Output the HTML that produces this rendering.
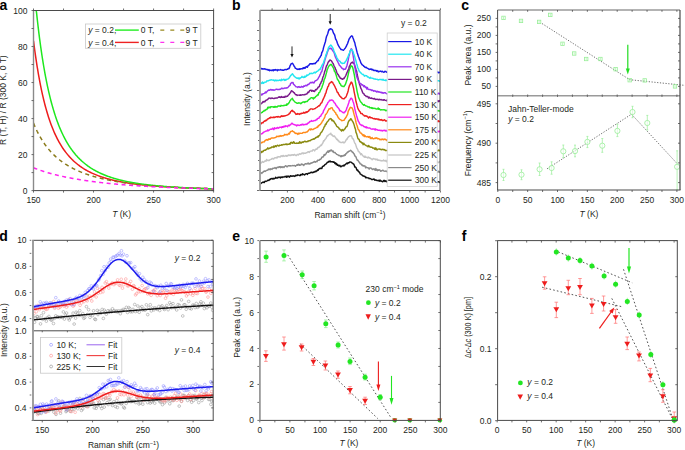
<!DOCTYPE html>
<html><head><meta charset="utf-8"><style>
html,body{margin:0;padding:0;background:#fff;width:685px;height:450px;overflow:hidden}
svg{display:block;font-family:"Liberation Sans",sans-serif}
</style></head><body>
<svg width="685" height="450" viewBox="0 0 685 450">
<rect width="685" height="450" fill="#fff"/>
<text x="-0.6" y="9.7" font-size="14" font-weight="bold" fill="#000">a</text>
<defs><clipPath id="ca"><rect x="33.5" y="10.5" width="180.1" height="180.1"/></clipPath></defs>
<g clip-path="url(#ca)">
<path d="M33.50,40.74 L34.10,45.45 L34.70,49.98 L35.31,54.31 L35.91,58.47 L36.51,62.47 L37.11,66.30 L37.72,69.99 L38.32,73.53 L38.92,76.93 L39.52,80.21 L40.13,83.36 L40.73,86.39 L41.33,89.31 L41.93,92.12 L42.54,94.83 L43.14,97.44 L43.74,99.96 L44.34,102.38 L44.94,104.72 L45.55,106.98 L46.15,109.16 L46.75,111.27 L47.35,113.30 L47.96,115.27 L48.56,117.17 L49.16,119.01 L49.76,120.78 L50.37,122.50 L50.97,124.16 L51.57,125.77 L52.17,127.32 L52.77,128.83 L53.38,130.29 L53.98,131.70 L54.58,133.08 L55.18,134.40 L55.79,135.69 L56.39,136.94 L56.99,138.15 L57.59,139.33 L58.20,140.47 L58.80,141.57 L59.40,142.65 L60.00,143.69 L60.61,144.70 L61.21,145.69 L61.81,146.65 L62.41,147.58 L63.01,148.48 L63.62,149.36 L64.22,150.21 L64.82,151.04 L65.42,151.85 L66.03,152.64 L66.63,153.40 L67.23,154.15 L67.83,154.87 L68.44,155.58 L69.04,156.27 L69.64,156.94 L70.24,157.59 L70.85,158.23 L71.45,158.85 L72.05,159.45 L72.65,160.04 L73.25,160.62 L73.86,161.18 L74.46,161.73 L75.06,162.26 L75.66,162.78 L76.27,163.29 L76.87,163.78 L77.47,164.27 L78.07,164.74 L78.68,165.20 L79.28,165.65 L79.88,166.09 L80.48,166.52 L81.08,166.94 L81.69,167.35 L82.29,167.75 L82.89,168.14 L83.49,168.53 L84.10,168.90 L84.70,169.27 L85.30,169.63 L85.90,169.98 L86.51,170.32 L87.11,170.66 L87.71,170.98 L88.31,171.30 L88.92,171.62 L89.52,171.93 L90.12,172.23 L90.72,172.52 L91.32,172.81 L91.93,173.09 L92.53,173.37 L93.13,173.64 L93.73,173.91 L94.34,174.17 L94.94,174.42 L95.54,174.67 L96.14,174.91 L96.75,175.15 L97.35,175.39 L97.95,175.62 L98.55,175.84 L99.16,176.07 L99.76,176.28 L100.36,176.50 L100.96,176.70 L101.56,176.91 L102.17,177.11 L102.77,177.31 L103.37,177.50 L103.97,177.69 L104.58,177.88 L105.18,178.06 L105.78,178.24 L106.38,178.41 L106.99,178.59 L107.59,178.75 L108.19,178.92 L108.79,179.08 L109.39,179.24 L110.00,179.40 L110.60,179.56 L111.20,179.71 L111.80,179.86 L112.41,180.00 L113.01,180.15 L113.61,180.29 L114.21,180.43 L114.82,180.57 L115.42,180.70 L116.02,180.83 L116.62,180.96 L117.23,181.09 L117.83,181.21 L118.43,181.34 L119.03,181.46 L119.63,181.58 L120.24,181.69 L120.84,181.81 L121.44,181.92 L122.04,182.03 L122.65,182.14 L123.25,182.25 L123.85,182.36 L124.45,182.46 L125.06,182.56 L125.66,182.66 L126.26,182.76 L126.86,182.86 L127.47,182.96 L128.07,183.05 L128.67,183.15 L129.27,183.24 L129.87,183.33 L130.48,183.42 L131.08,183.50 L131.68,183.59 L132.28,183.67 L132.89,183.76 L133.49,183.84 L134.09,183.92 L134.69,184.00 L135.30,184.08 L135.90,184.15 L136.50,184.23 L137.10,184.31 L137.71,184.38 L138.31,184.45 L138.91,184.52 L139.51,184.59 L140.11,184.66 L140.72,184.73 L141.32,184.80 L141.92,184.86 L142.52,184.93 L143.13,184.99 L143.73,185.06 L144.33,185.12 L144.93,185.18 L145.54,185.24 L146.14,185.30 L146.74,185.36 L147.34,185.42 L147.94,185.48 L148.55,185.53 L149.15,185.59 L149.75,185.65 L150.35,185.70 L150.96,185.75 L151.56,185.81 L152.16,185.86 L152.76,185.91 L153.37,185.96 L153.97,186.01 L154.57,186.06 L155.17,186.11 L155.78,186.16 L156.38,186.20 L156.98,186.25 L157.58,186.30 L158.18,186.34 L158.79,186.39 L159.39,186.43 L159.99,186.47 L160.59,186.52 L161.20,186.56 L161.80,186.60 L162.40,186.64 L163.00,186.68 L163.61,186.72 L164.21,186.76 L164.81,186.80 L165.41,186.84 L166.02,186.88 L166.62,186.92 L167.22,186.95 L167.82,186.99 L168.42,187.03 L169.03,187.06 L169.63,187.10 L170.23,187.13 L170.83,187.17 L171.44,187.20 L172.04,187.23 L172.64,187.27 L173.24,187.30 L173.85,187.33 L174.45,187.36 L175.05,187.39 L175.65,187.43 L176.25,187.46 L176.86,187.49 L177.46,187.52 L178.06,187.55 L178.66,187.58 L179.27,187.60 L179.87,187.63 L180.47,187.66 L181.07,187.69 L181.68,187.72 L182.28,187.74 L182.88,187.77 L183.48,187.80 L184.09,187.82 L184.69,187.85 L185.29,187.88 L185.89,187.90 L186.49,187.93 L187.10,187.95 L187.70,187.97 L188.30,188.00 L188.90,188.02 L189.51,188.05 L190.11,188.07 L190.71,188.09 L191.31,188.12 L191.92,188.14 L192.52,188.16 L193.12,188.18 L193.72,188.20 L194.33,188.23 L194.93,188.25 L195.53,188.27 L196.13,188.29 L196.73,188.31 L197.34,188.33 L197.94,188.35 L198.54,188.37 L199.14,188.39 L199.75,188.41 L200.35,188.43 L200.95,188.45 L201.55,188.46 L202.16,188.48 L202.76,188.50 L203.36,188.52 L203.96,188.54 L204.56,188.56 L205.17,188.57 L205.77,188.59 L206.37,188.61 L206.97,188.62 L207.58,188.64 L208.18,188.66 L208.78,188.67 L209.38,188.69 L209.99,188.71 L210.59,188.72 L211.19,188.74 L211.79,188.75 L212.40,188.77 L213.00,188.78 L213.60,188.80" fill="none" stroke="#ee1c1c" stroke-width="1.5" stroke-linejoin="round" />
<path d="M33.50,8.70 L34.10,8.70 L34.70,8.70 L35.31,8.70 L35.91,8.70 L36.51,12.34 L37.11,17.92 L37.72,23.27 L38.32,28.41 L38.92,33.34 L39.52,38.07 L40.13,42.62 L40.73,47.00 L41.33,51.20 L41.93,55.25 L42.54,59.14 L43.14,62.89 L43.74,66.50 L44.34,69.97 L44.94,73.32 L45.55,76.55 L46.15,79.66 L46.75,82.66 L47.35,85.56 L47.96,88.35 L48.56,91.05 L49.16,93.66 L49.76,96.17 L50.37,98.60 L50.97,100.95 L51.57,103.23 L52.17,105.42 L52.77,107.55 L53.38,109.60 L53.98,111.59 L54.58,113.52 L55.18,115.39 L55.79,117.19 L56.39,118.95 L56.99,120.64 L57.59,122.29 L58.20,123.88 L58.80,125.43 L59.40,126.93 L60.00,128.38 L60.61,129.79 L61.21,131.16 L61.81,132.49 L62.41,133.78 L63.01,135.04 L63.62,136.26 L64.22,137.44 L64.82,138.59 L65.42,139.71 L66.03,140.80 L66.63,141.86 L67.23,142.89 L67.83,143.89 L68.44,144.86 L69.04,145.81 L69.64,146.73 L70.24,147.63 L70.85,148.50 L71.45,149.35 L72.05,150.18 L72.65,150.99 L73.25,151.78 L73.86,152.54 L74.46,153.29 L75.06,154.02 L75.66,154.73 L76.27,155.42 L76.87,156.10 L77.47,156.76 L78.07,157.40 L78.68,158.03 L79.28,158.64 L79.88,159.24 L80.48,159.82 L81.08,160.39 L81.69,160.95 L82.29,161.49 L82.89,162.02 L83.49,162.54 L84.10,163.04 L84.70,163.54 L85.30,164.02 L85.90,164.49 L86.51,164.95 L87.11,165.41 L87.71,165.85 L88.31,166.28 L88.92,166.70 L89.52,167.11 L90.12,167.51 L90.72,167.91 L91.32,168.30 L91.93,168.67 L92.53,169.04 L93.13,169.41 L93.73,169.76 L94.34,170.11 L94.94,170.45 L95.54,170.78 L96.14,171.10 L96.75,171.42 L97.35,171.73 L97.95,172.04 L98.55,172.34 L99.16,172.63 L99.76,172.92 L100.36,173.20 L100.96,173.48 L101.56,173.75 L102.17,174.01 L102.77,174.27 L103.37,174.53 L103.97,174.78 L104.58,175.02 L105.18,175.26 L105.78,175.50 L106.38,175.73 L106.99,175.96 L107.59,176.18 L108.19,176.40 L108.79,176.61 L109.39,176.82 L110.00,177.03 L110.60,177.23 L111.20,177.43 L111.80,177.62 L112.41,177.82 L113.01,178.00 L113.61,178.19 L114.21,178.37 L114.82,178.55 L115.42,178.72 L116.02,178.89 L116.62,179.06 L117.23,179.22 L117.83,179.39 L118.43,179.55 L119.03,179.70 L119.63,179.86 L120.24,180.01 L120.84,180.16 L121.44,180.30 L122.04,180.45 L122.65,180.59 L123.25,180.73 L123.85,180.86 L124.45,181.00 L125.06,181.13 L125.66,181.26 L126.26,181.38 L126.86,181.51 L127.47,181.63 L128.07,181.75 L128.67,181.87 L129.27,181.99 L129.87,182.10 L130.48,182.22 L131.08,182.33 L131.68,182.44 L132.28,182.54 L132.89,182.65 L133.49,182.75 L134.09,182.86 L134.69,182.96 L135.30,183.06 L135.90,183.15 L136.50,183.25 L137.10,183.34 L137.71,183.44 L138.31,183.53 L138.91,183.62 L139.51,183.71 L140.11,183.80 L140.72,183.88 L141.32,183.97 L141.92,184.05 L142.52,184.13 L143.13,184.21 L143.73,184.29 L144.33,184.37 L144.93,184.45 L145.54,184.52 L146.14,184.60 L146.74,184.67 L147.34,184.74 L147.94,184.82 L148.55,184.89 L149.15,184.95 L149.75,185.02 L150.35,185.09 L150.96,185.16 L151.56,185.22 L152.16,185.29 L152.76,185.35 L153.37,185.41 L153.97,185.47 L154.57,185.53 L155.17,185.59 L155.78,185.65 L156.38,185.71 L156.98,185.77 L157.58,185.83 L158.18,185.88 L158.79,185.94 L159.39,185.99 L159.99,186.04 L160.59,186.10 L161.20,186.15 L161.80,186.20 L162.40,186.25 L163.00,186.30 L163.61,186.35 L164.21,186.40 L164.81,186.44 L165.41,186.49 L166.02,186.54 L166.62,186.58 L167.22,186.63 L167.82,186.67 L168.42,186.72 L169.03,186.76 L169.63,186.80 L170.23,186.84 L170.83,186.88 L171.44,186.93 L172.04,186.97 L172.64,187.01 L173.24,187.04 L173.85,187.08 L174.45,187.12 L175.05,187.16 L175.65,187.20 L176.25,187.23 L176.86,187.27 L177.46,187.31 L178.06,187.34 L178.66,187.38 L179.27,187.41 L179.87,187.44 L180.47,187.48 L181.07,187.51 L181.68,187.54 L182.28,187.58 L182.88,187.61 L183.48,187.64 L184.09,187.67 L184.69,187.70 L185.29,187.73 L185.89,187.76 L186.49,187.79 L187.10,187.82 L187.70,187.85 L188.30,187.88 L188.90,187.90 L189.51,187.93 L190.11,187.96 L190.71,187.99 L191.31,188.01 L191.92,188.04 L192.52,188.06 L193.12,188.09 L193.72,188.12 L194.33,188.14 L194.93,188.16 L195.53,188.19 L196.13,188.21 L196.73,188.24 L197.34,188.26 L197.94,188.28 L198.54,188.31 L199.14,188.33 L199.75,188.35 L200.35,188.37 L200.95,188.40 L201.55,188.42 L202.16,188.44 L202.76,188.46 L203.36,188.48 L203.96,188.50 L204.56,188.52 L205.17,188.54 L205.77,188.56 L206.37,188.58 L206.97,188.60 L207.58,188.62 L208.18,188.64 L208.78,188.66 L209.38,188.68 L209.99,188.69 L210.59,188.71 L211.19,188.73 L211.79,188.75 L212.40,188.76 L213.00,188.78 L213.60,188.80" fill="none" stroke="#1ee81e" stroke-width="1.5" stroke-linejoin="round" />
<path d="M33.50,123.16 L34.10,124.62 L34.70,126.03 L35.31,127.39 L35.91,128.71 L36.51,129.99 L37.11,131.24 L37.72,132.44 L38.32,133.61 L38.92,134.75 L39.52,135.85 L40.13,136.92 L40.73,137.96 L41.33,138.97 L41.93,139.95 L42.54,140.91 L43.14,141.84 L43.74,142.74 L44.34,143.62 L44.94,144.48 L45.55,145.31 L46.15,146.12 L46.75,146.92 L47.35,147.69 L47.96,148.44 L48.56,149.17 L49.16,149.89 L49.76,150.59 L50.37,151.27 L50.97,151.93 L51.57,152.58 L52.17,153.21 L52.77,153.83 L53.38,154.43 L53.98,155.02 L54.58,155.60 L55.18,156.16 L55.79,156.72 L56.39,157.26 L56.99,157.78 L57.59,158.30 L58.20,158.80 L58.80,159.30 L59.40,159.78 L60.00,160.25 L60.61,160.72 L61.21,161.17 L61.81,161.61 L62.41,162.05 L63.01,162.47 L63.62,162.89 L64.22,163.30 L64.82,163.70 L65.42,164.10 L66.03,164.48 L66.63,164.86 L67.23,165.23 L67.83,165.59 L68.44,165.95 L69.04,166.30 L69.64,166.65 L70.24,166.98 L70.85,167.31 L71.45,167.64 L72.05,167.96 L72.65,168.27 L73.25,168.58 L73.86,168.88 L74.46,169.18 L75.06,169.47 L75.66,169.76 L76.27,170.04 L76.87,170.32 L77.47,170.59 L78.07,170.85 L78.68,171.12 L79.28,171.38 L79.88,171.63 L80.48,171.88 L81.08,172.13 L81.69,172.37 L82.29,172.60 L82.89,172.84 L83.49,173.07 L84.10,173.29 L84.70,173.52 L85.30,173.74 L85.90,173.95 L86.51,174.16 L87.11,174.37 L87.71,174.58 L88.31,174.78 L88.92,174.98 L89.52,175.17 L90.12,175.37 L90.72,175.56 L91.32,175.75 L91.93,175.93 L92.53,176.11 L93.13,176.29 L93.73,176.47 L94.34,176.64 L94.94,176.81 L95.54,176.98 L96.14,177.14 L96.75,177.31 L97.35,177.47 L97.95,177.63 L98.55,177.78 L99.16,177.94 L99.76,178.09 L100.36,178.24 L100.96,178.39 L101.56,178.53 L102.17,178.68 L102.77,178.82 L103.37,178.96 L103.97,179.09 L104.58,179.23 L105.18,179.36 L105.78,179.49 L106.38,179.62 L106.99,179.75 L107.59,179.88 L108.19,180.00 L108.79,180.13 L109.39,180.25 L110.00,180.37 L110.60,180.49 L111.20,180.60 L111.80,180.72 L112.41,180.83 L113.01,180.94 L113.61,181.05 L114.21,181.16 L114.82,181.27 L115.42,181.37 L116.02,181.48 L116.62,181.58 L117.23,181.68 L117.83,181.78 L118.43,181.88 L119.03,181.98 L119.63,182.08 L120.24,182.17 L120.84,182.27 L121.44,182.36 L122.04,182.45 L122.65,182.54 L123.25,182.63 L123.85,182.72 L124.45,182.80 L125.06,182.89 L125.66,182.97 L126.26,183.06 L126.86,183.14 L127.47,183.22 L128.07,183.30 L128.67,183.38 L129.27,183.46 L129.87,183.54 L130.48,183.62 L131.08,183.69 L131.68,183.77 L132.28,183.84 L132.89,183.91 L133.49,183.98 L134.09,184.05 L134.69,184.12 L135.30,184.19 L135.90,184.26 L136.50,184.33 L137.10,184.40 L137.71,184.46 L138.31,184.53 L138.91,184.59 L139.51,184.66 L140.11,184.72 L140.72,184.78 L141.32,184.84 L141.92,184.90 L142.52,184.96 L143.13,185.02 L143.73,185.08 L144.33,185.14 L144.93,185.19 L145.54,185.25 L146.14,185.31 L146.74,185.36 L147.34,185.42 L147.94,185.47 L148.55,185.52 L149.15,185.57 L149.75,185.63 L150.35,185.68 L150.96,185.73 L151.56,185.78 L152.16,185.83 L152.76,185.88 L153.37,185.92 L153.97,185.97 L154.57,186.02 L155.17,186.07 L155.78,186.11 L156.38,186.16 L156.98,186.20 L157.58,186.25 L158.18,186.29 L158.79,186.33 L159.39,186.38 L159.99,186.42 L160.59,186.46 L161.20,186.50 L161.80,186.54 L162.40,186.58 L163.00,186.62 L163.61,186.66 L164.21,186.70 L164.81,186.74 L165.41,186.78 L166.02,186.82 L166.62,186.86 L167.22,186.89 L167.82,186.93 L168.42,186.96 L169.03,187.00 L169.63,187.04 L170.23,187.07 L170.83,187.11 L171.44,187.14 L172.04,187.17 L172.64,187.21 L173.24,187.24 L173.85,187.27 L174.45,187.30 L175.05,187.34 L175.65,187.37 L176.25,187.40 L176.86,187.43 L177.46,187.46 L178.06,187.49 L178.66,187.52 L179.27,187.55 L179.87,187.58 L180.47,187.61 L181.07,187.64 L181.68,187.67 L182.28,187.69 L182.88,187.72 L183.48,187.75 L184.09,187.77 L184.69,187.80 L185.29,187.83 L185.89,187.85 L186.49,187.88 L187.10,187.91 L187.70,187.93 L188.30,187.96 L188.90,187.98 L189.51,188.01 L190.11,188.03 L190.71,188.05 L191.31,188.08 L191.92,188.10 L192.52,188.12 L193.12,188.15 L193.72,188.17 L194.33,188.19 L194.93,188.21 L195.53,188.24 L196.13,188.26 L196.73,188.28 L197.34,188.30 L197.94,188.32 L198.54,188.34 L199.14,188.36 L199.75,188.38 L200.35,188.40 L200.95,188.42 L201.55,188.44 L202.16,188.46 L202.76,188.48 L203.36,188.50 L203.96,188.52 L204.56,188.54 L205.17,188.56 L205.77,188.58 L206.37,188.59 L206.97,188.61 L207.58,188.63 L208.18,188.65 L208.78,188.67 L209.38,188.68 L209.99,188.70 L210.59,188.72 L211.19,188.73 L211.79,188.75 L212.40,188.77 L213.00,188.78 L213.60,188.80" fill="none" stroke="#8a7a1a" stroke-width="1.5" stroke-linejoin="round" stroke-dasharray="4,3.5"/>
<path d="M33.50,167.71 L34.10,167.96 L34.70,168.21 L35.31,168.45 L35.91,168.69 L36.51,168.92 L37.11,169.15 L37.72,169.38 L38.32,169.60 L38.92,169.82 L39.52,170.04 L40.13,170.25 L40.73,170.46 L41.33,170.66 L41.93,170.87 L42.54,171.07 L43.14,171.26 L43.74,171.46 L44.34,171.65 L44.94,171.84 L45.55,172.02 L46.15,172.21 L46.75,172.39 L47.35,172.57 L47.96,172.74 L48.56,172.92 L49.16,173.09 L49.76,173.26 L50.37,173.43 L50.97,173.59 L51.57,173.76 L52.17,173.92 L52.77,174.08 L53.38,174.23 L53.98,174.39 L54.58,174.54 L55.18,174.69 L55.79,174.84 L56.39,174.99 L56.99,175.14 L57.59,175.28 L58.20,175.42 L58.80,175.56 L59.40,175.70 L60.00,175.84 L60.61,175.98 L61.21,176.11 L61.81,176.25 L62.41,176.38 L63.01,176.51 L63.62,176.64 L64.22,176.77 L64.82,176.89 L65.42,177.02 L66.03,177.14 L66.63,177.26 L67.23,177.39 L67.83,177.50 L68.44,177.62 L69.04,177.74 L69.64,177.86 L70.24,177.97 L70.85,178.09 L71.45,178.20 L72.05,178.31 L72.65,178.42 L73.25,178.53 L73.86,178.64 L74.46,178.74 L75.06,178.85 L75.66,178.95 L76.27,179.06 L76.87,179.16 L77.47,179.26 L78.07,179.36 L78.68,179.46 L79.28,179.56 L79.88,179.66 L80.48,179.76 L81.08,179.85 L81.69,179.95 L82.29,180.04 L82.89,180.13 L83.49,180.23 L84.10,180.32 L84.70,180.41 L85.30,180.50 L85.90,180.59 L86.51,180.67 L87.11,180.76 L87.71,180.85 L88.31,180.93 L88.92,181.02 L89.52,181.10 L90.12,181.19 L90.72,181.27 L91.32,181.35 L91.93,181.43 L92.53,181.51 L93.13,181.59 L93.73,181.67 L94.34,181.74 L94.94,181.82 L95.54,181.90 L96.14,181.97 L96.75,182.05 L97.35,182.12 L97.95,182.20 L98.55,182.27 L99.16,182.34 L99.76,182.41 L100.36,182.48 L100.96,182.55 L101.56,182.62 L102.17,182.69 L102.77,182.76 L103.37,182.83 L103.97,182.89 L104.58,182.96 L105.18,183.03 L105.78,183.09 L106.38,183.15 L106.99,183.22 L107.59,183.28 L108.19,183.34 L108.79,183.41 L109.39,183.47 L110.00,183.53 L110.60,183.59 L111.20,183.65 L111.80,183.71 L112.41,183.77 L113.01,183.83 L113.61,183.88 L114.21,183.94 L114.82,184.00 L115.42,184.05 L116.02,184.11 L116.62,184.16 L117.23,184.22 L117.83,184.27 L118.43,184.33 L119.03,184.38 L119.63,184.43 L120.24,184.48 L120.84,184.53 L121.44,184.59 L122.04,184.64 L122.65,184.69 L123.25,184.74 L123.85,184.79 L124.45,184.83 L125.06,184.88 L125.66,184.93 L126.26,184.98 L126.86,185.03 L127.47,185.07 L128.07,185.12 L128.67,185.16 L129.27,185.21 L129.87,185.25 L130.48,185.30 L131.08,185.34 L131.68,185.39 L132.28,185.43 L132.89,185.47 L133.49,185.52 L134.09,185.56 L134.69,185.60 L135.30,185.64 L135.90,185.68 L136.50,185.72 L137.10,185.76 L137.71,185.80 L138.31,185.84 L138.91,185.88 L139.51,185.92 L140.11,185.96 L140.72,186.00 L141.32,186.04 L141.92,186.07 L142.52,186.11 L143.13,186.15 L143.73,186.18 L144.33,186.22 L144.93,186.26 L145.54,186.29 L146.14,186.33 L146.74,186.36 L147.34,186.40 L147.94,186.43 L148.55,186.46 L149.15,186.50 L149.75,186.53 L150.35,186.56 L150.96,186.60 L151.56,186.63 L152.16,186.66 L152.76,186.69 L153.37,186.72 L153.97,186.75 L154.57,186.79 L155.17,186.82 L155.78,186.85 L156.38,186.88 L156.98,186.91 L157.58,186.94 L158.18,186.97 L158.79,186.99 L159.39,187.02 L159.99,187.05 L160.59,187.08 L161.20,187.11 L161.80,187.14 L162.40,187.16 L163.00,187.19 L163.61,187.22 L164.21,187.24 L164.81,187.27 L165.41,187.30 L166.02,187.32 L166.62,187.35 L167.22,187.38 L167.82,187.40 L168.42,187.43 L169.03,187.45 L169.63,187.48 L170.23,187.50 L170.83,187.52 L171.44,187.55 L172.04,187.57 L172.64,187.60 L173.24,187.62 L173.85,187.64 L174.45,187.67 L175.05,187.69 L175.65,187.71 L176.25,187.73 L176.86,187.76 L177.46,187.78 L178.06,187.80 L178.66,187.82 L179.27,187.84 L179.87,187.86 L180.47,187.88 L181.07,187.91 L181.68,187.93 L182.28,187.95 L182.88,187.97 L183.48,187.99 L184.09,188.01 L184.69,188.03 L185.29,188.05 L185.89,188.07 L186.49,188.08 L187.10,188.10 L187.70,188.12 L188.30,188.14 L188.90,188.16 L189.51,188.18 L190.11,188.20 L190.71,188.22 L191.31,188.23 L191.92,188.25 L192.52,188.27 L193.12,188.29 L193.72,188.30 L194.33,188.32 L194.93,188.34 L195.53,188.35 L196.13,188.37 L196.73,188.39 L197.34,188.40 L197.94,188.42 L198.54,188.44 L199.14,188.45 L199.75,188.47 L200.35,188.48 L200.95,188.50 L201.55,188.52 L202.16,188.53 L202.76,188.55 L203.36,188.56 L203.96,188.58 L204.56,188.59 L205.17,188.61 L205.77,188.62 L206.37,188.63 L206.97,188.65 L207.58,188.66 L208.18,188.68 L208.78,188.69 L209.38,188.71 L209.99,188.72 L210.59,188.73 L211.19,188.75 L211.79,188.76 L212.40,188.77 L213.00,188.79 L213.60,188.80" fill="none" stroke="#ff22ee" stroke-width="1.5" stroke-linejoin="round" stroke-dasharray="4,3.5"/>
</g>
<rect x="33.50" y="10.50" width="180.10" height="180.10" fill="none" stroke="#4a4a4a" stroke-width="1.0"/>
<line x1="33.50" y1="10.50" x2="33.50" y2="190.60" stroke="#8a8a8a" stroke-width="1.4" />
<line x1="33.50" y1="190.60" x2="33.50" y2="192.60" stroke="#4a4a4a" stroke-width="0.8" />
<line x1="63.52" y1="190.60" x2="63.52" y2="192.60" stroke="#4a4a4a" stroke-width="0.8" />
<line x1="93.53" y1="190.60" x2="93.53" y2="192.60" stroke="#4a4a4a" stroke-width="0.8" />
<line x1="123.55" y1="190.60" x2="123.55" y2="192.60" stroke="#4a4a4a" stroke-width="0.8" />
<line x1="153.57" y1="190.60" x2="153.57" y2="192.60" stroke="#4a4a4a" stroke-width="0.8" />
<line x1="183.58" y1="190.60" x2="183.58" y2="192.60" stroke="#4a4a4a" stroke-width="0.8" />
<line x1="213.60" y1="190.60" x2="213.60" y2="192.60" stroke="#4a4a4a" stroke-width="0.8" />
<line x1="33.50" y1="10.50" x2="33.50" y2="8.50" stroke="#4a4a4a" stroke-width="0.8" />
<line x1="63.52" y1="10.50" x2="63.52" y2="8.50" stroke="#4a4a4a" stroke-width="0.8" />
<line x1="93.53" y1="10.50" x2="93.53" y2="8.50" stroke="#4a4a4a" stroke-width="0.8" />
<line x1="123.55" y1="10.50" x2="123.55" y2="8.50" stroke="#4a4a4a" stroke-width="0.8" />
<line x1="153.57" y1="10.50" x2="153.57" y2="8.50" stroke="#4a4a4a" stroke-width="0.8" />
<line x1="183.58" y1="10.50" x2="183.58" y2="8.50" stroke="#4a4a4a" stroke-width="0.8" />
<line x1="213.60" y1="10.50" x2="213.60" y2="8.50" stroke="#4a4a4a" stroke-width="0.8" />
<line x1="33.50" y1="190.60" x2="31.50" y2="190.60" stroke="#4a4a4a" stroke-width="0.8" />
<line x1="33.50" y1="172.59" x2="31.50" y2="172.59" stroke="#4a4a4a" stroke-width="0.8" />
<line x1="33.50" y1="154.58" x2="31.50" y2="154.58" stroke="#4a4a4a" stroke-width="0.8" />
<line x1="33.50" y1="136.57" x2="31.50" y2="136.57" stroke="#4a4a4a" stroke-width="0.8" />
<line x1="33.50" y1="118.56" x2="31.50" y2="118.56" stroke="#4a4a4a" stroke-width="0.8" />
<line x1="33.50" y1="100.55" x2="31.50" y2="100.55" stroke="#4a4a4a" stroke-width="0.8" />
<line x1="33.50" y1="82.54" x2="31.50" y2="82.54" stroke="#4a4a4a" stroke-width="0.8" />
<line x1="33.50" y1="64.53" x2="31.50" y2="64.53" stroke="#4a4a4a" stroke-width="0.8" />
<line x1="33.50" y1="46.52" x2="31.50" y2="46.52" stroke="#4a4a4a" stroke-width="0.8" />
<line x1="33.50" y1="28.51" x2="31.50" y2="28.51" stroke="#4a4a4a" stroke-width="0.8" />
<line x1="33.50" y1="10.50" x2="31.50" y2="10.50" stroke="#4a4a4a" stroke-width="0.8" />
<line x1="213.60" y1="190.60" x2="211.60" y2="190.60" stroke="#4a4a4a" stroke-width="0.8" />
<line x1="213.60" y1="172.59" x2="211.60" y2="172.59" stroke="#4a4a4a" stroke-width="0.8" />
<line x1="213.60" y1="154.58" x2="211.60" y2="154.58" stroke="#4a4a4a" stroke-width="0.8" />
<line x1="213.60" y1="136.57" x2="211.60" y2="136.57" stroke="#4a4a4a" stroke-width="0.8" />
<line x1="213.60" y1="118.56" x2="211.60" y2="118.56" stroke="#4a4a4a" stroke-width="0.8" />
<line x1="213.60" y1="100.55" x2="211.60" y2="100.55" stroke="#4a4a4a" stroke-width="0.8" />
<line x1="213.60" y1="82.54" x2="211.60" y2="82.54" stroke="#4a4a4a" stroke-width="0.8" />
<line x1="213.60" y1="64.53" x2="211.60" y2="64.53" stroke="#4a4a4a" stroke-width="0.8" />
<line x1="213.60" y1="46.52" x2="211.60" y2="46.52" stroke="#4a4a4a" stroke-width="0.8" />
<line x1="213.60" y1="28.51" x2="211.60" y2="28.51" stroke="#4a4a4a" stroke-width="0.8" />
<line x1="213.60" y1="10.50" x2="211.60" y2="10.50" stroke="#4a4a4a" stroke-width="0.8" />
<text x="33.50" y="203.00" font-size="8.5" text-anchor="middle" fill="#231f20" >150</text>
<text x="93.53" y="203.00" font-size="8.5" text-anchor="middle" fill="#231f20" >200</text>
<text x="153.57" y="203.00" font-size="8.5" text-anchor="middle" fill="#231f20" >250</text>
<text x="213.60" y="203.00" font-size="8.5" text-anchor="middle" fill="#231f20" >300</text>
<text x="27.40" y="193.62" font-size="8.5" text-anchor="end" fill="#231f20" >0</text>
<text x="27.40" y="157.60" font-size="8.5" text-anchor="end" fill="#231f20" >20</text>
<text x="27.40" y="121.58" font-size="8.5" text-anchor="end" fill="#231f20" >40</text>
<text x="27.40" y="85.56" font-size="8.5" text-anchor="end" fill="#231f20" >60</text>
<text x="27.40" y="49.54" font-size="8.5" text-anchor="end" fill="#231f20" >80</text>
<text x="27.40" y="13.52" font-size="8.5" text-anchor="end" fill="#231f20" >100</text>
<text x="121.6" y="217.1" font-size="8.5" text-anchor="middle" fill="#231f20"><tspan font-style="italic">T</tspan> (K)</text>
<text x="0" y="0" font-size="8.5" text-anchor="middle" fill="#231f20" transform="translate(6.00,100.10) rotate(-90)">R (T, H) / R (300 K, 0 T)</text>
<rect x="85.5" y="24" width="115.3" height="24.3" fill="#fff" stroke="#c8c8c8" stroke-width="0.8"/>
<text x="88.2" y="33.3" font-size="8.5" fill="#231f20"><tspan font-style="italic">y</tspan> = 0.2,</text>
<text x="88.2" y="45.6" font-size="8.5" fill="#231f20"><tspan font-style="italic">y</tspan> = 0.4,</text>
<line x1="115.00" y1="30.10" x2="138.80" y2="30.10" stroke="#22ee22" stroke-width="1.4" />
<line x1="115.00" y1="42.40" x2="138.80" y2="42.40" stroke="#ee2222" stroke-width="1.4" />
<text x="140.80" y="33.30" font-size="8.5" text-anchor="start" fill="#231f20" >0 T,</text>
<text x="140.80" y="45.60" font-size="8.5" text-anchor="start" fill="#231f20" >0 T,</text>
<line x1="160.30" y1="30.10" x2="184.50" y2="30.10" stroke="#9a8a20" stroke-width="1.4" stroke-dasharray="4,6"/>
<line x1="160.30" y1="42.40" x2="184.50" y2="42.40" stroke="#ff33ee" stroke-width="1.4" stroke-dasharray="4,6"/>
<text x="185.50" y="33.30" font-size="8.5" text-anchor="start" fill="#231f20" >9 T</text>
<text x="185.50" y="45.60" font-size="8.5" text-anchor="start" fill="#231f20" >9 T</text>
<text x="231.9" y="9.8" font-size="14" font-weight="bold" fill="#000">b</text>
<defs><clipPath id="cb"><rect x="260.5" y="10.3" width="179.5" height="180.2"/></clipPath></defs>
<g clip-path="url(#cb)">
<path d="M260.00,184.02 L260.60,183.83 L261.20,183.26 L261.80,182.67 L262.40,182.57 L263.00,182.05 L263.60,182.25 L264.20,182.56 L264.80,181.48 L265.40,181.17 L266.00,181.43 L266.60,181.14 L267.20,180.81 L267.80,180.13 L268.40,180.32 L269.00,180.45 L269.60,179.34 L270.20,179.55 L270.80,178.72 L271.40,178.83 L272.00,178.41 L272.60,178.98 L273.20,178.36 L273.80,178.90 L274.40,178.71 L275.00,178.41 L275.60,177.23 L276.20,178.00 L276.80,178.09 L277.40,178.05 L278.00,177.19 L278.60,177.56 L279.20,177.23 L279.80,177.20 L280.40,177.94 L281.00,177.01 L281.60,177.27 L282.20,177.59 L282.80,176.84 L283.40,176.97 L284.00,176.99 L284.60,176.89 L285.20,176.24 L285.80,176.75 L286.40,177.26 L287.00,175.88 L287.60,176.89 L288.20,176.49 L288.80,176.09 L289.40,177.21 L290.00,176.59 L290.60,175.64 L291.20,176.15 L291.80,176.31 L292.40,175.90 L293.00,176.23 L293.60,175.83 L294.20,176.09 L294.80,176.38 L295.40,175.36 L296.00,175.68 L296.60,175.31 L297.20,175.50 L297.80,174.84 L298.40,175.03 L299.00,175.12 L299.60,175.53 L300.20,175.56 L300.80,174.36 L301.40,174.51 L302.00,175.06 L302.60,173.77 L303.20,174.36 L303.80,174.41 L304.40,174.91 L305.00,174.54 L305.60,173.96 L306.20,173.81 L306.80,173.73 L307.40,174.38 L308.00,173.35 L308.60,173.25 L309.20,173.37 L309.80,172.99 L310.40,172.79 L311.00,172.22 L311.60,172.56 L312.20,172.20 L312.80,172.76 L313.40,172.35 L314.00,171.85 L314.60,171.96 L315.20,171.28 L315.80,171.67 L316.40,170.94 L317.00,170.93 L317.60,169.79 L318.20,170.21 L318.80,168.95 L319.40,168.42 L320.00,168.80 L320.60,168.10 L321.20,168.12 L321.80,168.57 L322.40,166.68 L323.00,166.24 L323.60,166.06 L324.20,165.62 L324.80,164.76 L325.40,164.19 L326.00,164.06 L326.60,163.46 L327.20,162.30 L327.80,162.31 L328.40,162.02 L329.00,161.26 L329.60,161.68 L330.20,161.09 L330.80,161.91 L331.40,161.65 L332.00,161.78 L332.60,161.72 L333.20,162.23 L333.80,161.73 L334.40,162.49 L335.00,163.56 L335.60,162.84 L336.20,164.57 L336.80,163.78 L337.40,165.26 L338.00,164.87 L338.60,165.88 L339.20,165.82 L339.80,165.25 L340.40,166.63 L341.00,166.78 L341.60,166.09 L342.20,165.93 L342.80,165.84 L343.40,165.27 L344.00,165.94 L344.60,164.89 L345.20,164.74 L345.80,164.01 L346.40,163.67 L347.00,162.97 L347.60,163.71 L348.20,162.73 L348.80,162.94 L349.40,162.32 L350.00,161.92 L350.60,162.13 L351.20,162.21 L351.80,162.81 L352.40,163.11 L353.00,163.75 L353.60,163.98 L354.20,165.04 L354.80,167.00 L355.40,166.86 L356.00,167.60 L356.60,169.13 L357.20,170.50 L357.80,170.06 L358.40,171.43 L359.00,171.99 L359.60,172.18 L360.20,173.95 L360.80,174.19 L361.40,174.75 L362.00,174.86 L362.60,175.82 L363.20,175.76 L363.80,176.28 L364.40,176.16 L365.00,176.39 L365.60,177.80 L366.20,177.20 L366.80,177.78 L367.40,177.84 L368.00,177.85 L368.60,178.00 L369.20,178.69 L369.80,178.44 L370.40,178.66 L371.00,178.89 L371.60,179.55 L372.20,179.47 L372.80,179.47 L373.40,179.17 L374.00,178.93 L374.60,180.10 L375.20,180.22 L375.80,179.83 L376.40,180.24 L377.00,180.45 L377.60,180.58 L378.20,180.71 L378.80,180.19 L379.40,181.16 L380.00,180.01 L380.60,181.04 L381.20,180.96 L381.80,181.21 L382.40,181.74 L383.00,181.63 L383.60,180.52 L384.20,180.35 L384.80,181.55 L385.40,180.79 L386.00,181.31 L386.60,181.75 L387.20,180.68 L387.80,180.48 L388.40,181.55 L389.00,181.46 L389.60,181.33 L390.20,181.47 L390.80,181.07 L391.40,180.78 L392.00,181.39 L392.60,181.04 L393.20,180.74 L393.80,181.71 L394.40,181.47 L395.00,181.68 L395.60,181.06 L396.20,181.22 L396.80,181.07 L397.40,181.12 L398.00,181.62 L398.60,181.18 L399.20,181.70 L399.80,181.70 L400.40,182.46 L401.00,180.93 L401.60,181.96 L402.20,181.53 L402.80,181.57 L403.40,180.93 L404.00,181.38 L404.60,181.93 L405.20,181.56 L405.80,181.64 L406.40,181.48 L407.00,182.14 L407.60,181.62 L408.20,180.64 L408.80,181.33 L409.40,180.76 L410.00,180.19 L410.60,181.42 L411.20,182.26 L411.80,181.69 L412.40,181.15 L413.00,181.26 L413.60,182.19 L414.20,181.76 L414.80,181.72 L415.40,181.68 L416.00,181.73 L416.60,182.08 L417.20,181.97 L417.80,181.82 L418.40,181.26 L419.00,181.97 L419.60,181.44 L420.20,182.24 L420.80,181.19 L421.40,181.70 L422.00,181.77 L422.60,181.18 L423.20,182.56 L423.80,182.44 L424.40,181.58 L425.00,182.15 L425.60,181.98 L426.20,180.64 L426.80,181.93 L427.40,181.80 L428.00,181.87 L428.60,181.35 L429.20,181.72 L429.80,181.77 L430.40,182.39 L431.00,182.01 L431.60,181.86 L432.20,182.56 L432.80,181.63 L433.40,181.71 L434.00,181.07 L434.60,182.60 L435.20,182.34 L435.80,182.32 L436.40,182.21 L437.00,181.97 L437.60,182.02 L438.20,181.82 L438.80,181.85 L439.40,181.97 L440.00,182.63 L440.60,182.21" fill="none" stroke="#101010" stroke-width="1.45" stroke-linejoin="round" />
<path d="M260.00,173.60 L260.60,173.03 L261.20,172.69 L261.80,173.39 L262.40,172.61 L263.00,172.12 L263.60,171.66 L264.20,171.04 L264.80,171.25 L265.40,171.41 L266.00,170.59 L266.60,170.43 L267.20,170.19 L267.80,170.11 L268.40,169.13 L269.00,169.53 L269.60,169.05 L270.20,169.64 L270.80,168.72 L271.40,169.16 L272.00,169.43 L272.60,168.46 L273.20,168.19 L273.80,168.40 L274.40,168.18 L275.00,167.61 L275.60,168.14 L276.20,168.71 L276.80,167.57 L277.40,167.48 L278.00,166.99 L278.60,167.49 L279.20,166.68 L279.80,166.65 L280.40,167.62 L281.00,166.55 L281.60,167.35 L282.20,167.46 L282.80,166.81 L283.40,166.86 L284.00,167.42 L284.60,166.37 L285.20,166.12 L285.80,165.71 L286.40,166.27 L287.00,166.86 L287.60,166.56 L288.20,165.64 L288.80,165.62 L289.40,165.72 L290.00,166.02 L290.60,165.74 L291.20,165.88 L291.80,165.86 L292.40,165.54 L293.00,165.60 L293.60,165.66 L294.20,165.48 L294.80,165.69 L295.40,166.25 L296.00,165.62 L296.60,165.32 L297.20,164.48 L297.80,165.36 L298.40,164.25 L299.00,164.43 L299.60,165.39 L300.20,165.25 L300.80,164.80 L301.40,164.03 L302.00,164.56 L302.60,164.34 L303.20,164.85 L303.80,165.50 L304.40,164.50 L305.00,163.96 L305.60,163.68 L306.20,164.08 L306.80,163.92 L307.40,163.36 L308.00,163.80 L308.60,163.10 L309.20,163.97 L309.80,163.80 L310.40,163.67 L311.00,162.84 L311.60,163.15 L312.20,162.73 L312.80,162.47 L313.40,162.34 L314.00,161.74 L314.60,161.49 L315.20,162.30 L315.80,161.63 L316.40,161.57 L317.00,161.66 L317.60,160.14 L318.20,160.24 L318.80,160.32 L319.40,160.03 L320.00,159.26 L320.60,159.42 L321.20,158.55 L321.80,157.36 L322.40,156.90 L323.00,157.05 L323.60,156.25 L324.20,154.52 L324.80,155.30 L325.40,154.28 L326.00,153.96 L326.60,152.55 L327.20,152.02 L327.80,151.13 L328.40,152.35 L329.00,150.80 L329.60,151.38 L330.20,150.27 L330.80,150.65 L331.40,149.95 L332.00,150.76 L332.60,151.68 L333.20,151.05 L333.80,152.53 L334.40,152.66 L335.00,152.52 L335.60,153.25 L336.20,153.75 L336.80,154.39 L337.40,154.59 L338.00,154.85 L338.60,155.43 L339.20,155.39 L339.80,155.49 L340.40,156.21 L341.00,156.71 L341.60,155.64 L342.20,156.25 L342.80,155.80 L343.40,155.40 L344.00,155.90 L344.60,154.87 L345.20,155.29 L345.80,153.72 L346.40,153.67 L347.00,152.79 L347.60,151.97 L348.20,152.03 L348.80,151.24 L349.40,151.23 L350.00,150.75 L350.60,150.28 L351.20,150.91 L351.80,151.38 L352.40,152.38 L353.00,152.30 L353.60,153.59 L354.20,153.82 L354.80,155.94 L355.40,156.24 L356.00,156.98 L356.60,158.81 L357.20,160.33 L357.80,160.08 L358.40,161.13 L359.00,162.06 L359.60,162.58 L360.20,163.88 L360.80,163.90 L361.40,164.43 L362.00,165.45 L362.60,165.23 L363.20,166.11 L363.80,165.79 L364.40,165.96 L365.00,165.94 L365.60,167.85 L366.20,167.09 L366.80,167.56 L367.40,167.64 L368.00,167.92 L368.60,168.06 L369.20,169.08 L369.80,167.93 L370.40,167.86 L371.00,168.27 L371.60,168.27 L372.20,169.36 L372.80,169.54 L373.40,168.88 L374.00,168.82 L374.60,169.41 L375.20,170.32 L375.80,168.55 L376.40,170.17 L377.00,169.56 L377.60,170.62 L378.20,169.78 L378.80,170.24 L379.40,169.78 L380.00,170.12 L380.60,171.27 L381.20,171.11 L381.80,170.65 L382.40,170.52 L383.00,170.14 L383.60,170.90 L384.20,171.14 L384.80,171.19 L385.40,171.26 L386.00,170.87 L386.60,171.42 L387.20,171.48 L387.80,172.08 L388.40,172.35 L389.00,171.45 L389.60,171.18 L390.20,171.50 L390.80,171.26 L391.40,171.20 L392.00,171.52 L392.60,171.08 L393.20,171.83 L393.80,171.52 L394.40,171.68 L395.00,171.49 L395.60,171.25 L396.20,171.16 L396.80,171.49 L397.40,171.35 L398.00,171.71 L398.60,171.61 L399.20,171.00 L399.80,171.65 L400.40,171.02 L401.00,171.36 L401.60,171.51 L402.20,170.71 L402.80,171.69 L403.40,171.73 L404.00,171.59 L404.60,171.48 L405.20,171.51 L405.80,171.24 L406.40,171.57 L407.00,171.45 L407.60,171.74 L408.20,171.16 L408.80,171.82 L409.40,171.78 L410.00,171.66 L410.60,171.53 L411.20,171.99 L411.80,170.99 L412.40,171.96 L413.00,171.86 L413.60,171.89 L414.20,171.94 L414.80,171.48 L415.40,171.66 L416.00,172.07 L416.60,171.98 L417.20,171.89 L417.80,171.12 L418.40,172.05 L419.00,172.34 L419.60,172.28 L420.20,171.93 L420.80,171.13 L421.40,172.26 L422.00,171.78 L422.60,170.71 L423.20,172.03 L423.80,171.19 L424.40,171.29 L425.00,171.59 L425.60,172.45 L426.20,171.72 L426.80,172.01 L427.40,172.69 L428.00,172.62 L428.60,171.86 L429.20,171.81 L429.80,171.36 L430.40,171.62 L431.00,172.13 L431.60,172.12 L432.20,172.00 L432.80,172.40 L433.40,171.61 L434.00,171.94 L434.60,172.30 L435.20,172.24 L435.80,172.46 L436.40,172.17 L437.00,171.86 L437.60,172.16 L438.20,171.56 L438.80,171.28 L439.40,172.28 L440.00,172.00 L440.60,172.17" fill="none" stroke="#8a8a8a" stroke-width="1.45" stroke-linejoin="round" />
<path d="M260.00,163.08 L260.60,163.32 L261.20,162.86 L261.80,162.41 L262.40,161.46 L263.00,162.02 L263.60,162.28 L264.20,161.76 L264.80,161.05 L265.40,161.07 L266.00,161.18 L266.60,159.38 L267.20,160.35 L267.80,160.45 L268.40,160.32 L269.00,160.59 L269.60,160.14 L270.20,159.56 L270.80,159.35 L271.40,159.35 L272.00,158.53 L272.60,158.54 L273.20,158.75 L273.80,159.03 L274.40,157.88 L275.00,157.75 L275.60,157.70 L276.20,158.05 L276.80,157.29 L277.40,157.82 L278.00,156.59 L278.60,156.82 L279.20,156.70 L279.80,157.03 L280.40,157.03 L281.00,155.78 L281.60,155.95 L282.20,156.42 L282.80,155.88 L283.40,155.40 L284.00,156.47 L284.60,156.14 L285.20,156.06 L285.80,155.55 L286.40,156.15 L287.00,155.51 L287.60,156.04 L288.20,155.07 L288.80,155.02 L289.40,155.44 L290.00,154.96 L290.60,155.52 L291.20,155.27 L291.80,154.67 L292.40,155.06 L293.00,154.80 L293.60,155.31 L294.20,154.55 L294.80,154.57 L295.40,155.24 L296.00,155.63 L296.60,155.45 L297.20,154.51 L297.80,154.50 L298.40,155.01 L299.00,154.18 L299.60,153.71 L300.20,154.11 L300.80,154.16 L301.40,153.48 L302.00,153.00 L302.60,152.98 L303.20,153.81 L303.80,153.04 L304.40,153.19 L305.00,153.21 L305.60,153.24 L306.20,152.66 L306.80,152.87 L307.40,152.08 L308.00,152.14 L308.60,151.65 L309.20,152.42 L309.80,151.70 L310.40,151.16 L311.00,151.12 L311.60,150.95 L312.20,151.13 L312.80,149.85 L313.40,149.84 L314.00,149.86 L314.60,150.88 L315.20,149.87 L315.80,149.06 L316.40,149.08 L317.00,149.31 L317.60,147.88 L318.20,147.38 L318.80,147.61 L319.40,146.77 L320.00,146.29 L320.60,145.14 L321.20,145.57 L321.80,144.76 L322.40,143.48 L323.00,142.73 L323.60,140.66 L324.20,140.98 L324.80,139.72 L325.40,139.11 L326.00,138.35 L326.60,137.05 L327.20,135.67 L327.80,135.90 L328.40,134.81 L329.00,134.54 L329.60,134.10 L330.20,134.06 L330.80,133.17 L331.40,134.90 L332.00,134.75 L332.60,135.54 L333.20,136.44 L333.80,136.14 L334.40,135.96 L335.00,137.04 L335.60,137.59 L336.20,138.59 L336.80,139.51 L337.40,139.21 L338.00,140.85 L338.60,140.55 L339.20,141.83 L339.80,142.05 L340.40,142.27 L341.00,142.60 L341.60,142.51 L342.20,142.49 L342.80,141.90 L343.40,142.42 L344.00,142.92 L344.60,142.51 L345.20,141.64 L345.80,140.69 L346.40,139.32 L347.00,139.49 L347.60,138.03 L348.20,137.30 L348.80,136.57 L349.40,136.26 L350.00,135.76 L350.60,135.91 L351.20,135.74 L351.80,136.62 L352.40,138.65 L353.00,138.66 L353.60,139.84 L354.20,141.58 L354.80,143.12 L355.40,143.78 L356.00,145.65 L356.60,147.57 L357.20,148.60 L357.80,149.74 L358.40,151.49 L359.00,151.46 L359.60,152.67 L360.20,153.15 L360.80,154.71 L361.40,153.72 L362.00,154.79 L362.60,155.28 L363.20,156.19 L363.80,156.49 L364.40,157.14 L365.00,156.08 L365.60,157.37 L366.20,157.13 L366.80,157.17 L367.40,157.91 L368.00,157.45 L368.60,157.10 L369.20,158.04 L369.80,157.69 L370.40,158.23 L371.00,158.84 L371.60,158.95 L372.20,159.66 L372.80,158.98 L373.40,158.50 L374.00,158.97 L374.60,159.01 L375.20,158.98 L375.80,159.83 L376.40,159.44 L377.00,158.94 L377.60,160.24 L378.20,159.96 L378.80,160.26 L379.40,160.23 L380.00,160.55 L380.60,160.36 L381.20,160.97 L381.80,160.68 L382.40,160.74 L383.00,160.82 L383.60,160.05 L384.20,160.70 L384.80,160.72 L385.40,161.00 L386.00,160.36 L386.60,161.77 L387.20,161.12 L387.80,160.54 L388.40,160.32 L389.00,160.97 L389.60,161.06 L390.20,160.78 L390.80,161.15 L391.40,160.83 L392.00,161.37 L392.60,160.80 L393.20,161.12 L393.80,161.58 L394.40,162.30 L395.00,160.70 L395.60,160.95 L396.20,160.79 L396.80,161.52 L397.40,160.66 L398.00,160.97 L398.60,161.18 L399.20,160.76 L399.80,160.77 L400.40,160.99 L401.00,160.27 L401.60,160.57 L402.20,161.04 L402.80,161.30 L403.40,161.15 L404.00,160.45 L404.60,161.04 L405.20,161.61 L405.80,161.51 L406.40,161.23 L407.00,160.87 L407.60,161.56 L408.20,161.02 L408.80,160.77 L409.40,160.94 L410.00,161.96 L410.60,161.41 L411.20,161.84 L411.80,161.11 L412.40,161.75 L413.00,161.06 L413.60,161.27 L414.20,162.46 L414.80,161.70 L415.40,161.13 L416.00,161.33 L416.60,161.52 L417.20,161.92 L417.80,161.16 L418.40,160.60 L419.00,161.27 L419.60,161.41 L420.20,161.45 L420.80,162.00 L421.40,161.56 L422.00,161.79 L422.60,160.93 L423.20,161.83 L423.80,162.38 L424.40,161.80 L425.00,161.57 L425.60,161.53 L426.20,162.27 L426.80,161.05 L427.40,161.43 L428.00,161.69 L428.60,161.82 L429.20,161.30 L429.80,161.64 L430.40,161.38 L431.00,161.57 L431.60,161.46 L432.20,161.01 L432.80,161.52 L433.40,161.93 L434.00,161.11 L434.60,161.44 L435.20,161.85 L435.80,161.08 L436.40,161.65 L437.00,161.10 L437.60,162.09 L438.20,162.63 L438.80,162.50 L439.40,161.50 L440.00,161.94 L440.60,161.66" fill="none" stroke="#c4c4c4" stroke-width="1.45" stroke-linejoin="round" />
<path d="M260.00,152.90 L260.60,153.16 L261.20,151.50 L261.80,152.21 L262.40,151.37 L263.00,151.69 L263.60,150.81 L264.20,150.11 L264.80,150.24 L265.40,150.16 L266.00,149.56 L266.60,149.49 L267.20,148.78 L267.80,147.80 L268.40,148.92 L269.00,148.60 L269.60,148.13 L270.20,147.87 L270.80,148.10 L271.40,147.22 L272.00,146.92 L272.60,146.96 L273.20,147.40 L273.80,146.07 L274.40,147.07 L275.00,146.08 L275.60,145.72 L276.20,146.64 L276.80,145.88 L277.40,145.20 L278.00,145.50 L278.60,145.95 L279.20,145.95 L279.80,145.10 L280.40,145.37 L281.00,145.40 L281.60,144.68 L282.20,145.03 L282.80,144.76 L283.40,144.44 L284.00,144.37 L284.60,144.53 L285.20,144.42 L285.80,144.07 L286.40,144.04 L287.00,144.63 L287.60,144.11 L288.20,144.26 L288.80,144.22 L289.40,143.71 L290.00,144.18 L290.60,142.49 L291.20,142.94 L291.80,142.25 L292.40,143.19 L293.00,143.23 L293.60,141.75 L294.20,142.37 L294.80,143.24 L295.40,143.39 L296.00,143.40 L296.60,143.04 L297.20,143.25 L297.80,143.29 L298.40,142.90 L299.00,143.33 L299.60,141.77 L300.20,142.99 L300.80,142.16 L301.40,142.96 L302.00,142.33 L302.60,141.93 L303.20,142.39 L303.80,141.69 L304.40,141.57 L305.00,141.14 L305.60,141.70 L306.20,141.78 L306.80,141.86 L307.40,141.17 L308.00,141.52 L308.60,140.86 L309.20,140.60 L309.80,140.68 L310.40,140.69 L311.00,139.85 L311.60,139.68 L312.20,139.51 L312.80,139.39 L313.40,138.70 L314.00,139.29 L314.60,138.36 L315.20,138.42 L315.80,137.49 L316.40,137.63 L317.00,137.22 L317.60,136.39 L318.20,136.97 L318.80,135.65 L319.40,135.66 L320.00,134.60 L320.60,133.11 L321.20,132.40 L321.80,131.88 L322.40,130.75 L323.00,129.73 L323.60,128.51 L324.20,126.73 L324.80,126.33 L325.40,124.32 L326.00,124.40 L326.60,122.87 L327.20,121.92 L327.80,121.29 L328.40,120.79 L329.00,119.46 L329.60,118.92 L330.20,119.02 L330.80,118.56 L331.40,119.20 L332.00,120.67 L332.60,119.95 L333.20,121.31 L333.80,121.08 L334.40,122.60 L335.00,123.12 L335.60,124.07 L336.20,125.19 L336.80,126.54 L337.40,126.62 L338.00,127.33 L338.60,127.52 L339.20,128.85 L339.80,129.03 L340.40,129.98 L341.00,129.96 L341.60,131.04 L342.20,129.51 L342.80,130.28 L343.40,130.66 L344.00,129.78 L344.60,129.06 L345.20,128.58 L345.80,127.15 L346.40,126.73 L347.00,126.53 L347.60,124.62 L348.20,122.26 L348.80,121.10 L349.40,120.23 L350.00,120.06 L350.60,118.82 L351.20,118.92 L351.80,120.15 L352.40,121.13 L353.00,121.99 L353.60,123.38 L354.20,125.14 L354.80,127.59 L355.40,128.99 L356.00,132.35 L356.60,133.62 L357.20,135.85 L357.80,138.01 L358.40,139.03 L359.00,139.13 L359.60,141.00 L360.20,141.95 L360.80,141.77 L361.40,142.26 L362.00,143.14 L362.60,142.90 L363.20,144.67 L363.80,143.28 L364.40,144.18 L365.00,144.86 L365.60,145.16 L366.20,145.61 L366.80,145.91 L367.40,145.93 L368.00,146.77 L368.60,145.52 L369.20,146.70 L369.80,146.58 L370.40,147.16 L371.00,147.39 L371.60,147.06 L372.20,147.35 L372.80,148.16 L373.40,148.12 L374.00,147.81 L374.60,149.18 L375.20,149.44 L375.80,147.87 L376.40,148.80 L377.00,149.91 L377.60,149.26 L378.20,149.12 L378.80,149.03 L379.40,148.99 L380.00,149.24 L380.60,149.19 L381.20,149.86 L381.80,149.44 L382.40,149.51 L383.00,149.26 L383.60,149.86 L384.20,149.56 L384.80,149.96 L385.40,150.59 L386.00,150.37 L386.60,150.50 L387.20,150.49 L387.80,150.36 L388.40,150.28 L389.00,150.21 L389.60,150.69 L390.20,149.87 L390.80,150.97 L391.40,150.38 L392.00,150.04 L392.60,150.16 L393.20,150.08 L393.80,150.47 L394.40,150.08 L395.00,150.92 L395.60,150.06 L396.20,149.39 L396.80,150.09 L397.40,149.53 L398.00,150.42 L398.60,150.92 L399.20,150.74 L399.80,149.85 L400.40,150.12 L401.00,151.27 L401.60,150.61 L402.20,150.48 L402.80,150.96 L403.40,151.59 L404.00,151.08 L404.60,150.56 L405.20,150.67 L405.80,150.79 L406.40,150.24 L407.00,150.05 L407.60,150.55 L408.20,150.11 L408.80,150.52 L409.40,150.59 L410.00,151.61 L410.60,150.18 L411.20,150.51 L411.80,150.50 L412.40,150.78 L413.00,151.06 L413.60,150.37 L414.20,150.23 L414.80,149.86 L415.40,150.19 L416.00,150.86 L416.60,150.64 L417.20,150.17 L417.80,150.47 L418.40,150.65 L419.00,150.87 L419.60,150.38 L420.20,150.54 L420.80,149.84 L421.40,150.15 L422.00,151.40 L422.60,149.70 L423.20,150.54 L423.80,150.79 L424.40,150.53 L425.00,150.34 L425.60,150.68 L426.20,150.71 L426.80,150.69 L427.40,149.88 L428.00,150.67 L428.60,150.36 L429.20,150.50 L429.80,150.86 L430.40,151.05 L431.00,151.17 L431.60,150.55 L432.20,151.19 L432.80,151.31 L433.40,151.30 L434.00,151.42 L434.60,150.74 L435.20,150.73 L435.80,151.18 L436.40,150.20 L437.00,150.92 L437.60,150.59 L438.20,150.67 L438.80,150.06 L439.40,150.45 L440.00,150.85 L440.60,151.26" fill="none" stroke="#8a8a10" stroke-width="1.45" stroke-linejoin="round" />
<path d="M260.00,144.09 L260.60,143.33 L261.20,142.93 L261.80,142.35 L262.40,142.44 L263.00,141.88 L263.60,141.85 L264.20,141.94 L264.80,141.02 L265.40,140.22 L266.00,140.16 L266.60,139.68 L267.20,139.51 L267.80,140.13 L268.40,139.51 L269.00,138.67 L269.60,139.20 L270.20,139.19 L270.80,138.40 L271.40,138.08 L272.00,138.00 L272.60,138.02 L273.20,137.95 L273.80,137.96 L274.40,137.80 L275.00,137.62 L275.60,137.51 L276.20,137.11 L276.80,136.19 L277.40,136.53 L278.00,136.55 L278.60,136.17 L279.20,136.49 L279.80,135.92 L280.40,135.60 L281.00,136.31 L281.60,135.92 L282.20,135.65 L282.80,135.79 L283.40,135.73 L284.00,135.37 L284.60,134.28 L285.20,134.80 L285.80,134.76 L286.40,134.45 L287.00,134.71 L287.60,134.86 L288.20,134.00 L288.80,133.39 L289.40,134.00 L290.00,132.51 L290.60,131.56 L291.20,131.46 L291.80,131.14 L292.40,130.75 L293.00,131.62 L293.60,131.69 L294.20,132.08 L294.80,132.91 L295.40,133.44 L296.00,133.14 L296.60,133.58 L297.20,133.46 L297.80,134.46 L298.40,133.18 L299.00,133.86 L299.60,133.29 L300.20,133.18 L300.80,133.39 L301.40,133.36 L302.00,133.39 L302.60,132.95 L303.20,132.50 L303.80,132.39 L304.40,132.62 L305.00,132.49 L305.60,132.59 L306.20,132.04 L306.80,132.01 L307.40,131.86 L308.00,131.02 L308.60,130.01 L309.20,129.66 L309.80,129.13 L310.40,129.86 L311.00,128.83 L311.60,129.50 L312.20,129.26 L312.80,129.63 L313.40,129.30 L314.00,128.77 L314.60,128.52 L315.20,128.36 L315.80,128.07 L316.40,127.47 L317.00,127.26 L317.60,127.40 L318.20,125.78 L318.80,125.95 L319.40,124.97 L320.00,124.73 L320.60,124.26 L321.20,123.18 L321.80,122.63 L322.40,120.87 L323.00,120.81 L323.60,119.13 L324.20,118.41 L324.80,117.05 L325.40,114.84 L326.00,114.23 L326.60,113.34 L327.20,112.62 L327.80,111.07 L328.40,110.08 L329.00,108.67 L329.60,109.03 L330.20,108.73 L330.80,107.92 L331.40,107.88 L332.00,107.65 L332.60,109.00 L333.20,110.29 L333.80,110.39 L334.40,111.48 L335.00,112.20 L335.60,112.67 L336.20,114.51 L336.80,114.62 L337.40,115.95 L338.00,117.04 L338.60,118.10 L339.20,118.71 L339.80,119.38 L340.40,119.57 L341.00,119.86 L341.60,120.69 L342.20,120.64 L342.80,120.48 L343.40,120.36 L344.00,120.29 L344.60,119.23 L345.20,118.58 L345.80,117.41 L346.40,116.75 L347.00,115.34 L347.60,114.28 L348.20,111.40 L348.80,110.10 L349.40,109.27 L350.00,107.81 L350.60,107.16 L351.20,107.80 L351.80,107.62 L352.40,108.45 L353.00,110.02 L353.60,112.62 L354.20,114.90 L354.80,116.75 L355.40,119.33 L356.00,122.23 L356.60,124.44 L357.20,126.00 L357.80,128.19 L358.40,129.67 L359.00,130.10 L359.60,131.66 L360.20,132.77 L360.80,133.12 L361.40,133.15 L362.00,134.27 L362.60,135.03 L363.20,135.67 L363.80,134.65 L364.40,136.60 L365.00,135.53 L365.60,136.48 L366.20,136.79 L366.80,136.90 L367.40,136.79 L368.00,136.50 L368.60,137.29 L369.20,136.98 L369.80,136.50 L370.40,138.51 L371.00,137.90 L371.60,138.41 L372.20,137.58 L372.80,138.53 L373.40,138.68 L374.00,138.77 L374.60,138.32 L375.20,138.00 L375.80,138.45 L376.40,137.83 L377.00,138.09 L377.60,138.80 L378.20,138.51 L378.80,138.87 L379.40,138.97 L380.00,139.75 L380.60,139.60 L381.20,139.20 L381.80,139.71 L382.40,139.08 L383.00,139.30 L383.60,139.80 L384.20,139.11 L384.80,139.51 L385.40,139.21 L386.00,139.77 L386.60,140.37 L387.20,139.57 L387.80,139.92 L388.40,139.53 L389.00,139.45 L389.60,139.43 L390.20,140.38 L390.80,140.70 L391.40,140.05 L392.00,139.63 L392.60,140.14 L393.20,139.78 L393.80,140.18 L394.40,140.01 L395.00,140.01 L395.60,140.13 L396.20,139.72 L396.80,139.79 L397.40,139.34 L398.00,139.79 L398.60,139.45 L399.20,139.91 L399.80,139.63 L400.40,140.00 L401.00,140.13 L401.60,139.48 L402.20,139.70 L402.80,139.66 L403.40,140.26 L404.00,140.60 L404.60,140.31 L405.20,139.89 L405.80,140.53 L406.40,139.50 L407.00,140.56 L407.60,139.81 L408.20,139.07 L408.80,140.98 L409.40,140.61 L410.00,139.70 L410.60,140.13 L411.20,140.00 L411.80,140.12 L412.40,139.57 L413.00,139.86 L413.60,140.26 L414.20,140.18 L414.80,140.53 L415.40,140.15 L416.00,140.95 L416.60,139.88 L417.20,140.23 L417.80,139.47 L418.40,139.71 L419.00,140.62 L419.60,139.83 L420.20,140.35 L420.80,140.15 L421.40,139.81 L422.00,140.06 L422.60,140.01 L423.20,140.03 L423.80,140.47 L424.40,140.44 L425.00,140.01 L425.60,139.90 L426.20,140.32 L426.80,140.20 L427.40,140.60 L428.00,141.17 L428.60,140.54 L429.20,140.24 L429.80,140.20 L430.40,139.97 L431.00,139.96 L431.60,139.93 L432.20,140.15 L432.80,140.14 L433.40,140.56 L434.00,140.16 L434.60,140.24 L435.20,139.89 L435.80,140.90 L436.40,140.51 L437.00,140.96 L437.60,140.62 L438.20,140.87 L438.80,140.26 L439.40,140.61 L440.00,141.31 L440.60,139.94" fill="none" stroke="#ff8a1a" stroke-width="1.45" stroke-linejoin="round" />
<path d="M260.00,134.81 L260.60,134.65 L261.20,133.86 L261.80,133.65 L262.40,133.51 L263.00,132.51 L263.60,132.58 L264.20,131.82 L264.80,131.58 L265.40,131.30 L266.00,131.16 L266.60,130.96 L267.20,130.77 L267.80,129.81 L268.40,130.75 L269.00,130.19 L269.60,129.80 L270.20,129.20 L270.80,129.13 L271.40,129.21 L272.00,129.03 L272.60,128.17 L273.20,128.93 L273.80,129.61 L274.40,127.79 L275.00,128.70 L275.60,128.36 L276.20,128.08 L276.80,128.49 L277.40,127.46 L278.00,127.83 L278.60,128.18 L279.20,127.47 L279.80,127.29 L280.40,127.37 L281.00,127.07 L281.60,127.68 L282.20,126.70 L282.80,127.25 L283.40,126.39 L284.00,126.99 L284.60,126.62 L285.20,125.64 L285.80,126.47 L286.40,125.98 L287.00,126.09 L287.60,126.64 L288.20,125.48 L288.80,125.21 L289.40,125.73 L290.00,124.78 L290.60,124.79 L291.20,123.88 L291.80,123.16 L292.40,123.45 L293.00,124.17 L293.60,124.45 L294.20,124.51 L294.80,124.85 L295.40,125.03 L296.00,125.00 L296.60,125.98 L297.20,125.30 L297.80,124.88 L298.40,125.08 L299.00,125.46 L299.60,125.37 L300.20,125.03 L300.80,124.77 L301.40,124.94 L302.00,124.24 L302.60,124.28 L303.20,124.94 L303.80,124.37 L304.40,124.56 L305.00,124.72 L305.60,124.36 L306.20,123.95 L306.80,124.47 L307.40,123.66 L308.00,122.95 L308.60,122.94 L309.20,122.39 L309.80,121.53 L310.40,121.55 L311.00,121.29 L311.60,120.59 L312.20,121.22 L312.80,121.15 L313.40,121.01 L314.00,120.43 L314.60,120.67 L315.20,120.51 L315.80,120.23 L316.40,119.42 L317.00,119.64 L317.60,118.53 L318.20,118.39 L318.80,118.39 L319.40,117.08 L320.00,116.48 L320.60,116.33 L321.20,115.01 L321.80,114.17 L322.40,113.41 L323.00,112.69 L323.60,110.44 L324.20,109.79 L324.80,108.54 L325.40,107.29 L326.00,106.14 L326.60,104.94 L327.20,104.19 L327.80,102.68 L328.40,102.07 L329.00,101.35 L329.60,100.30 L330.20,100.17 L330.80,100.49 L331.40,100.02 L332.00,99.89 L332.60,100.50 L333.20,100.76 L333.80,101.89 L334.40,102.90 L335.00,103.16 L335.60,104.29 L336.20,105.68 L336.80,106.01 L337.40,107.15 L338.00,107.56 L338.60,108.43 L339.20,109.28 L339.80,110.90 L340.40,110.60 L341.00,111.09 L341.60,111.52 L342.20,111.99 L342.80,112.50 L343.40,112.40 L344.00,112.94 L344.60,111.96 L345.20,111.82 L345.80,110.57 L346.40,109.57 L347.00,107.47 L347.60,106.33 L348.20,104.60 L348.80,102.74 L349.40,100.39 L350.00,100.02 L350.60,98.60 L351.20,98.20 L351.80,98.58 L352.40,99.63 L353.00,101.53 L353.60,103.11 L354.20,105.70 L354.80,108.74 L355.40,111.30 L356.00,113.59 L356.60,115.79 L357.20,117.70 L357.80,119.70 L358.40,121.57 L359.00,121.98 L359.60,123.84 L360.20,124.39 L360.80,124.57 L361.40,125.52 L362.00,125.16 L362.60,125.44 L363.20,125.92 L363.80,126.51 L364.40,126.80 L365.00,126.97 L365.60,127.41 L366.20,126.83 L366.80,127.94 L367.40,127.46 L368.00,127.89 L368.60,128.14 L369.20,128.03 L369.80,128.09 L370.40,128.36 L371.00,128.83 L371.60,129.16 L372.20,129.27 L372.80,128.83 L373.40,129.00 L374.00,129.05 L374.60,129.62 L375.20,128.84 L375.80,130.07 L376.40,129.55 L377.00,129.52 L377.60,129.99 L378.20,130.31 L378.80,130.13 L379.40,130.45 L380.00,130.20 L380.60,130.64 L381.20,130.71 L381.80,130.30 L382.40,130.90 L383.00,130.51 L383.60,130.54 L384.20,130.25 L384.80,130.52 L385.40,130.95 L386.00,130.27 L386.60,131.01 L387.20,130.95 L387.80,130.93 L388.40,130.06 L389.00,130.81 L389.60,131.08 L390.20,130.59 L390.80,130.89 L391.40,130.03 L392.00,131.11 L392.60,130.65 L393.20,131.19 L393.80,130.25 L394.40,131.14 L395.00,130.82 L395.60,131.19 L396.20,130.59 L396.80,130.70 L397.40,131.71 L398.00,130.64 L398.60,130.69 L399.20,130.85 L399.80,130.59 L400.40,131.37 L401.00,131.57 L401.60,130.72 L402.20,130.37 L402.80,131.39 L403.40,131.38 L404.00,131.28 L404.60,131.40 L405.20,130.70 L405.80,130.95 L406.40,130.53 L407.00,130.53 L407.60,131.37 L408.20,130.80 L408.80,131.84 L409.40,131.07 L410.00,130.83 L410.60,131.34 L411.20,131.70 L411.80,131.24 L412.40,130.65 L413.00,131.21 L413.60,131.57 L414.20,130.92 L414.80,130.83 L415.40,131.46 L416.00,131.16 L416.60,130.73 L417.20,130.99 L417.80,130.87 L418.40,131.24 L419.00,131.18 L419.60,131.55 L420.20,131.40 L420.80,130.61 L421.40,131.31 L422.00,131.49 L422.60,131.34 L423.20,131.55 L423.80,131.00 L424.40,130.86 L425.00,131.53 L425.60,130.84 L426.20,130.46 L426.80,131.58 L427.40,130.97 L428.00,131.13 L428.60,130.75 L429.20,130.78 L429.80,130.85 L430.40,131.13 L431.00,131.39 L431.60,130.46 L432.20,131.54 L432.80,130.87 L433.40,130.91 L434.00,131.53 L434.60,131.27 L435.20,130.77 L435.80,131.96 L436.40,131.02 L437.00,131.41 L437.60,131.40 L438.20,131.83 L438.80,131.18 L439.40,131.70 L440.00,131.09 L440.60,131.75" fill="none" stroke="#f020f0" stroke-width="1.45" stroke-linejoin="round" />
<path d="M260.00,123.61 L260.60,123.39 L261.20,123.83 L261.80,122.93 L262.40,122.51 L263.00,122.91 L263.60,121.91 L264.20,121.14 L264.80,121.32 L265.40,120.28 L266.00,120.70 L266.60,120.33 L267.20,119.31 L267.80,118.90 L268.40,118.80 L269.00,118.40 L269.60,117.76 L270.20,118.08 L270.80,117.01 L271.40,117.47 L272.00,117.42 L272.60,117.43 L273.20,117.60 L273.80,117.03 L274.40,117.62 L275.00,117.29 L275.60,117.05 L276.20,116.71 L276.80,116.67 L277.40,117.11 L278.00,116.53 L278.60,116.77 L279.20,117.00 L279.80,116.88 L280.40,116.94 L281.00,116.18 L281.60,115.79 L282.20,116.42 L282.80,116.06 L283.40,116.23 L284.00,115.73 L284.60,116.04 L285.20,115.80 L285.80,115.64 L286.40,115.42 L287.00,115.21 L287.60,114.91 L288.20,114.57 L288.80,114.36 L289.40,113.19 L290.00,113.17 L290.60,111.65 L291.20,111.23 L291.80,110.37 L292.40,110.34 L293.00,111.62 L293.60,111.52 L294.20,111.91 L294.80,112.72 L295.40,113.31 L296.00,114.46 L296.60,113.93 L297.20,114.25 L297.80,113.58 L298.40,114.02 L299.00,114.08 L299.60,114.41 L300.20,113.46 L300.80,113.83 L301.40,113.64 L302.00,113.07 L302.60,113.31 L303.20,113.10 L303.80,112.25 L304.40,113.12 L305.00,112.94 L305.60,112.40 L306.20,111.84 L306.80,112.53 L307.40,111.73 L308.00,111.52 L308.60,111.11 L309.20,109.85 L309.80,109.77 L310.40,109.00 L311.00,108.89 L311.60,108.90 L312.20,109.01 L312.80,109.47 L313.40,109.11 L314.00,108.92 L314.60,108.68 L315.20,108.63 L315.80,107.87 L316.40,107.63 L317.00,107.36 L317.60,106.72 L318.20,106.37 L318.80,105.64 L319.40,105.93 L320.00,105.00 L320.60,103.92 L321.20,102.88 L321.80,102.69 L322.40,100.96 L323.00,99.61 L323.60,98.43 L324.20,97.00 L324.80,95.86 L325.40,93.74 L326.00,92.81 L326.60,90.07 L327.20,88.94 L327.80,86.74 L328.40,86.25 L329.00,84.20 L329.60,83.24 L330.20,82.82 L330.80,82.50 L331.40,81.58 L332.00,82.08 L332.60,82.26 L333.20,83.60 L333.80,84.52 L334.40,85.59 L335.00,86.72 L335.60,88.12 L336.20,89.29 L336.80,91.00 L337.40,92.55 L338.00,92.47 L338.60,94.15 L339.20,94.98 L339.80,96.13 L340.40,96.37 L341.00,97.29 L341.60,97.51 L342.20,98.55 L342.80,98.64 L343.40,98.70 L344.00,98.85 L344.60,98.37 L345.20,97.37 L345.80,97.26 L346.40,95.94 L347.00,94.22 L347.60,92.74 L348.20,90.71 L348.80,87.69 L349.40,85.67 L350.00,84.67 L350.60,83.36 L351.20,82.12 L351.80,82.39 L352.40,83.93 L353.00,86.13 L353.60,88.49 L354.20,92.12 L354.80,94.84 L355.40,97.95 L356.00,101.55 L356.60,103.53 L357.20,105.93 L357.80,107.99 L358.40,109.54 L359.00,110.33 L359.60,111.43 L360.20,111.90 L360.80,113.44 L361.40,113.60 L362.00,113.46 L362.60,114.26 L363.20,114.89 L363.80,115.16 L364.40,115.96 L365.00,116.10 L365.60,115.73 L366.20,116.16 L366.80,116.00 L367.40,116.78 L368.00,116.98 L368.60,118.09 L369.20,117.39 L369.80,116.82 L370.40,117.50 L371.00,117.96 L371.60,117.65 L372.20,117.94 L372.80,118.27 L373.40,118.66 L374.00,118.62 L374.60,118.50 L375.20,119.21 L375.80,118.87 L376.40,118.99 L377.00,118.80 L377.60,119.11 L378.20,119.71 L378.80,119.01 L379.40,119.65 L380.00,120.01 L380.60,119.72 L381.20,120.02 L381.80,119.63 L382.40,120.56 L383.00,120.56 L383.60,120.33 L384.20,119.71 L384.80,120.03 L385.40,120.81 L386.00,121.14 L386.60,120.71 L387.20,121.10 L387.80,120.45 L388.40,120.60 L389.00,120.68 L389.60,120.83 L390.20,120.15 L390.80,121.02 L391.40,121.16 L392.00,120.30 L392.60,120.24 L393.20,120.84 L393.80,120.50 L394.40,119.90 L395.00,121.02 L395.60,120.80 L396.20,120.58 L396.80,121.49 L397.40,120.81 L398.00,120.50 L398.60,120.81 L399.20,120.41 L399.80,120.52 L400.40,120.93 L401.00,120.60 L401.60,120.64 L402.20,121.39 L402.80,121.12 L403.40,121.10 L404.00,121.01 L404.60,121.00 L405.20,121.35 L405.80,120.84 L406.40,121.50 L407.00,120.52 L407.60,120.77 L408.20,120.39 L408.80,120.75 L409.40,121.06 L410.00,121.39 L410.60,120.66 L411.20,120.90 L411.80,120.78 L412.40,120.65 L413.00,120.50 L413.60,120.94 L414.20,120.32 L414.80,120.97 L415.40,120.95 L416.00,120.72 L416.60,120.60 L417.20,120.47 L417.80,121.62 L418.40,120.50 L419.00,121.52 L419.60,121.19 L420.20,120.86 L420.80,120.59 L421.40,121.37 L422.00,121.61 L422.60,120.69 L423.20,120.91 L423.80,121.39 L424.40,121.15 L425.00,121.74 L425.60,120.84 L426.20,121.24 L426.80,120.62 L427.40,121.79 L428.00,120.81 L428.60,120.30 L429.20,121.03 L429.80,121.04 L430.40,121.76 L431.00,120.98 L431.60,121.10 L432.20,121.32 L432.80,121.67 L433.40,121.10 L434.00,121.49 L434.60,121.31 L435.20,121.03 L435.80,121.17 L436.40,121.16 L437.00,120.84 L437.60,121.59 L438.20,120.68 L438.80,121.58 L439.40,121.51 L440.00,121.15 L440.60,120.92" fill="none" stroke="#ee2020" stroke-width="1.45" stroke-linejoin="round" />
<path d="M260.00,113.30 L260.60,113.19 L261.20,112.93 L261.80,112.43 L262.40,112.33 L263.00,111.44 L263.60,111.36 L264.20,110.35 L264.80,110.78 L265.40,110.16 L266.00,109.53 L266.60,109.63 L267.20,109.01 L267.80,107.33 L268.40,107.89 L269.00,106.98 L269.60,107.54 L270.20,107.81 L270.80,106.62 L271.40,106.77 L272.00,106.66 L272.60,106.89 L273.20,107.02 L273.80,107.27 L274.40,106.47 L275.00,107.35 L275.60,106.43 L276.20,106.79 L276.80,107.01 L277.40,106.76 L278.00,106.07 L278.60,106.04 L279.20,106.01 L279.80,106.03 L280.40,106.34 L281.00,105.36 L281.60,105.86 L282.20,105.80 L282.80,105.66 L283.40,105.51 L284.00,105.77 L284.60,105.29 L285.20,105.29 L285.80,105.05 L286.40,105.33 L287.00,103.83 L287.60,104.66 L288.20,103.71 L288.80,103.12 L289.40,102.08 L290.00,100.77 L290.60,100.21 L291.20,99.11 L291.80,98.93 L292.40,98.28 L293.00,99.92 L293.60,100.42 L294.20,101.17 L294.80,101.80 L295.40,102.35 L296.00,102.60 L296.60,103.01 L297.20,103.30 L297.80,103.25 L298.40,102.80 L299.00,103.15 L299.60,102.87 L300.20,103.16 L300.80,103.67 L301.40,103.14 L302.00,102.71 L302.60,102.13 L303.20,102.08 L303.80,101.84 L304.40,102.53 L305.00,101.84 L305.60,101.92 L306.20,101.44 L306.80,101.39 L307.40,101.48 L308.00,100.29 L308.60,99.89 L309.20,99.16 L309.80,99.21 L310.40,98.14 L311.00,97.89 L311.60,97.74 L312.20,97.74 L312.80,98.37 L313.40,99.01 L314.00,97.57 L314.60,97.96 L315.20,97.34 L315.80,96.42 L316.40,96.19 L317.00,95.62 L317.60,94.79 L318.20,94.96 L318.80,92.78 L319.40,92.63 L320.00,91.54 L320.60,90.02 L321.20,88.93 L321.80,87.70 L322.40,85.82 L323.00,84.16 L323.60,82.37 L324.20,79.44 L324.80,78.63 L325.40,76.84 L326.00,74.34 L326.60,72.39 L327.20,69.70 L327.80,68.51 L328.40,66.86 L329.00,65.83 L329.60,65.60 L330.20,64.56 L330.80,64.74 L331.40,64.41 L332.00,65.66 L332.60,66.66 L333.20,67.55 L333.80,68.90 L334.40,71.30 L335.00,71.79 L335.60,73.46 L336.20,75.14 L336.80,77.39 L337.40,79.18 L338.00,79.94 L338.60,80.85 L339.20,82.10 L339.80,83.64 L340.40,83.85 L341.00,85.44 L341.60,86.04 L342.20,86.03 L342.80,86.50 L343.40,86.58 L344.00,86.64 L344.60,85.20 L345.20,85.10 L345.80,83.29 L346.40,81.50 L347.00,79.78 L347.60,77.34 L348.20,74.55 L348.80,71.78 L349.40,69.59 L350.00,68.37 L350.60,67.07 L351.20,65.87 L351.80,66.19 L352.40,66.66 L353.00,68.73 L353.60,71.51 L354.20,74.22 L354.80,77.77 L355.40,81.78 L356.00,85.20 L356.60,88.29 L357.20,91.81 L357.80,94.22 L358.40,96.91 L359.00,98.40 L359.60,99.80 L360.20,101.15 L360.80,102.01 L361.40,102.61 L362.00,103.33 L362.60,104.26 L363.20,104.67 L363.80,105.28 L364.40,104.58 L365.00,105.35 L365.60,105.63 L366.20,106.10 L366.80,106.14 L367.40,106.36 L368.00,107.03 L368.60,107.04 L369.20,106.77 L369.80,107.83 L370.40,107.89 L371.00,107.51 L371.60,108.17 L372.20,107.77 L372.80,108.57 L373.40,108.24 L374.00,108.16 L374.60,108.44 L375.20,108.42 L375.80,108.87 L376.40,108.98 L377.00,109.04 L377.60,108.93 L378.20,107.94 L378.80,109.35 L379.40,108.75 L380.00,109.58 L380.60,109.98 L381.20,109.77 L381.80,109.62 L382.40,109.77 L383.00,109.87 L383.60,109.80 L384.20,109.86 L384.80,109.82 L385.40,110.63 L386.00,110.29 L386.60,110.70 L387.20,110.33 L387.80,110.45 L388.40,110.37 L389.00,110.60 L389.60,110.73 L390.20,110.53 L390.80,110.22 L391.40,110.18 L392.00,111.04 L392.60,110.37 L393.20,110.37 L393.80,110.99 L394.40,110.87 L395.00,110.68 L395.60,110.36 L396.20,111.33 L396.80,110.65 L397.40,110.71 L398.00,110.46 L398.60,110.03 L399.20,110.07 L399.80,110.68 L400.40,110.68 L401.00,110.47 L401.60,110.15 L402.20,110.06 L402.80,110.46 L403.40,110.07 L404.00,110.90 L404.60,110.99 L405.20,111.59 L405.80,110.91 L406.40,110.40 L407.00,110.31 L407.60,109.41 L408.20,110.42 L408.80,110.57 L409.40,110.98 L410.00,110.86 L410.60,110.85 L411.20,110.73 L411.80,110.89 L412.40,111.17 L413.00,110.30 L413.60,110.52 L414.20,110.20 L414.80,111.26 L415.40,111.15 L416.00,110.97 L416.60,110.29 L417.20,110.78 L417.80,110.64 L418.40,110.76 L419.00,110.67 L419.60,110.92 L420.20,110.61 L420.80,111.05 L421.40,110.84 L422.00,110.66 L422.60,110.73 L423.20,110.62 L423.80,111.07 L424.40,110.69 L425.00,110.90 L425.60,110.66 L426.20,110.29 L426.80,111.13 L427.40,110.45 L428.00,111.06 L428.60,110.98 L429.20,110.26 L429.80,110.51 L430.40,110.67 L431.00,110.57 L431.60,110.45 L432.20,111.12 L432.80,110.79 L433.40,111.01 L434.00,110.73 L434.60,111.00 L435.20,110.63 L435.80,110.89 L436.40,111.11 L437.00,110.93 L437.60,110.76 L438.20,110.54 L438.80,110.99 L439.40,111.06 L440.00,110.85 L440.60,110.68" fill="none" stroke="#22e622" stroke-width="1.45" stroke-linejoin="round" />
<path d="M260.00,104.08 L260.60,104.45 L261.20,103.17 L261.80,103.10 L262.40,102.81 L263.00,101.46 L263.60,102.08 L264.20,101.46 L264.80,101.83 L265.40,100.88 L266.00,100.29 L266.60,100.06 L267.20,99.76 L267.80,99.07 L268.40,98.83 L269.00,98.00 L269.60,98.10 L270.20,98.25 L270.80,98.56 L271.40,98.09 L272.00,97.97 L272.60,98.35 L273.20,98.35 L273.80,98.63 L274.40,98.46 L275.00,98.05 L275.60,98.16 L276.20,98.09 L276.80,98.07 L277.40,97.96 L278.00,97.53 L278.60,96.97 L279.20,97.37 L279.80,96.79 L280.40,97.42 L281.00,97.29 L281.60,96.60 L282.20,97.33 L282.80,97.29 L283.40,96.91 L284.00,97.36 L284.60,97.33 L285.20,96.14 L285.80,96.80 L286.40,96.45 L287.00,96.27 L287.60,96.20 L288.20,95.26 L288.80,94.79 L289.40,94.01 L290.00,93.16 L290.60,92.44 L291.20,91.10 L291.80,90.72 L292.40,91.33 L293.00,91.65 L293.60,92.61 L294.20,92.64 L294.80,93.72 L295.40,94.31 L296.00,94.85 L296.60,94.82 L297.20,95.45 L297.80,95.13 L298.40,95.15 L299.00,95.12 L299.60,95.32 L300.20,94.86 L300.80,95.35 L301.40,95.06 L302.00,94.88 L302.60,94.75 L303.20,94.83 L303.80,94.90 L304.40,94.76 L305.00,94.43 L305.60,94.43 L306.20,93.95 L306.80,94.05 L307.40,93.20 L308.00,91.98 L308.60,92.57 L309.20,91.48 L309.80,90.44 L310.40,90.38 L311.00,90.05 L311.60,91.24 L312.20,90.92 L312.80,90.41 L313.40,91.26 L314.00,90.90 L314.60,91.55 L315.20,90.24 L315.80,89.44 L316.40,89.77 L317.00,89.06 L317.60,88.38 L318.20,87.02 L318.80,87.04 L319.40,86.48 L320.00,84.10 L320.60,83.91 L321.20,81.90 L321.80,81.39 L322.40,79.06 L323.00,77.07 L323.60,75.66 L324.20,73.55 L324.80,71.23 L325.40,69.78 L326.00,67.52 L326.60,65.36 L327.20,65.15 L327.80,62.98 L328.40,61.81 L329.00,61.33 L329.60,60.17 L330.20,60.04 L330.80,60.46 L331.40,60.86 L332.00,61.74 L332.60,63.03 L333.20,63.58 L333.80,65.19 L334.40,66.61 L335.00,67.45 L335.60,69.37 L336.20,70.40 L336.80,72.48 L337.40,73.57 L338.00,74.62 L338.60,75.22 L339.20,76.67 L339.80,77.16 L340.40,78.31 L341.00,78.51 L341.60,78.57 L342.20,79.31 L342.80,79.19 L343.40,78.47 L344.00,78.62 L344.60,77.43 L345.20,76.54 L345.80,75.59 L346.40,74.00 L347.00,72.66 L347.60,71.18 L348.20,70.13 L348.80,68.47 L349.40,66.27 L350.00,65.49 L350.60,63.69 L351.20,62.91 L351.80,62.51 L352.40,62.13 L353.00,63.14 L353.60,63.08 L354.20,63.71 L354.80,66.11 L355.40,67.37 L356.00,69.54 L356.60,70.94 L357.20,74.78 L357.80,77.21 L358.40,79.66 L359.00,82.09 L359.60,84.56 L360.20,86.00 L360.80,88.19 L361.40,89.24 L362.00,90.80 L362.60,92.52 L363.20,93.33 L363.80,93.60 L364.40,94.92 L365.00,95.34 L365.60,95.63 L366.20,96.49 L366.80,96.55 L367.40,96.45 L368.00,96.87 L368.60,98.11 L369.20,97.16 L369.80,97.95 L370.40,98.25 L371.00,98.41 L371.60,97.90 L372.20,98.35 L372.80,98.63 L373.40,98.98 L374.00,98.59 L374.60,98.51 L375.20,99.37 L375.80,99.50 L376.40,99.33 L377.00,99.08 L377.60,99.52 L378.20,99.49 L378.80,99.82 L379.40,99.17 L380.00,99.72 L380.60,99.69 L381.20,99.43 L381.80,99.96 L382.40,99.96 L383.00,99.87 L383.60,100.21 L384.20,99.64 L384.80,100.18 L385.40,100.40 L386.00,100.41 L386.60,100.75 L387.20,99.99 L387.80,99.89 L388.40,100.51 L389.00,100.59 L389.60,101.18 L390.20,100.66 L390.80,100.14 L391.40,100.74 L392.00,100.16 L392.60,99.94 L393.20,101.38 L393.80,100.59 L394.40,100.73 L395.00,100.69 L395.60,101.13 L396.20,100.60 L396.80,100.93 L397.40,100.15 L398.00,100.03 L398.60,101.02 L399.20,101.05 L399.80,100.72 L400.40,100.62 L401.00,100.61 L401.60,100.31 L402.20,101.10 L402.80,100.80 L403.40,100.75 L404.00,100.71 L404.60,100.95 L405.20,100.77 L405.80,100.86 L406.40,100.19 L407.00,100.79 L407.60,101.38 L408.20,100.44 L408.80,100.58 L409.40,100.95 L410.00,100.97 L410.60,100.86 L411.20,100.08 L411.80,100.83 L412.40,100.25 L413.00,100.38 L413.60,100.87 L414.20,100.58 L414.80,100.97 L415.40,101.79 L416.00,100.97 L416.60,100.96 L417.20,100.40 L417.80,100.49 L418.40,100.35 L419.00,100.54 L419.60,100.35 L420.20,100.51 L420.80,100.67 L421.40,100.40 L422.00,100.26 L422.60,100.29 L423.20,100.93 L423.80,100.80 L424.40,101.14 L425.00,101.15 L425.60,100.68 L426.20,101.04 L426.80,100.30 L427.40,101.61 L428.00,101.24 L428.60,100.75 L429.20,100.42 L429.80,100.97 L430.40,100.19 L431.00,100.58 L431.60,101.12 L432.20,100.89 L432.80,100.70 L433.40,101.21 L434.00,100.52 L434.60,100.98 L435.20,100.72 L435.80,100.60 L436.40,101.07 L437.00,100.56 L437.60,101.58 L438.20,100.72 L438.80,101.62 L439.40,100.55 L440.00,101.15 L440.60,100.53" fill="none" stroke="#7a1a8a" stroke-width="1.45" stroke-linejoin="round" />
<path d="M260.00,94.93 L260.60,95.15 L261.20,95.04 L261.80,94.06 L262.40,94.62 L263.00,93.63 L263.60,93.65 L264.20,93.42 L264.80,93.17 L265.40,91.99 L266.00,92.82 L266.60,92.07 L267.20,91.34 L267.80,90.75 L268.40,90.14 L269.00,89.93 L269.60,90.33 L270.20,89.83 L270.80,89.44 L271.40,89.60 L272.00,90.33 L272.60,89.69 L273.20,89.63 L273.80,90.32 L274.40,90.01 L275.00,89.85 L275.60,89.59 L276.20,89.21 L276.80,89.27 L277.40,89.43 L278.00,89.44 L278.60,89.54 L279.20,89.52 L279.80,89.30 L280.40,89.20 L281.00,88.68 L281.60,88.18 L282.20,88.65 L282.80,88.41 L283.40,88.41 L284.00,88.45 L284.60,88.01 L285.20,87.95 L285.80,88.18 L286.40,88.11 L287.00,87.65 L287.60,87.78 L288.20,87.13 L288.80,86.26 L289.40,85.82 L290.00,85.46 L290.60,83.46 L291.20,83.10 L291.80,82.58 L292.40,82.68 L293.00,82.52 L293.60,84.48 L294.20,84.79 L294.80,85.50 L295.40,86.12 L296.00,86.82 L296.60,86.86 L297.20,86.89 L297.80,87.44 L298.40,86.74 L299.00,86.60 L299.60,87.20 L300.20,87.12 L300.80,87.19 L301.40,86.36 L302.00,87.03 L302.60,86.73 L303.20,87.08 L303.80,85.91 L304.40,86.30 L305.00,85.98 L305.60,85.35 L306.20,85.44 L306.80,85.81 L307.40,84.91 L308.00,84.38 L308.60,84.42 L309.20,83.91 L309.80,83.39 L310.40,82.39 L311.00,82.48 L311.60,82.86 L312.20,82.33 L312.80,82.33 L313.40,82.83 L314.00,82.92 L314.60,81.69 L315.20,80.81 L315.80,80.74 L316.40,80.33 L317.00,79.98 L317.60,79.50 L318.20,78.38 L318.80,77.22 L319.40,76.43 L320.00,74.81 L320.60,73.77 L321.20,72.05 L321.80,71.57 L322.40,69.13 L323.00,66.66 L323.60,64.60 L324.20,62.74 L324.80,60.22 L325.40,58.45 L326.00,56.41 L326.60,55.05 L327.20,52.82 L327.80,51.14 L328.40,49.66 L329.00,48.73 L329.60,48.47 L330.20,48.13 L330.80,48.65 L331.40,48.41 L332.00,49.68 L332.60,50.33 L333.20,51.38 L333.80,51.97 L334.40,53.62 L335.00,55.78 L335.60,57.49 L336.20,58.52 L336.80,60.11 L337.40,61.03 L338.00,62.28 L338.60,63.31 L339.20,64.92 L339.80,65.62 L340.40,66.25 L341.00,66.95 L341.60,67.90 L342.20,68.37 L342.80,68.41 L343.40,69.63 L344.00,69.30 L344.60,69.17 L345.20,69.36 L345.80,68.50 L346.40,66.94 L347.00,65.46 L347.60,62.68 L348.20,60.14 L348.80,56.61 L349.40,54.84 L350.00,51.12 L350.60,50.13 L351.20,48.83 L351.80,49.34 L352.40,51.51 L353.00,54.66 L353.60,58.49 L354.20,62.92 L354.80,66.41 L355.40,70.26 L356.00,72.94 L356.60,76.05 L357.20,77.98 L357.80,79.41 L358.40,80.82 L359.00,81.84 L359.60,82.73 L360.20,83.47 L360.80,83.74 L361.40,84.18 L362.00,85.19 L362.60,84.79 L363.20,85.60 L363.80,86.77 L364.40,85.68 L365.00,86.76 L365.60,87.60 L366.20,87.13 L366.80,88.95 L367.40,87.45 L368.00,89.16 L368.60,89.48 L369.20,89.53 L369.80,89.39 L370.40,89.84 L371.00,89.63 L371.60,90.45 L372.20,89.99 L372.80,90.48 L373.40,91.11 L374.00,90.55 L374.60,90.98 L375.20,91.33 L375.80,90.96 L376.40,91.98 L377.00,91.83 L377.60,91.31 L378.20,91.94 L378.80,91.81 L379.40,91.96 L380.00,92.33 L380.60,92.15 L381.20,92.84 L381.80,92.35 L382.40,93.03 L383.00,92.76 L383.60,93.16 L384.20,92.75 L384.80,92.84 L385.40,92.69 L386.00,93.37 L386.60,93.57 L387.20,94.03 L387.80,93.75 L388.40,93.39 L389.00,93.24 L389.60,93.45 L390.20,93.31 L390.80,93.84 L391.40,93.66 L392.00,93.05 L392.60,93.10 L393.20,93.83 L393.80,93.46 L394.40,93.28 L395.00,93.78 L395.60,93.24 L396.20,93.28 L396.80,93.23 L397.40,92.71 L398.00,93.70 L398.60,92.98 L399.20,93.21 L399.80,93.16 L400.40,93.68 L401.00,93.41 L401.60,93.44 L402.20,92.85 L402.80,93.42 L403.40,92.94 L404.00,93.57 L404.60,93.59 L405.20,93.47 L405.80,94.19 L406.40,93.67 L407.00,93.70 L407.60,93.54 L408.20,93.43 L408.80,93.85 L409.40,93.90 L410.00,93.06 L410.60,93.89 L411.20,93.71 L411.80,93.87 L412.40,93.71 L413.00,93.11 L413.60,93.14 L414.20,94.20 L414.80,93.66 L415.40,93.08 L416.00,93.70 L416.60,93.46 L417.20,92.95 L417.80,92.80 L418.40,93.04 L419.00,93.70 L419.60,93.60 L420.20,93.53 L420.80,93.73 L421.40,93.84 L422.00,92.90 L422.60,93.54 L423.20,93.36 L423.80,93.23 L424.40,93.47 L425.00,93.63 L425.60,93.58 L426.20,93.17 L426.80,93.52 L427.40,94.40 L428.00,93.33 L428.60,93.11 L429.20,93.81 L429.80,93.93 L430.40,93.89 L431.00,93.34 L431.60,94.08 L432.20,93.47 L432.80,93.35 L433.40,93.54 L434.00,93.72 L434.60,94.02 L435.20,93.99 L435.80,93.77 L436.40,94.11 L437.00,93.82 L437.60,94.11 L438.20,93.31 L438.80,93.26 L439.40,94.08 L440.00,93.33 L440.60,93.72" fill="none" stroke="#9933ee" stroke-width="1.45" stroke-linejoin="round" />
<path d="M260.00,83.40 L260.60,83.12 L261.20,82.99 L261.80,83.48 L262.40,81.96 L263.00,82.99 L263.60,83.31 L264.20,82.33 L264.80,82.11 L265.40,82.15 L266.00,82.29 L266.60,80.97 L267.20,81.14 L267.80,80.76 L268.40,80.76 L269.00,80.39 L269.60,80.38 L270.20,79.90 L270.80,80.03 L271.40,79.80 L272.00,79.87 L272.60,80.14 L273.20,80.23 L273.80,79.95 L274.40,80.97 L275.00,80.41 L275.60,79.99 L276.20,80.86 L276.80,80.19 L277.40,80.60 L278.00,80.37 L278.60,80.41 L279.20,80.33 L279.80,80.00 L280.40,80.16 L281.00,80.79 L281.60,79.23 L282.20,79.96 L282.80,80.02 L283.40,79.43 L284.00,79.24 L284.60,80.40 L285.20,79.42 L285.80,80.18 L286.40,79.52 L287.00,79.19 L287.60,79.09 L288.20,78.80 L288.80,78.48 L289.40,77.52 L290.00,76.54 L290.60,75.59 L291.20,75.12 L291.80,74.41 L292.40,73.80 L293.00,74.47 L293.60,75.60 L294.20,76.08 L294.80,76.85 L295.40,77.14 L296.00,77.69 L296.60,78.09 L297.20,78.35 L297.80,78.00 L298.40,78.68 L299.00,77.86 L299.60,78.92 L300.20,78.06 L300.80,77.77 L301.40,77.31 L302.00,76.37 L302.60,77.17 L303.20,77.15 L303.80,77.60 L304.40,76.28 L305.00,77.25 L305.60,76.29 L306.20,76.40 L306.80,74.97 L307.40,75.57 L308.00,75.00 L308.60,74.90 L309.20,74.20 L309.80,73.30 L310.40,73.68 L311.00,73.41 L311.60,73.32 L312.20,73.46 L312.80,73.48 L313.40,73.02 L314.00,72.42 L314.60,72.22 L315.20,72.92 L315.80,72.40 L316.40,71.86 L317.00,71.30 L317.60,71.06 L318.20,70.61 L318.80,69.98 L319.40,69.28 L320.00,69.62 L320.60,68.17 L321.20,66.99 L321.80,65.72 L322.40,64.75 L323.00,63.91 L323.60,62.42 L324.20,60.43 L324.80,58.74 L325.40,56.74 L326.00,54.53 L326.60,53.46 L327.20,51.31 L327.80,50.37 L328.40,47.78 L329.00,46.83 L329.60,46.37 L330.20,45.53 L330.80,45.07 L331.40,45.55 L332.00,46.59 L332.60,47.65 L333.20,48.71 L333.80,50.47 L334.40,51.95 L335.00,53.23 L335.60,54.61 L336.20,55.91 L336.80,57.49 L337.40,58.78 L338.00,59.50 L338.60,60.50 L339.20,60.97 L339.80,61.19 L340.40,61.83 L341.00,62.83 L341.60,63.00 L342.20,63.59 L342.80,63.14 L343.40,63.38 L344.00,63.37 L344.60,62.90 L345.20,61.79 L345.80,61.17 L346.40,60.28 L347.00,58.66 L347.60,57.75 L348.20,56.38 L348.80,54.26 L349.40,53.58 L350.00,51.45 L350.60,50.47 L351.20,49.88 L351.80,49.65 L352.40,50.54 L353.00,51.44 L353.60,53.53 L354.20,55.05 L354.80,57.17 L355.40,59.16 L356.00,61.01 L356.60,63.63 L357.20,65.34 L357.80,67.72 L358.40,68.88 L359.00,70.73 L359.60,71.45 L360.20,72.34 L360.80,72.82 L361.40,73.39 L362.00,74.03 L362.60,74.54 L363.20,74.34 L363.80,75.09 L364.40,76.14 L365.00,75.48 L365.60,75.69 L366.20,75.80 L366.80,75.78 L367.40,76.94 L368.00,76.78 L368.60,77.08 L369.20,77.83 L369.80,78.26 L370.40,77.26 L371.00,78.13 L371.60,78.15 L372.20,78.24 L372.80,78.42 L373.40,78.40 L374.00,79.11 L374.60,78.90 L375.20,78.94 L375.80,79.38 L376.40,79.37 L377.00,79.33 L377.60,79.39 L378.20,79.99 L378.80,79.64 L379.40,79.52 L380.00,79.34 L380.60,79.60 L381.20,79.42 L381.80,79.90 L382.40,80.02 L383.00,79.28 L383.60,80.06 L384.20,80.34 L384.80,80.23 L385.40,79.89 L386.00,80.72 L386.60,80.08 L387.20,79.92 L387.80,79.98 L388.40,80.36 L389.00,80.72 L389.60,80.79 L390.20,80.46 L390.80,79.97 L391.40,80.17 L392.00,80.09 L392.60,80.35 L393.20,79.79 L393.80,80.46 L394.40,80.65 L395.00,80.38 L395.60,80.60 L396.20,80.12 L396.80,79.94 L397.40,80.23 L398.00,80.87 L398.60,80.83 L399.20,80.31 L399.80,80.90 L400.40,80.37 L401.00,81.02 L401.60,80.67 L402.20,80.35 L402.80,80.79 L403.40,80.24 L404.00,80.19 L404.60,80.02 L405.20,80.62 L405.80,80.52 L406.40,80.52 L407.00,80.41 L407.60,81.06 L408.20,80.42 L408.80,80.32 L409.40,81.01 L410.00,81.08 L410.60,80.71 L411.20,79.98 L411.80,80.39 L412.40,80.82 L413.00,80.62 L413.60,81.16 L414.20,80.15 L414.80,80.87 L415.40,80.42 L416.00,81.10 L416.60,80.62 L417.20,81.01 L417.80,80.43 L418.40,80.17 L419.00,80.28 L419.60,80.47 L420.20,80.33 L420.80,81.11 L421.40,81.16 L422.00,80.80 L422.60,80.35 L423.20,80.67 L423.80,80.48 L424.40,81.23 L425.00,80.84 L425.60,80.91 L426.20,80.60 L426.80,80.05 L427.40,80.49 L428.00,80.37 L428.60,80.90 L429.20,80.81 L429.80,80.50 L430.40,80.65 L431.00,81.34 L431.60,80.46 L432.20,80.48 L432.80,80.73 L433.40,80.57 L434.00,80.67 L434.60,81.01 L435.20,81.44 L435.80,80.22 L436.40,80.84 L437.00,80.87 L437.60,80.83 L438.20,80.80 L438.80,80.75 L439.40,81.23 L440.00,80.72 L440.60,80.84" fill="none" stroke="#22e6f0" stroke-width="1.45" stroke-linejoin="round" />
<path d="M260.00,68.10 L260.60,68.33 L261.20,68.40 L261.80,68.96 L262.40,68.75 L263.00,68.95 L263.60,69.00 L264.20,68.79 L264.80,68.97 L265.40,69.01 L266.00,69.57 L266.60,69.38 L267.20,69.38 L267.80,69.95 L268.40,70.16 L269.00,69.46 L269.60,70.74 L270.20,70.20 L270.80,70.16 L271.40,70.55 L272.00,70.17 L272.60,69.89 L273.20,70.82 L273.80,69.64 L274.40,69.94 L275.00,70.24 L275.60,69.55 L276.20,69.87 L276.80,70.03 L277.40,70.73 L278.00,69.58 L278.60,69.87 L279.20,70.12 L279.80,69.92 L280.40,69.47 L281.00,70.03 L281.60,69.92 L282.20,70.03 L282.80,70.26 L283.40,70.20 L284.00,69.97 L284.60,69.90 L285.20,69.37 L285.80,69.65 L286.40,69.68 L287.00,69.31 L287.60,69.23 L288.20,68.50 L288.80,68.68 L289.40,68.00 L290.00,65.97 L290.60,64.98 L291.20,63.60 L291.80,63.46 L292.40,63.29 L293.00,63.98 L293.60,65.05 L294.20,66.37 L294.80,67.00 L295.40,68.34 L296.00,68.35 L296.60,69.08 L297.20,69.09 L297.80,69.48 L298.40,69.10 L299.00,69.43 L299.60,68.70 L300.20,69.17 L300.80,68.79 L301.40,68.84 L302.00,68.69 L302.60,68.87 L303.20,67.70 L303.80,68.37 L304.40,67.57 L305.00,68.33 L305.60,66.99 L306.20,67.07 L306.80,66.50 L307.40,67.25 L308.00,65.72 L308.60,65.63 L309.20,64.77 L309.80,63.75 L310.40,63.83 L311.00,63.97 L311.60,63.66 L312.20,64.11 L312.80,63.68 L313.40,63.77 L314.00,63.48 L314.60,63.49 L315.20,63.70 L315.80,62.75 L316.40,62.21 L317.00,61.37 L317.60,60.69 L318.20,60.75 L318.80,59.04 L319.40,58.18 L320.00,57.40 L320.60,56.08 L321.20,55.55 L321.80,52.50 L322.40,51.76 L323.00,50.03 L323.60,47.38 L324.20,45.42 L324.80,43.59 L325.40,41.76 L326.00,38.63 L326.60,36.24 L327.20,35.11 L327.80,33.48 L328.40,31.28 L329.00,29.39 L329.60,29.79 L330.20,28.72 L330.80,29.09 L331.40,28.97 L332.00,29.50 L332.60,30.45 L333.20,32.37 L333.80,33.82 L334.40,34.18 L335.00,36.31 L335.60,39.00 L336.20,39.96 L336.80,41.26 L337.40,43.29 L338.00,44.66 L338.60,45.93 L339.20,46.90 L339.80,47.89 L340.40,48.61 L341.00,49.47 L341.60,49.48 L342.20,49.89 L342.80,49.98 L343.40,50.32 L344.00,49.61 L344.60,48.84 L345.20,48.24 L345.80,47.16 L346.40,46.16 L347.00,44.57 L347.60,43.52 L348.20,41.84 L348.80,39.87 L349.40,38.41 L350.00,37.76 L350.60,36.85 L351.20,36.25 L351.80,35.83 L352.40,36.24 L353.00,38.00 L353.60,39.58 L354.20,41.38 L354.80,42.73 L355.40,45.82 L356.00,47.64 L356.60,50.34 L357.20,52.66 L357.80,54.40 L358.40,56.47 L359.00,57.74 L359.60,59.72 L360.20,60.76 L360.80,62.71 L361.40,63.55 L362.00,64.68 L362.60,65.18 L363.20,65.43 L363.80,66.28 L364.40,66.46 L365.00,67.21 L365.60,67.46 L366.20,67.32 L366.80,67.96 L367.40,68.26 L368.00,68.39 L368.60,69.05 L369.20,69.57 L369.80,69.06 L370.40,69.27 L371.00,68.80 L371.60,69.72 L372.20,69.79 L372.80,69.35 L373.40,70.36 L374.00,70.61 L374.60,70.28 L375.20,70.53 L375.80,70.44 L376.40,71.16 L377.00,70.47 L377.60,70.98 L378.20,71.87 L378.80,71.29 L379.40,71.51 L380.00,71.37 L380.60,71.08 L381.20,71.54 L381.80,71.76 L382.40,71.31 L383.00,71.84 L383.60,72.21 L384.20,72.19 L384.80,71.30 L385.40,71.56 L386.00,71.37 L386.60,72.34 L387.20,72.20 L387.80,72.24 L388.40,71.70 L389.00,71.60 L389.60,72.04 L390.20,72.06 L390.80,71.73 L391.40,72.08 L392.00,72.26 L392.60,72.12 L393.20,71.69 L393.80,71.32 L394.40,71.97 L395.00,72.13 L395.60,71.98 L396.20,71.93 L396.80,71.85 L397.40,72.34 L398.00,72.08 L398.60,72.15 L399.20,71.77 L399.80,71.90 L400.40,72.18 L401.00,71.78 L401.60,71.69 L402.20,72.03 L402.80,72.57 L403.40,72.22 L404.00,72.67 L404.60,72.12 L405.20,72.06 L405.80,71.69 L406.40,71.98 L407.00,72.69 L407.60,72.31 L408.20,72.46 L408.80,72.45 L409.40,72.21 L410.00,72.15 L410.60,72.27 L411.20,72.47 L411.80,72.40 L412.40,72.42 L413.00,72.30 L413.60,71.99 L414.20,72.17 L414.80,71.94 L415.40,72.62 L416.00,71.54 L416.60,72.21 L417.20,73.13 L417.80,72.18 L418.40,71.91 L419.00,72.30 L419.60,72.77 L420.20,72.26 L420.80,72.54 L421.40,72.37 L422.00,72.21 L422.60,73.45 L423.20,72.38 L423.80,72.17 L424.40,72.19 L425.00,72.50 L425.60,72.52 L426.20,72.65 L426.80,72.44 L427.40,71.89 L428.00,72.59 L428.60,72.30 L429.20,72.31 L429.80,71.90 L430.40,72.22 L431.00,72.17 L431.60,72.42 L432.20,71.93 L432.80,72.46 L433.40,72.50 L434.00,72.07 L434.60,72.25 L435.20,72.17 L435.80,72.79 L436.40,71.60 L437.00,72.37 L437.60,71.91 L438.20,72.35 L438.80,72.80 L439.40,72.29 L440.00,72.57 L440.60,72.23" fill="none" stroke="#1a1ae6" stroke-width="1.45" stroke-linejoin="round" />
</g>
<rect x="387.2" y="33" width="50" height="153.4" fill="#fff" stroke="#d0d0d0" stroke-width="0.8"/>
<line x1="388.20" y1="41.60" x2="411.60" y2="41.60" stroke="#1a1ae6" stroke-width="1.2" />
<text x="414.80" y="44.60" font-size="8.5" text-anchor="start" fill="#231f20" >10 K</text>
<line x1="388.20" y1="54.20" x2="411.60" y2="54.20" stroke="#22e6f0" stroke-width="1.2" />
<text x="414.80" y="57.20" font-size="8.5" text-anchor="start" fill="#231f20" >40 K</text>
<line x1="388.20" y1="66.80" x2="411.60" y2="66.80" stroke="#9933ee" stroke-width="1.2" />
<text x="414.80" y="69.80" font-size="8.5" text-anchor="start" fill="#231f20" >70 K</text>
<line x1="388.20" y1="79.40" x2="411.60" y2="79.40" stroke="#7a1a8a" stroke-width="1.2" />
<text x="414.80" y="82.40" font-size="8.5" text-anchor="start" fill="#231f20" >90 K</text>
<line x1="388.20" y1="92.00" x2="411.60" y2="92.00" stroke="#22e622" stroke-width="1.2" />
<text x="414.80" y="95.00" font-size="8.5" text-anchor="start" fill="#231f20" >110 K</text>
<line x1="388.20" y1="104.60" x2="411.60" y2="104.60" stroke="#ee2020" stroke-width="1.2" />
<text x="414.80" y="107.60" font-size="8.5" text-anchor="start" fill="#231f20" >130 K</text>
<line x1="388.20" y1="117.20" x2="411.60" y2="117.20" stroke="#f020f0" stroke-width="1.2" />
<text x="414.80" y="120.20" font-size="8.5" text-anchor="start" fill="#231f20" >150 K</text>
<line x1="388.20" y1="129.80" x2="411.60" y2="129.80" stroke="#ff8a1a" stroke-width="1.2" />
<text x="414.80" y="132.80" font-size="8.5" text-anchor="start" fill="#231f20" >175 K</text>
<line x1="388.20" y1="142.40" x2="411.60" y2="142.40" stroke="#8a8a10" stroke-width="1.2" />
<text x="414.80" y="145.40" font-size="8.5" text-anchor="start" fill="#231f20" >200 K</text>
<line x1="388.20" y1="155.00" x2="411.60" y2="155.00" stroke="#c4c4c4" stroke-width="1.2" />
<text x="414.80" y="158.00" font-size="8.5" text-anchor="start" fill="#231f20" >225 K</text>
<line x1="388.20" y1="167.60" x2="411.60" y2="167.60" stroke="#8a8a8a" stroke-width="1.2" />
<text x="414.80" y="170.60" font-size="8.5" text-anchor="start" fill="#231f20" >250 K</text>
<line x1="388.20" y1="180.20" x2="411.60" y2="180.20" stroke="#101010" stroke-width="1.2" />
<text x="414.80" y="183.20" font-size="8.5" text-anchor="start" fill="#231f20" >300 K</text>
<text x="401.00" y="26.40" font-size="8.5" text-anchor="start" fill="#231f20" >y = 0.2</text>
<line x1="292.00" y1="46.40" x2="292.00" y2="55.00" stroke="#111" stroke-width="0.9" />
<path d="M290.40,54.00 L293.60,54.00 L292.00,57.50 Z" fill="#111"/>
<line x1="330.20" y1="14.00" x2="330.20" y2="22.30" stroke="#111" stroke-width="0.9" />
<path d="M328.60,21.30 L331.80,21.30 L330.20,24.80 Z" fill="#111"/>
<line x1="260.00" y1="10.30" x2="440.00" y2="10.30" stroke="#4a4a4a" stroke-width="1.0" />
<line x1="440.00" y1="10.30" x2="440.00" y2="190.50" stroke="#4a4a4a" stroke-width="1.0" />
<line x1="259.50" y1="190.50" x2="440.00" y2="190.50" stroke="#4a4a4a" stroke-width="1.0" />
<line x1="260.00" y1="10.30" x2="260.00" y2="190.50" stroke="#9a9a9a" stroke-width="1.8" />
<line x1="272.10" y1="190.50" x2="272.10" y2="192.50" stroke="#4a4a4a" stroke-width="0.8" />
<line x1="287.41" y1="190.50" x2="287.41" y2="192.50" stroke="#4a4a4a" stroke-width="0.8" />
<line x1="302.71" y1="190.50" x2="302.71" y2="192.50" stroke="#4a4a4a" stroke-width="0.8" />
<line x1="318.01" y1="190.50" x2="318.01" y2="192.50" stroke="#4a4a4a" stroke-width="0.8" />
<line x1="333.31" y1="190.50" x2="333.31" y2="192.50" stroke="#4a4a4a" stroke-width="0.8" />
<line x1="348.62" y1="190.50" x2="348.62" y2="192.50" stroke="#4a4a4a" stroke-width="0.8" />
<line x1="363.92" y1="190.50" x2="363.92" y2="192.50" stroke="#4a4a4a" stroke-width="0.8" />
<line x1="379.22" y1="190.50" x2="379.22" y2="192.50" stroke="#4a4a4a" stroke-width="0.8" />
<line x1="394.53" y1="190.50" x2="394.53" y2="192.50" stroke="#4a4a4a" stroke-width="0.8" />
<line x1="409.83" y1="190.50" x2="409.83" y2="192.50" stroke="#4a4a4a" stroke-width="0.8" />
<line x1="425.13" y1="190.50" x2="425.13" y2="192.50" stroke="#4a4a4a" stroke-width="0.8" />
<line x1="440.44" y1="190.50" x2="440.44" y2="192.50" stroke="#4a4a4a" stroke-width="0.8" />
<line x1="272.10" y1="10.30" x2="272.10" y2="8.30" stroke="#4a4a4a" stroke-width="0.8" />
<line x1="287.41" y1="10.30" x2="287.41" y2="8.30" stroke="#4a4a4a" stroke-width="0.8" />
<line x1="302.71" y1="10.30" x2="302.71" y2="8.30" stroke="#4a4a4a" stroke-width="0.8" />
<line x1="318.01" y1="10.30" x2="318.01" y2="8.30" stroke="#4a4a4a" stroke-width="0.8" />
<line x1="333.31" y1="10.30" x2="333.31" y2="8.30" stroke="#4a4a4a" stroke-width="0.8" />
<line x1="348.62" y1="10.30" x2="348.62" y2="8.30" stroke="#4a4a4a" stroke-width="0.8" />
<line x1="363.92" y1="10.30" x2="363.92" y2="8.30" stroke="#4a4a4a" stroke-width="0.8" />
<line x1="379.22" y1="10.30" x2="379.22" y2="8.30" stroke="#4a4a4a" stroke-width="0.8" />
<line x1="394.53" y1="10.30" x2="394.53" y2="8.30" stroke="#4a4a4a" stroke-width="0.8" />
<line x1="409.83" y1="10.30" x2="409.83" y2="8.30" stroke="#4a4a4a" stroke-width="0.8" />
<line x1="425.13" y1="10.30" x2="425.13" y2="8.30" stroke="#4a4a4a" stroke-width="0.8" />
<line x1="440.44" y1="10.30" x2="440.44" y2="8.30" stroke="#4a4a4a" stroke-width="0.8" />
<line x1="259.10" y1="190.50" x2="257.00" y2="190.50" stroke="#4a4a4a" stroke-width="0.8" />
<line x1="259.10" y1="180.50" x2="258.00" y2="180.50" stroke="#4a4a4a" stroke-width="0.8" />
<line x1="259.10" y1="170.50" x2="257.00" y2="170.50" stroke="#4a4a4a" stroke-width="0.8" />
<line x1="259.10" y1="160.50" x2="258.00" y2="160.50" stroke="#4a4a4a" stroke-width="0.8" />
<line x1="259.10" y1="150.50" x2="257.00" y2="150.50" stroke="#4a4a4a" stroke-width="0.8" />
<line x1="259.10" y1="140.50" x2="258.00" y2="140.50" stroke="#4a4a4a" stroke-width="0.8" />
<line x1="259.10" y1="130.50" x2="257.00" y2="130.50" stroke="#4a4a4a" stroke-width="0.8" />
<line x1="259.10" y1="120.50" x2="258.00" y2="120.50" stroke="#4a4a4a" stroke-width="0.8" />
<line x1="259.10" y1="110.50" x2="257.00" y2="110.50" stroke="#4a4a4a" stroke-width="0.8" />
<line x1="259.10" y1="100.50" x2="258.00" y2="100.50" stroke="#4a4a4a" stroke-width="0.8" />
<line x1="259.10" y1="90.50" x2="257.00" y2="90.50" stroke="#4a4a4a" stroke-width="0.8" />
<line x1="259.10" y1="80.50" x2="258.00" y2="80.50" stroke="#4a4a4a" stroke-width="0.8" />
<line x1="259.10" y1="70.50" x2="257.00" y2="70.50" stroke="#4a4a4a" stroke-width="0.8" />
<line x1="259.10" y1="60.50" x2="258.00" y2="60.50" stroke="#4a4a4a" stroke-width="0.8" />
<line x1="259.10" y1="50.50" x2="257.00" y2="50.50" stroke="#4a4a4a" stroke-width="0.8" />
<line x1="259.10" y1="40.50" x2="258.00" y2="40.50" stroke="#4a4a4a" stroke-width="0.8" />
<line x1="259.10" y1="30.50" x2="257.00" y2="30.50" stroke="#4a4a4a" stroke-width="0.8" />
<line x1="259.10" y1="20.50" x2="258.00" y2="20.50" stroke="#4a4a4a" stroke-width="0.8" />
<text x="287.41" y="203.00" font-size="8.5" text-anchor="middle" fill="#231f20" >200</text>
<text x="318.01" y="203.00" font-size="8.5" text-anchor="middle" fill="#231f20" >400</text>
<text x="348.62" y="203.00" font-size="8.5" text-anchor="middle" fill="#231f20" >600</text>
<text x="379.22" y="203.00" font-size="8.5" text-anchor="middle" fill="#231f20" >800</text>
<text x="409.83" y="203.00" font-size="8.5" text-anchor="middle" fill="#231f20" >1000</text>
<text x="440.44" y="203.00" font-size="8.5" text-anchor="middle" fill="#231f20" >1200</text>
<text x="350" y="217.5" font-size="8.5" text-anchor="middle" fill="#231f20">Raman shift (cm<tspan dy="-3.4" font-size="5.6">−1</tspan><tspan dy="3.4">)</tspan></text>
<text x="0" y="0" font-size="8.5" text-anchor="middle" fill="#231f20" transform="translate(249.50,99.00) rotate(-90)">Intensity (a.u.)</text>
<text x="461.3" y="9.9" font-size="14" font-weight="bold" fill="#000">c</text>
<defs><clipPath id="cc"><rect x="497.6" y="95.7" width="182.4" height="94.3"/></clipPath></defs>
<path d="M542.10,23.60 L629.70,79.70 L685.00,85.40" fill="none" stroke="#444" stroke-width="0.8" stroke-linejoin="round" stroke-dasharray="1.2,1.6"/>
<rect x="501.80" y="16.20" width="3.4" height="3.4" fill="none" stroke="#98ee98" stroke-width="0.8"/>
<line x1="503.50" y1="16.70" x2="503.50" y2="19.10" stroke="#98ee98" stroke-width="0.6" />
<rect x="519.30" y="19.20" width="3.4" height="3.4" fill="none" stroke="#98ee98" stroke-width="0.8"/>
<line x1="521.00" y1="19.70" x2="521.00" y2="22.10" stroke="#98ee98" stroke-width="0.6" />
<rect x="537.40" y="20.20" width="3.4" height="3.4" fill="none" stroke="#98ee98" stroke-width="0.8"/>
<line x1="539.10" y1="20.70" x2="539.10" y2="23.10" stroke="#98ee98" stroke-width="0.6" />
<rect x="548.60" y="13.20" width="3.4" height="3.4" fill="none" stroke="#98ee98" stroke-width="0.8"/>
<line x1="550.30" y1="13.70" x2="550.30" y2="16.10" stroke="#98ee98" stroke-width="0.6" />
<rect x="560.80" y="42.10" width="3.4" height="3.4" fill="none" stroke="#98ee98" stroke-width="0.8"/>
<line x1="562.50" y1="42.60" x2="562.50" y2="45.00" stroke="#98ee98" stroke-width="0.6" />
<rect x="572.50" y="51.80" width="3.4" height="3.4" fill="none" stroke="#98ee98" stroke-width="0.8"/>
<line x1="574.20" y1="52.30" x2="574.20" y2="54.70" stroke="#98ee98" stroke-width="0.6" />
<rect x="584.50" y="57.30" width="3.4" height="3.4" fill="none" stroke="#98ee98" stroke-width="0.8"/>
<line x1="586.20" y1="57.80" x2="586.20" y2="60.20" stroke="#98ee98" stroke-width="0.6" />
<rect x="598.70" y="57.30" width="3.4" height="3.4" fill="none" stroke="#98ee98" stroke-width="0.8"/>
<line x1="600.40" y1="57.80" x2="600.40" y2="60.20" stroke="#98ee98" stroke-width="0.6" />
<rect x="613.90" y="67.50" width="3.4" height="3.4" fill="none" stroke="#98ee98" stroke-width="0.8"/>
<line x1="615.60" y1="68.00" x2="615.60" y2="70.40" stroke="#98ee98" stroke-width="0.6" />
<rect x="628.00" y="78.50" width="3.4" height="3.4" fill="none" stroke="#98ee98" stroke-width="0.8"/>
<line x1="629.70" y1="79.00" x2="629.70" y2="81.40" stroke="#98ee98" stroke-width="0.6" />
<rect x="643.00" y="78.70" width="3.4" height="3.4" fill="none" stroke="#98ee98" stroke-width="0.8"/>
<line x1="644.70" y1="79.20" x2="644.70" y2="81.60" stroke="#98ee98" stroke-width="0.6" />
<rect x="673.30" y="84.70" width="3.4" height="3.4" fill="none" stroke="#98ee98" stroke-width="0.8"/>
<line x1="675.00" y1="85.20" x2="675.00" y2="87.60" stroke="#98ee98" stroke-width="0.6" />
<line x1="627.80" y1="44.80" x2="627.80" y2="69.00" stroke="#22dd22" stroke-width="1.2" />
<path d="M625.8,68.5 L629.8,68.5 L627.8,74.5 Z" fill="#22dd22"/>
<path d="M547.10,168.80 L631.50,114.20 L677.50,164.00" fill="none" stroke="#444" stroke-width="0.8" stroke-linejoin="round" stroke-dasharray="1.2,1.6"/>
<g clip-path="url(#cc)">
<line x1="503.50" y1="169.30" x2="503.50" y2="180.50" stroke="#98ee98" stroke-width="0.7" />
<line x1="502.50" y1="169.30" x2="504.50" y2="169.30" stroke="#98ee98" stroke-width="0.7" />
<line x1="502.50" y1="180.50" x2="504.50" y2="180.50" stroke="#98ee98" stroke-width="0.7" />
<circle cx="503.50" cy="175.00" r="2.6" fill="#fff" fill-opacity="0.6" stroke="#98ee98" stroke-width="0.8"/>
<line x1="521.50" y1="169.80" x2="521.50" y2="179.70" stroke="#98ee98" stroke-width="0.7" />
<line x1="520.50" y1="169.80" x2="522.50" y2="169.80" stroke="#98ee98" stroke-width="0.7" />
<line x1="520.50" y1="179.70" x2="522.50" y2="179.70" stroke="#98ee98" stroke-width="0.7" />
<circle cx="521.50" cy="174.70" r="2.6" fill="#fff" fill-opacity="0.6" stroke="#98ee98" stroke-width="0.8"/>
<line x1="539.60" y1="163.00" x2="539.60" y2="175.50" stroke="#98ee98" stroke-width="0.7" />
<line x1="538.60" y1="163.00" x2="540.60" y2="163.00" stroke="#98ee98" stroke-width="0.7" />
<line x1="538.60" y1="175.50" x2="540.60" y2="175.50" stroke="#98ee98" stroke-width="0.7" />
<circle cx="539.60" cy="169.30" r="2.6" fill="#fff" fill-opacity="0.6" stroke="#98ee98" stroke-width="0.8"/>
<line x1="551.60" y1="161.80" x2="551.60" y2="174.20" stroke="#98ee98" stroke-width="0.7" />
<line x1="550.60" y1="161.80" x2="552.60" y2="161.80" stroke="#98ee98" stroke-width="0.7" />
<line x1="550.60" y1="174.20" x2="552.60" y2="174.20" stroke="#98ee98" stroke-width="0.7" />
<circle cx="551.60" cy="168.00" r="2.6" fill="#fff" fill-opacity="0.6" stroke="#98ee98" stroke-width="0.8"/>
<line x1="563.30" y1="145.00" x2="563.30" y2="157.60" stroke="#98ee98" stroke-width="0.7" />
<line x1="562.30" y1="145.00" x2="564.30" y2="145.00" stroke="#98ee98" stroke-width="0.7" />
<line x1="562.30" y1="157.60" x2="564.30" y2="157.60" stroke="#98ee98" stroke-width="0.7" />
<circle cx="563.30" cy="151.30" r="2.6" fill="#fff" fill-opacity="0.6" stroke="#98ee98" stroke-width="0.8"/>
<line x1="575.00" y1="145.10" x2="575.00" y2="156.80" stroke="#98ee98" stroke-width="0.7" />
<line x1="574.00" y1="145.10" x2="576.00" y2="145.10" stroke="#98ee98" stroke-width="0.7" />
<line x1="574.00" y1="156.80" x2="576.00" y2="156.80" stroke="#98ee98" stroke-width="0.7" />
<circle cx="575.00" cy="151.10" r="2.6" fill="#fff" fill-opacity="0.6" stroke="#98ee98" stroke-width="0.8"/>
<line x1="587.40" y1="136.40" x2="587.40" y2="147.60" stroke="#98ee98" stroke-width="0.7" />
<line x1="586.40" y1="136.40" x2="588.40" y2="136.40" stroke="#98ee98" stroke-width="0.7" />
<line x1="586.40" y1="147.60" x2="588.40" y2="147.60" stroke="#98ee98" stroke-width="0.7" />
<circle cx="587.40" cy="141.90" r="2.6" fill="#fff" fill-opacity="0.6" stroke="#98ee98" stroke-width="0.8"/>
<line x1="602.30" y1="138.50" x2="602.30" y2="152.30" stroke="#98ee98" stroke-width="0.7" />
<line x1="601.30" y1="138.50" x2="603.30" y2="138.50" stroke="#98ee98" stroke-width="0.7" />
<line x1="601.30" y1="152.30" x2="603.30" y2="152.30" stroke="#98ee98" stroke-width="0.7" />
<circle cx="602.30" cy="145.70" r="2.6" fill="#fff" fill-opacity="0.6" stroke="#98ee98" stroke-width="0.8"/>
<line x1="617.40" y1="124.30" x2="617.40" y2="136.60" stroke="#98ee98" stroke-width="0.7" />
<line x1="616.40" y1="124.30" x2="618.40" y2="124.30" stroke="#98ee98" stroke-width="0.7" />
<line x1="616.40" y1="136.60" x2="618.40" y2="136.60" stroke="#98ee98" stroke-width="0.7" />
<circle cx="617.40" cy="130.90" r="2.6" fill="#fff" fill-opacity="0.6" stroke="#98ee98" stroke-width="0.8"/>
<line x1="632.50" y1="106.30" x2="632.50" y2="117.70" stroke="#98ee98" stroke-width="0.7" />
<line x1="631.50" y1="106.30" x2="633.50" y2="106.30" stroke="#98ee98" stroke-width="0.7" />
<line x1="631.50" y1="117.70" x2="633.50" y2="117.70" stroke="#98ee98" stroke-width="0.7" />
<circle cx="632.50" cy="112.00" r="2.6" fill="#fff" fill-opacity="0.6" stroke="#98ee98" stroke-width="0.8"/>
<line x1="647.30" y1="115.40" x2="647.30" y2="130.00" stroke="#98ee98" stroke-width="0.7" />
<line x1="646.30" y1="115.40" x2="648.30" y2="115.40" stroke="#98ee98" stroke-width="0.7" />
<line x1="646.30" y1="130.00" x2="648.30" y2="130.00" stroke="#98ee98" stroke-width="0.7" />
<circle cx="647.30" cy="123.00" r="2.6" fill="#fff" fill-opacity="0.6" stroke="#98ee98" stroke-width="0.8"/>
<line x1="677.10" y1="150.80" x2="677.10" y2="190.00" stroke="#98ee98" stroke-width="0.7" />
<line x1="676.10" y1="150.80" x2="678.10" y2="150.80" stroke="#98ee98" stroke-width="0.7" />
<line x1="676.10" y1="190.00" x2="678.10" y2="190.00" stroke="#98ee98" stroke-width="0.7" />
<circle cx="677.10" cy="166.80" r="2.6" fill="#fff" fill-opacity="0.6" stroke="#98ee98" stroke-width="0.8"/>
</g>
<line x1="497.60" y1="10.00" x2="680.00" y2="10.00" stroke="#9a9a9a" stroke-width="1.6" />
<line x1="497.60" y1="95.70" x2="680.00" y2="95.70" stroke="#9a9a9a" stroke-width="1.6" />
<line x1="497.60" y1="10.00" x2="497.60" y2="190.00" stroke="#4a4a4a" stroke-width="1.0" />
<line x1="680.00" y1="10.00" x2="680.00" y2="190.00" stroke="#4a4a4a" stroke-width="1.2" />
<line x1="497.10" y1="190.00" x2="680.50" y2="190.00" stroke="#4a4a4a" stroke-width="1.0" />
<line x1="497.80" y1="190.00" x2="497.80" y2="192.00" stroke="#4a4a4a" stroke-width="0.8" />
<line x1="512.73" y1="190.00" x2="512.73" y2="192.00" stroke="#4a4a4a" stroke-width="0.8" />
<line x1="527.65" y1="190.00" x2="527.65" y2="192.00" stroke="#4a4a4a" stroke-width="0.8" />
<line x1="542.58" y1="190.00" x2="542.58" y2="192.00" stroke="#4a4a4a" stroke-width="0.8" />
<line x1="557.50" y1="190.00" x2="557.50" y2="192.00" stroke="#4a4a4a" stroke-width="0.8" />
<line x1="572.42" y1="190.00" x2="572.42" y2="192.00" stroke="#4a4a4a" stroke-width="0.8" />
<line x1="587.35" y1="190.00" x2="587.35" y2="192.00" stroke="#4a4a4a" stroke-width="0.8" />
<line x1="602.27" y1="190.00" x2="602.27" y2="192.00" stroke="#4a4a4a" stroke-width="0.8" />
<line x1="617.20" y1="190.00" x2="617.20" y2="192.00" stroke="#4a4a4a" stroke-width="0.8" />
<line x1="632.12" y1="190.00" x2="632.12" y2="192.00" stroke="#4a4a4a" stroke-width="0.8" />
<line x1="647.05" y1="190.00" x2="647.05" y2="192.00" stroke="#4a4a4a" stroke-width="0.8" />
<line x1="661.98" y1="190.00" x2="661.98" y2="192.00" stroke="#4a4a4a" stroke-width="0.8" />
<line x1="676.90" y1="190.00" x2="676.90" y2="192.00" stroke="#4a4a4a" stroke-width="0.8" />
<line x1="512.73" y1="10.00" x2="512.73" y2="11.80" stroke="#4a4a4a" stroke-width="0.8" />
<line x1="527.65" y1="10.00" x2="527.65" y2="11.80" stroke="#4a4a4a" stroke-width="0.8" />
<line x1="542.58" y1="10.00" x2="542.58" y2="11.80" stroke="#4a4a4a" stroke-width="0.8" />
<line x1="557.50" y1="10.00" x2="557.50" y2="11.80" stroke="#4a4a4a" stroke-width="0.8" />
<line x1="572.42" y1="10.00" x2="572.42" y2="11.80" stroke="#4a4a4a" stroke-width="0.8" />
<line x1="587.35" y1="10.00" x2="587.35" y2="11.80" stroke="#4a4a4a" stroke-width="0.8" />
<line x1="602.27" y1="10.00" x2="602.27" y2="11.80" stroke="#4a4a4a" stroke-width="0.8" />
<line x1="617.20" y1="10.00" x2="617.20" y2="11.80" stroke="#4a4a4a" stroke-width="0.8" />
<line x1="632.12" y1="10.00" x2="632.12" y2="11.80" stroke="#4a4a4a" stroke-width="0.8" />
<line x1="647.05" y1="10.00" x2="647.05" y2="11.80" stroke="#4a4a4a" stroke-width="0.8" />
<line x1="661.98" y1="10.00" x2="661.98" y2="11.80" stroke="#4a4a4a" stroke-width="0.8" />
<line x1="676.90" y1="10.00" x2="676.90" y2="11.80" stroke="#4a4a4a" stroke-width="0.8" />
<line x1="512.73" y1="95.70" x2="512.73" y2="94.50" stroke="#4a4a4a" stroke-width="0.8" />
<line x1="527.65" y1="95.70" x2="527.65" y2="94.50" stroke="#4a4a4a" stroke-width="0.8" />
<line x1="542.58" y1="95.70" x2="542.58" y2="94.50" stroke="#4a4a4a" stroke-width="0.8" />
<line x1="557.50" y1="95.70" x2="557.50" y2="94.50" stroke="#4a4a4a" stroke-width="0.8" />
<line x1="572.42" y1="95.70" x2="572.42" y2="94.50" stroke="#4a4a4a" stroke-width="0.8" />
<line x1="587.35" y1="95.70" x2="587.35" y2="94.50" stroke="#4a4a4a" stroke-width="0.8" />
<line x1="602.27" y1="95.70" x2="602.27" y2="94.50" stroke="#4a4a4a" stroke-width="0.8" />
<line x1="617.20" y1="95.70" x2="617.20" y2="94.50" stroke="#4a4a4a" stroke-width="0.8" />
<line x1="632.12" y1="95.70" x2="632.12" y2="94.50" stroke="#4a4a4a" stroke-width="0.8" />
<line x1="647.05" y1="95.70" x2="647.05" y2="94.50" stroke="#4a4a4a" stroke-width="0.8" />
<line x1="661.98" y1="95.70" x2="661.98" y2="94.50" stroke="#4a4a4a" stroke-width="0.8" />
<line x1="676.90" y1="95.70" x2="676.90" y2="94.50" stroke="#4a4a4a" stroke-width="0.8" />
<line x1="512.73" y1="95.70" x2="512.73" y2="96.90" stroke="#4a4a4a" stroke-width="0.8" />
<line x1="527.65" y1="95.70" x2="527.65" y2="96.90" stroke="#4a4a4a" stroke-width="0.8" />
<line x1="542.58" y1="95.70" x2="542.58" y2="96.90" stroke="#4a4a4a" stroke-width="0.8" />
<line x1="557.50" y1="95.70" x2="557.50" y2="96.90" stroke="#4a4a4a" stroke-width="0.8" />
<line x1="572.42" y1="95.70" x2="572.42" y2="96.90" stroke="#4a4a4a" stroke-width="0.8" />
<line x1="587.35" y1="95.70" x2="587.35" y2="96.90" stroke="#4a4a4a" stroke-width="0.8" />
<line x1="602.27" y1="95.70" x2="602.27" y2="96.90" stroke="#4a4a4a" stroke-width="0.8" />
<line x1="617.20" y1="95.70" x2="617.20" y2="96.90" stroke="#4a4a4a" stroke-width="0.8" />
<line x1="632.12" y1="95.70" x2="632.12" y2="96.90" stroke="#4a4a4a" stroke-width="0.8" />
<line x1="647.05" y1="95.70" x2="647.05" y2="96.90" stroke="#4a4a4a" stroke-width="0.8" />
<line x1="661.98" y1="95.70" x2="661.98" y2="96.90" stroke="#4a4a4a" stroke-width="0.8" />
<line x1="676.90" y1="95.70" x2="676.90" y2="96.90" stroke="#4a4a4a" stroke-width="0.8" />
<line x1="497.60" y1="86.40" x2="495.60" y2="86.40" stroke="#4a4a4a" stroke-width="0.8" />
<line x1="497.60" y1="77.90" x2="495.60" y2="77.90" stroke="#4a4a4a" stroke-width="0.8" />
<line x1="497.60" y1="69.40" x2="495.60" y2="69.40" stroke="#4a4a4a" stroke-width="0.8" />
<line x1="497.60" y1="60.90" x2="495.60" y2="60.90" stroke="#4a4a4a" stroke-width="0.8" />
<line x1="497.60" y1="52.40" x2="495.60" y2="52.40" stroke="#4a4a4a" stroke-width="0.8" />
<line x1="497.60" y1="43.90" x2="495.60" y2="43.90" stroke="#4a4a4a" stroke-width="0.8" />
<line x1="497.60" y1="35.40" x2="495.60" y2="35.40" stroke="#4a4a4a" stroke-width="0.8" />
<line x1="497.60" y1="26.90" x2="495.60" y2="26.90" stroke="#4a4a4a" stroke-width="0.8" />
<line x1="497.60" y1="18.40" x2="495.60" y2="18.40" stroke="#4a4a4a" stroke-width="0.8" />
<line x1="680.00" y1="86.40" x2="678.00" y2="86.40" stroke="#4a4a4a" stroke-width="0.8" />
<line x1="680.00" y1="77.90" x2="678.00" y2="77.90" stroke="#4a4a4a" stroke-width="0.8" />
<line x1="680.00" y1="69.40" x2="678.00" y2="69.40" stroke="#4a4a4a" stroke-width="0.8" />
<line x1="680.00" y1="60.90" x2="678.00" y2="60.90" stroke="#4a4a4a" stroke-width="0.8" />
<line x1="680.00" y1="52.40" x2="678.00" y2="52.40" stroke="#4a4a4a" stroke-width="0.8" />
<line x1="680.00" y1="43.90" x2="678.00" y2="43.90" stroke="#4a4a4a" stroke-width="0.8" />
<line x1="680.00" y1="35.40" x2="678.00" y2="35.40" stroke="#4a4a4a" stroke-width="0.8" />
<line x1="680.00" y1="26.90" x2="678.00" y2="26.90" stroke="#4a4a4a" stroke-width="0.8" />
<line x1="680.00" y1="18.40" x2="678.00" y2="18.40" stroke="#4a4a4a" stroke-width="0.8" />
<line x1="497.60" y1="182.60" x2="495.60" y2="182.60" stroke="#4a4a4a" stroke-width="0.8" />
<line x1="497.60" y1="162.90" x2="495.60" y2="162.90" stroke="#4a4a4a" stroke-width="0.8" />
<line x1="497.60" y1="143.20" x2="495.60" y2="143.20" stroke="#4a4a4a" stroke-width="0.8" />
<line x1="497.60" y1="123.50" x2="495.60" y2="123.50" stroke="#4a4a4a" stroke-width="0.8" />
<line x1="497.60" y1="103.80" x2="495.60" y2="103.80" stroke="#4a4a4a" stroke-width="0.8" />
<line x1="680.00" y1="182.60" x2="678.00" y2="182.60" stroke="#4a4a4a" stroke-width="0.8" />
<line x1="680.00" y1="162.90" x2="678.00" y2="162.90" stroke="#4a4a4a" stroke-width="0.8" />
<line x1="680.00" y1="143.20" x2="678.00" y2="143.20" stroke="#4a4a4a" stroke-width="0.8" />
<line x1="680.00" y1="123.50" x2="678.00" y2="123.50" stroke="#4a4a4a" stroke-width="0.8" />
<line x1="680.00" y1="103.80" x2="678.00" y2="103.80" stroke="#4a4a4a" stroke-width="0.8" />
<text x="497.80" y="202.50" font-size="8.5" text-anchor="middle" fill="#231f20" >0</text>
<text x="527.65" y="202.50" font-size="8.5" text-anchor="middle" fill="#231f20" >50</text>
<text x="557.50" y="202.50" font-size="8.5" text-anchor="middle" fill="#231f20" >100</text>
<text x="587.35" y="202.50" font-size="8.5" text-anchor="middle" fill="#231f20" >150</text>
<text x="617.20" y="202.50" font-size="8.5" text-anchor="middle" fill="#231f20" >200</text>
<text x="647.05" y="202.50" font-size="8.5" text-anchor="middle" fill="#231f20" >250</text>
<text x="676.90" y="202.50" font-size="8.5" text-anchor="middle" fill="#231f20" >300</text>
<text x="491.00" y="89.42" font-size="8.5" text-anchor="end" fill="#231f20" >50</text>
<text x="491.00" y="72.42" font-size="8.5" text-anchor="end" fill="#231f20" >100</text>
<text x="491.00" y="55.42" font-size="8.5" text-anchor="end" fill="#231f20" >150</text>
<text x="491.00" y="38.42" font-size="8.5" text-anchor="end" fill="#231f20" >200</text>
<text x="491.00" y="21.42" font-size="8.5" text-anchor="end" fill="#231f20" >250</text>
<text x="491.00" y="185.62" font-size="8.5" text-anchor="end" fill="#231f20" >485</text>
<text x="491.00" y="146.22" font-size="8.5" text-anchor="end" fill="#231f20" >490</text>
<text x="491.00" y="106.82" font-size="8.5" text-anchor="end" fill="#231f20" >495</text>
<text x="589" y="217" font-size="8.5" text-anchor="middle" fill="#231f20"><tspan font-style="italic">T</tspan> (K)</text>
<text x="0" y="0" font-size="8.5" text-anchor="middle" fill="#231f20" transform="translate(470.50,55.00) rotate(-90)">Peak area (a.u.)</text>
<text x="0" y="0" font-size="8.5" text-anchor="middle" fill="#231f20" transform="translate(470.5,143.3) rotate(-90)">Frequency (cm<tspan dy="-3.4" font-size="5.6">−1</tspan><tspan dy="3.4">)</tspan></text>
<text x="508.00" y="111.70" font-size="8.5" text-anchor="start" fill="#231f20" >Jahn-Teller-mode</text>
<text x="508.2" y="121.7" font-size="8.5" fill="#231f20"><tspan font-style="italic">y</tspan> = 0.2</text>
<text x="-0.8" y="240.8" font-size="14" font-weight="bold" fill="#000">d</text>
<defs><clipPath id="cdu"><rect x="32.2" y="240.3" width="181" height="90.5"/></clipPath><clipPath id="cdl"><rect x="32.2" y="330.8" width="181" height="89.6"/></clipPath></defs>
<path d="M34.36,316.62a1.35,1.35 0 1,0 -2.7,0a1.35,1.35 0 1,0 2.7,0M35.92,322.23a1.35,1.35 0 1,0 -2.7,0a1.35,1.35 0 1,0 2.7,0M36.48,318.04a1.35,1.35 0 1,0 -2.7,0a1.35,1.35 0 1,0 2.7,0M38.33,316.48a1.35,1.35 0 1,0 -2.7,0a1.35,1.35 0 1,0 2.7,0M39.03,316.86a1.35,1.35 0 1,0 -2.7,0a1.35,1.35 0 1,0 2.7,0M40.33,318.20a1.35,1.35 0 1,0 -2.7,0a1.35,1.35 0 1,0 2.7,0M41.86,323.88a1.35,1.35 0 1,0 -2.7,0a1.35,1.35 0 1,0 2.7,0M42.73,315.66a1.35,1.35 0 1,0 -2.7,0a1.35,1.35 0 1,0 2.7,0M44.05,319.39a1.35,1.35 0 1,0 -2.7,0a1.35,1.35 0 1,0 2.7,0M44.84,312.64a1.35,1.35 0 1,0 -2.7,0a1.35,1.35 0 1,0 2.7,0M46.63,318.65a1.35,1.35 0 1,0 -2.7,0a1.35,1.35 0 1,0 2.7,0M47.67,321.15a1.35,1.35 0 1,0 -2.7,0a1.35,1.35 0 1,0 2.7,0M48.71,317.75a1.35,1.35 0 1,0 -2.7,0a1.35,1.35 0 1,0 2.7,0M50.29,316.44a1.35,1.35 0 1,0 -2.7,0a1.35,1.35 0 1,0 2.7,0M51.11,318.85a1.35,1.35 0 1,0 -2.7,0a1.35,1.35 0 1,0 2.7,0M52.43,320.07a1.35,1.35 0 1,0 -2.7,0a1.35,1.35 0 1,0 2.7,0M53.39,319.87a1.35,1.35 0 1,0 -2.7,0a1.35,1.35 0 1,0 2.7,0M54.81,323.51a1.35,1.35 0 1,0 -2.7,0a1.35,1.35 0 1,0 2.7,0M55.86,318.29a1.35,1.35 0 1,0 -2.7,0a1.35,1.35 0 1,0 2.7,0M57.11,315.84a1.35,1.35 0 1,0 -2.7,0a1.35,1.35 0 1,0 2.7,0M58.71,317.03a1.35,1.35 0 1,0 -2.7,0a1.35,1.35 0 1,0 2.7,0M59.54,317.10a1.35,1.35 0 1,0 -2.7,0a1.35,1.35 0 1,0 2.7,0M60.92,317.48a1.35,1.35 0 1,0 -2.7,0a1.35,1.35 0 1,0 2.7,0M62.52,316.92a1.35,1.35 0 1,0 -2.7,0a1.35,1.35 0 1,0 2.7,0M63.71,317.39a1.35,1.35 0 1,0 -2.7,0a1.35,1.35 0 1,0 2.7,0M64.73,311.93a1.35,1.35 0 1,0 -2.7,0a1.35,1.35 0 1,0 2.7,0M65.79,319.08a1.35,1.35 0 1,0 -2.7,0a1.35,1.35 0 1,0 2.7,0M66.79,314.91a1.35,1.35 0 1,0 -2.7,0a1.35,1.35 0 1,0 2.7,0M67.90,313.06a1.35,1.35 0 1,0 -2.7,0a1.35,1.35 0 1,0 2.7,0M69.76,318.13a1.35,1.35 0 1,0 -2.7,0a1.35,1.35 0 1,0 2.7,0M70.60,320.01a1.35,1.35 0 1,0 -2.7,0a1.35,1.35 0 1,0 2.7,0M71.49,317.54a1.35,1.35 0 1,0 -2.7,0a1.35,1.35 0 1,0 2.7,0M73.11,316.41a1.35,1.35 0 1,0 -2.7,0a1.35,1.35 0 1,0 2.7,0M74.44,313.11a1.35,1.35 0 1,0 -2.7,0a1.35,1.35 0 1,0 2.7,0M75.51,324.04a1.35,1.35 0 1,0 -2.7,0a1.35,1.35 0 1,0 2.7,0M76.97,318.12a1.35,1.35 0 1,0 -2.7,0a1.35,1.35 0 1,0 2.7,0M77.47,312.22a1.35,1.35 0 1,0 -2.7,0a1.35,1.35 0 1,0 2.7,0M79.07,313.11a1.35,1.35 0 1,0 -2.7,0a1.35,1.35 0 1,0 2.7,0M80.22,315.51a1.35,1.35 0 1,0 -2.7,0a1.35,1.35 0 1,0 2.7,0M81.11,310.66a1.35,1.35 0 1,0 -2.7,0a1.35,1.35 0 1,0 2.7,0M82.79,315.50a1.35,1.35 0 1,0 -2.7,0a1.35,1.35 0 1,0 2.7,0M84.16,313.55a1.35,1.35 0 1,0 -2.7,0a1.35,1.35 0 1,0 2.7,0M85.16,318.34a1.35,1.35 0 1,0 -2.7,0a1.35,1.35 0 1,0 2.7,0M86.10,317.49a1.35,1.35 0 1,0 -2.7,0a1.35,1.35 0 1,0 2.7,0M87.78,306.68a1.35,1.35 0 1,0 -2.7,0a1.35,1.35 0 1,0 2.7,0M88.72,314.57a1.35,1.35 0 1,0 -2.7,0a1.35,1.35 0 1,0 2.7,0M89.93,309.65a1.35,1.35 0 1,0 -2.7,0a1.35,1.35 0 1,0 2.7,0M91.33,317.43a1.35,1.35 0 1,0 -2.7,0a1.35,1.35 0 1,0 2.7,0M92.05,314.63a1.35,1.35 0 1,0 -2.7,0a1.35,1.35 0 1,0 2.7,0M93.80,315.57a1.35,1.35 0 1,0 -2.7,0a1.35,1.35 0 1,0 2.7,0M94.90,310.79a1.35,1.35 0 1,0 -2.7,0a1.35,1.35 0 1,0 2.7,0M96.19,319.07a1.35,1.35 0 1,0 -2.7,0a1.35,1.35 0 1,0 2.7,0M96.92,319.56a1.35,1.35 0 1,0 -2.7,0a1.35,1.35 0 1,0 2.7,0M98.62,310.46a1.35,1.35 0 1,0 -2.7,0a1.35,1.35 0 1,0 2.7,0M99.34,314.56a1.35,1.35 0 1,0 -2.7,0a1.35,1.35 0 1,0 2.7,0M100.46,311.43a1.35,1.35 0 1,0 -2.7,0a1.35,1.35 0 1,0 2.7,0M102.29,313.15a1.35,1.35 0 1,0 -2.7,0a1.35,1.35 0 1,0 2.7,0M103.50,309.44a1.35,1.35 0 1,0 -2.7,0a1.35,1.35 0 1,0 2.7,0M104.72,318.41a1.35,1.35 0 1,0 -2.7,0a1.35,1.35 0 1,0 2.7,0M105.60,310.11a1.35,1.35 0 1,0 -2.7,0a1.35,1.35 0 1,0 2.7,0M106.65,311.97a1.35,1.35 0 1,0 -2.7,0a1.35,1.35 0 1,0 2.7,0M107.65,314.20a1.35,1.35 0 1,0 -2.7,0a1.35,1.35 0 1,0 2.7,0M109.37,310.71a1.35,1.35 0 1,0 -2.7,0a1.35,1.35 0 1,0 2.7,0M110.63,311.79a1.35,1.35 0 1,0 -2.7,0a1.35,1.35 0 1,0 2.7,0M111.93,310.74a1.35,1.35 0 1,0 -2.7,0a1.35,1.35 0 1,0 2.7,0M112.70,311.92a1.35,1.35 0 1,0 -2.7,0a1.35,1.35 0 1,0 2.7,0M113.85,308.81a1.35,1.35 0 1,0 -2.7,0a1.35,1.35 0 1,0 2.7,0M115.40,310.80a1.35,1.35 0 1,0 -2.7,0a1.35,1.35 0 1,0 2.7,0M116.74,311.36a1.35,1.35 0 1,0 -2.7,0a1.35,1.35 0 1,0 2.7,0M118.08,310.88a1.35,1.35 0 1,0 -2.7,0a1.35,1.35 0 1,0 2.7,0M118.63,311.96a1.35,1.35 0 1,0 -2.7,0a1.35,1.35 0 1,0 2.7,0M120.11,310.83a1.35,1.35 0 1,0 -2.7,0a1.35,1.35 0 1,0 2.7,0M121.65,313.73a1.35,1.35 0 1,0 -2.7,0a1.35,1.35 0 1,0 2.7,0M122.48,310.54a1.35,1.35 0 1,0 -2.7,0a1.35,1.35 0 1,0 2.7,0M123.82,310.97a1.35,1.35 0 1,0 -2.7,0a1.35,1.35 0 1,0 2.7,0M124.57,309.38a1.35,1.35 0 1,0 -2.7,0a1.35,1.35 0 1,0 2.7,0M126.30,309.64a1.35,1.35 0 1,0 -2.7,0a1.35,1.35 0 1,0 2.7,0M127.71,307.38a1.35,1.35 0 1,0 -2.7,0a1.35,1.35 0 1,0 2.7,0M128.84,312.46a1.35,1.35 0 1,0 -2.7,0a1.35,1.35 0 1,0 2.7,0M130.09,307.54a1.35,1.35 0 1,0 -2.7,0a1.35,1.35 0 1,0 2.7,0M131.12,308.61a1.35,1.35 0 1,0 -2.7,0a1.35,1.35 0 1,0 2.7,0M132.00,311.75a1.35,1.35 0 1,0 -2.7,0a1.35,1.35 0 1,0 2.7,0M133.63,311.74a1.35,1.35 0 1,0 -2.7,0a1.35,1.35 0 1,0 2.7,0M134.39,309.35a1.35,1.35 0 1,0 -2.7,0a1.35,1.35 0 1,0 2.7,0M136.09,304.52a1.35,1.35 0 1,0 -2.7,0a1.35,1.35 0 1,0 2.7,0M136.68,311.55a1.35,1.35 0 1,0 -2.7,0a1.35,1.35 0 1,0 2.7,0M138.50,310.94a1.35,1.35 0 1,0 -2.7,0a1.35,1.35 0 1,0 2.7,0M139.18,306.04a1.35,1.35 0 1,0 -2.7,0a1.35,1.35 0 1,0 2.7,0M140.56,312.27a1.35,1.35 0 1,0 -2.7,0a1.35,1.35 0 1,0 2.7,0M141.72,307.91a1.35,1.35 0 1,0 -2.7,0a1.35,1.35 0 1,0 2.7,0M143.23,306.56a1.35,1.35 0 1,0 -2.7,0a1.35,1.35 0 1,0 2.7,0M144.03,310.04a1.35,1.35 0 1,0 -2.7,0a1.35,1.35 0 1,0 2.7,0M145.41,309.14a1.35,1.35 0 1,0 -2.7,0a1.35,1.35 0 1,0 2.7,0M146.30,310.18a1.35,1.35 0 1,0 -2.7,0a1.35,1.35 0 1,0 2.7,0M147.72,304.83a1.35,1.35 0 1,0 -2.7,0a1.35,1.35 0 1,0 2.7,0M149.05,314.64a1.35,1.35 0 1,0 -2.7,0a1.35,1.35 0 1,0 2.7,0M150.01,307.57a1.35,1.35 0 1,0 -2.7,0a1.35,1.35 0 1,0 2.7,0M151.64,304.73a1.35,1.35 0 1,0 -2.7,0a1.35,1.35 0 1,0 2.7,0M152.64,310.91a1.35,1.35 0 1,0 -2.7,0a1.35,1.35 0 1,0 2.7,0M154.13,307.98a1.35,1.35 0 1,0 -2.7,0a1.35,1.35 0 1,0 2.7,0M155.28,309.87a1.35,1.35 0 1,0 -2.7,0a1.35,1.35 0 1,0 2.7,0M156.31,307.87a1.35,1.35 0 1,0 -2.7,0a1.35,1.35 0 1,0 2.7,0M157.87,308.57a1.35,1.35 0 1,0 -2.7,0a1.35,1.35 0 1,0 2.7,0M158.89,309.38a1.35,1.35 0 1,0 -2.7,0a1.35,1.35 0 1,0 2.7,0M160.24,306.41a1.35,1.35 0 1,0 -2.7,0a1.35,1.35 0 1,0 2.7,0M161.07,310.48a1.35,1.35 0 1,0 -2.7,0a1.35,1.35 0 1,0 2.7,0M162.44,307.05a1.35,1.35 0 1,0 -2.7,0a1.35,1.35 0 1,0 2.7,0M163.37,305.83a1.35,1.35 0 1,0 -2.7,0a1.35,1.35 0 1,0 2.7,0M165.22,308.44a1.35,1.35 0 1,0 -2.7,0a1.35,1.35 0 1,0 2.7,0M165.82,309.47a1.35,1.35 0 1,0 -2.7,0a1.35,1.35 0 1,0 2.7,0M167.04,307.43a1.35,1.35 0 1,0 -2.7,0a1.35,1.35 0 1,0 2.7,0M168.10,305.52a1.35,1.35 0 1,0 -2.7,0a1.35,1.35 0 1,0 2.7,0M169.46,309.72a1.35,1.35 0 1,0 -2.7,0a1.35,1.35 0 1,0 2.7,0M171.07,302.71a1.35,1.35 0 1,0 -2.7,0a1.35,1.35 0 1,0 2.7,0M172.23,304.75a1.35,1.35 0 1,0 -2.7,0a1.35,1.35 0 1,0 2.7,0M172.98,307.80a1.35,1.35 0 1,0 -2.7,0a1.35,1.35 0 1,0 2.7,0M174.39,303.65a1.35,1.35 0 1,0 -2.7,0a1.35,1.35 0 1,0 2.7,0M175.63,307.59a1.35,1.35 0 1,0 -2.7,0a1.35,1.35 0 1,0 2.7,0M177.03,307.26a1.35,1.35 0 1,0 -2.7,0a1.35,1.35 0 1,0 2.7,0M178.07,309.96a1.35,1.35 0 1,0 -2.7,0a1.35,1.35 0 1,0 2.7,0M179.39,304.61a1.35,1.35 0 1,0 -2.7,0a1.35,1.35 0 1,0 2.7,0M180.80,305.36a1.35,1.35 0 1,0 -2.7,0a1.35,1.35 0 1,0 2.7,0M181.91,308.07a1.35,1.35 0 1,0 -2.7,0a1.35,1.35 0 1,0 2.7,0M182.83,299.91a1.35,1.35 0 1,0 -2.7,0a1.35,1.35 0 1,0 2.7,0M184.11,315.95a1.35,1.35 0 1,0 -2.7,0a1.35,1.35 0 1,0 2.7,0M185.25,304.86a1.35,1.35 0 1,0 -2.7,0a1.35,1.35 0 1,0 2.7,0M186.25,304.71a1.35,1.35 0 1,0 -2.7,0a1.35,1.35 0 1,0 2.7,0M187.54,309.24a1.35,1.35 0 1,0 -2.7,0a1.35,1.35 0 1,0 2.7,0M188.81,306.55a1.35,1.35 0 1,0 -2.7,0a1.35,1.35 0 1,0 2.7,0M190.04,301.42a1.35,1.35 0 1,0 -2.7,0a1.35,1.35 0 1,0 2.7,0M191.25,308.33a1.35,1.35 0 1,0 -2.7,0a1.35,1.35 0 1,0 2.7,0M192.67,308.90a1.35,1.35 0 1,0 -2.7,0a1.35,1.35 0 1,0 2.7,0M194.19,305.03a1.35,1.35 0 1,0 -2.7,0a1.35,1.35 0 1,0 2.7,0M195.24,305.45a1.35,1.35 0 1,0 -2.7,0a1.35,1.35 0 1,0 2.7,0M196.46,307.60a1.35,1.35 0 1,0 -2.7,0a1.35,1.35 0 1,0 2.7,0M197.64,303.49a1.35,1.35 0 1,0 -2.7,0a1.35,1.35 0 1,0 2.7,0M198.72,307.33a1.35,1.35 0 1,0 -2.7,0a1.35,1.35 0 1,0 2.7,0M200.19,306.55a1.35,1.35 0 1,0 -2.7,0a1.35,1.35 0 1,0 2.7,0M201.21,303.95a1.35,1.35 0 1,0 -2.7,0a1.35,1.35 0 1,0 2.7,0M202.27,301.81a1.35,1.35 0 1,0 -2.7,0a1.35,1.35 0 1,0 2.7,0M203.14,305.14a1.35,1.35 0 1,0 -2.7,0a1.35,1.35 0 1,0 2.7,0M204.68,303.17a1.35,1.35 0 1,0 -2.7,0a1.35,1.35 0 1,0 2.7,0M205.66,308.56a1.35,1.35 0 1,0 -2.7,0a1.35,1.35 0 1,0 2.7,0M206.81,306.01a1.35,1.35 0 1,0 -2.7,0a1.35,1.35 0 1,0 2.7,0M208.31,307.77a1.35,1.35 0 1,0 -2.7,0a1.35,1.35 0 1,0 2.7,0M209.75,305.81a1.35,1.35 0 1,0 -2.7,0a1.35,1.35 0 1,0 2.7,0M210.56,306.14a1.35,1.35 0 1,0 -2.7,0a1.35,1.35 0 1,0 2.7,0M212.15,303.02a1.35,1.35 0 1,0 -2.7,0a1.35,1.35 0 1,0 2.7,0M213.16,307.17a1.35,1.35 0 1,0 -2.7,0a1.35,1.35 0 1,0 2.7,0M214.07,310.36a1.35,1.35 0 1,0 -2.7,0a1.35,1.35 0 1,0 2.7,0" fill="none" stroke="#8c8c8c" stroke-width="0.5" clip-path="url(#cdu)"/>
<path d="M34.16,307.43a1.35,1.35 0 1,0 -2.7,0a1.35,1.35 0 1,0 2.7,0M35.40,313.54a1.35,1.35 0 1,0 -2.7,0a1.35,1.35 0 1,0 2.7,0M37.02,308.48a1.35,1.35 0 1,0 -2.7,0a1.35,1.35 0 1,0 2.7,0M37.65,311.71a1.35,1.35 0 1,0 -2.7,0a1.35,1.35 0 1,0 2.7,0M39.26,305.49a1.35,1.35 0 1,0 -2.7,0a1.35,1.35 0 1,0 2.7,0M40.57,309.68a1.35,1.35 0 1,0 -2.7,0a1.35,1.35 0 1,0 2.7,0M41.35,306.41a1.35,1.35 0 1,0 -2.7,0a1.35,1.35 0 1,0 2.7,0M42.45,307.21a1.35,1.35 0 1,0 -2.7,0a1.35,1.35 0 1,0 2.7,0M43.83,308.24a1.35,1.35 0 1,0 -2.7,0a1.35,1.35 0 1,0 2.7,0M45.35,307.20a1.35,1.35 0 1,0 -2.7,0a1.35,1.35 0 1,0 2.7,0M46.48,308.43a1.35,1.35 0 1,0 -2.7,0a1.35,1.35 0 1,0 2.7,0M47.36,309.47a1.35,1.35 0 1,0 -2.7,0a1.35,1.35 0 1,0 2.7,0M48.79,309.04a1.35,1.35 0 1,0 -2.7,0a1.35,1.35 0 1,0 2.7,0M50.19,307.06a1.35,1.35 0 1,0 -2.7,0a1.35,1.35 0 1,0 2.7,0M51.20,303.85a1.35,1.35 0 1,0 -2.7,0a1.35,1.35 0 1,0 2.7,0M52.58,305.00a1.35,1.35 0 1,0 -2.7,0a1.35,1.35 0 1,0 2.7,0M54.05,306.25a1.35,1.35 0 1,0 -2.7,0a1.35,1.35 0 1,0 2.7,0M55.03,301.49a1.35,1.35 0 1,0 -2.7,0a1.35,1.35 0 1,0 2.7,0M56.01,308.25a1.35,1.35 0 1,0 -2.7,0a1.35,1.35 0 1,0 2.7,0M57.05,305.72a1.35,1.35 0 1,0 -2.7,0a1.35,1.35 0 1,0 2.7,0M58.39,305.51a1.35,1.35 0 1,0 -2.7,0a1.35,1.35 0 1,0 2.7,0M59.73,308.19a1.35,1.35 0 1,0 -2.7,0a1.35,1.35 0 1,0 2.7,0M61.24,307.30a1.35,1.35 0 1,0 -2.7,0a1.35,1.35 0 1,0 2.7,0M62.36,306.07a1.35,1.35 0 1,0 -2.7,0a1.35,1.35 0 1,0 2.7,0M63.20,303.01a1.35,1.35 0 1,0 -2.7,0a1.35,1.35 0 1,0 2.7,0M64.89,305.90a1.35,1.35 0 1,0 -2.7,0a1.35,1.35 0 1,0 2.7,0M65.74,305.86a1.35,1.35 0 1,0 -2.7,0a1.35,1.35 0 1,0 2.7,0M67.12,302.69a1.35,1.35 0 1,0 -2.7,0a1.35,1.35 0 1,0 2.7,0M67.86,307.19a1.35,1.35 0 1,0 -2.7,0a1.35,1.35 0 1,0 2.7,0M69.07,305.71a1.35,1.35 0 1,0 -2.7,0a1.35,1.35 0 1,0 2.7,0M70.35,299.54a1.35,1.35 0 1,0 -2.7,0a1.35,1.35 0 1,0 2.7,0M72.11,304.24a1.35,1.35 0 1,0 -2.7,0a1.35,1.35 0 1,0 2.7,0M73.15,300.71a1.35,1.35 0 1,0 -2.7,0a1.35,1.35 0 1,0 2.7,0M74.50,306.20a1.35,1.35 0 1,0 -2.7,0a1.35,1.35 0 1,0 2.7,0M75.54,305.18a1.35,1.35 0 1,0 -2.7,0a1.35,1.35 0 1,0 2.7,0M76.56,300.36a1.35,1.35 0 1,0 -2.7,0a1.35,1.35 0 1,0 2.7,0M77.85,300.57a1.35,1.35 0 1,0 -2.7,0a1.35,1.35 0 1,0 2.7,0M79.12,302.60a1.35,1.35 0 1,0 -2.7,0a1.35,1.35 0 1,0 2.7,0M80.55,301.37a1.35,1.35 0 1,0 -2.7,0a1.35,1.35 0 1,0 2.7,0M81.41,305.34a1.35,1.35 0 1,0 -2.7,0a1.35,1.35 0 1,0 2.7,0M82.99,302.93a1.35,1.35 0 1,0 -2.7,0a1.35,1.35 0 1,0 2.7,0M83.97,300.12a1.35,1.35 0 1,0 -2.7,0a1.35,1.35 0 1,0 2.7,0M85.35,301.65a1.35,1.35 0 1,0 -2.7,0a1.35,1.35 0 1,0 2.7,0M86.29,295.00a1.35,1.35 0 1,0 -2.7,0a1.35,1.35 0 1,0 2.7,0M87.66,300.02a1.35,1.35 0 1,0 -2.7,0a1.35,1.35 0 1,0 2.7,0M88.58,300.92a1.35,1.35 0 1,0 -2.7,0a1.35,1.35 0 1,0 2.7,0M89.94,297.73a1.35,1.35 0 1,0 -2.7,0a1.35,1.35 0 1,0 2.7,0M90.90,295.94a1.35,1.35 0 1,0 -2.7,0a1.35,1.35 0 1,0 2.7,0M92.02,298.38a1.35,1.35 0 1,0 -2.7,0a1.35,1.35 0 1,0 2.7,0M93.18,301.04a1.35,1.35 0 1,0 -2.7,0a1.35,1.35 0 1,0 2.7,0M94.91,295.75a1.35,1.35 0 1,0 -2.7,0a1.35,1.35 0 1,0 2.7,0M95.93,291.91a1.35,1.35 0 1,0 -2.7,0a1.35,1.35 0 1,0 2.7,0M97.49,297.01a1.35,1.35 0 1,0 -2.7,0a1.35,1.35 0 1,0 2.7,0M98.64,288.23a1.35,1.35 0 1,0 -2.7,0a1.35,1.35 0 1,0 2.7,0M99.49,293.34a1.35,1.35 0 1,0 -2.7,0a1.35,1.35 0 1,0 2.7,0M101.17,289.54a1.35,1.35 0 1,0 -2.7,0a1.35,1.35 0 1,0 2.7,0M102.07,292.52a1.35,1.35 0 1,0 -2.7,0a1.35,1.35 0 1,0 2.7,0M103.42,287.28a1.35,1.35 0 1,0 -2.7,0a1.35,1.35 0 1,0 2.7,0M104.34,291.85a1.35,1.35 0 1,0 -2.7,0a1.35,1.35 0 1,0 2.7,0M105.38,288.67a1.35,1.35 0 1,0 -2.7,0a1.35,1.35 0 1,0 2.7,0M106.57,283.01a1.35,1.35 0 1,0 -2.7,0a1.35,1.35 0 1,0 2.7,0M107.79,281.64a1.35,1.35 0 1,0 -2.7,0a1.35,1.35 0 1,0 2.7,0M109.33,284.69a1.35,1.35 0 1,0 -2.7,0a1.35,1.35 0 1,0 2.7,0M110.15,288.10a1.35,1.35 0 1,0 -2.7,0a1.35,1.35 0 1,0 2.7,0M111.28,284.72a1.35,1.35 0 1,0 -2.7,0a1.35,1.35 0 1,0 2.7,0M113.14,283.74a1.35,1.35 0 1,0 -2.7,0a1.35,1.35 0 1,0 2.7,0M113.76,282.78a1.35,1.35 0 1,0 -2.7,0a1.35,1.35 0 1,0 2.7,0M115.25,284.63a1.35,1.35 0 1,0 -2.7,0a1.35,1.35 0 1,0 2.7,0M116.49,283.46a1.35,1.35 0 1,0 -2.7,0a1.35,1.35 0 1,0 2.7,0M117.80,283.00a1.35,1.35 0 1,0 -2.7,0a1.35,1.35 0 1,0 2.7,0M118.92,279.86a1.35,1.35 0 1,0 -2.7,0a1.35,1.35 0 1,0 2.7,0M120.47,285.04a1.35,1.35 0 1,0 -2.7,0a1.35,1.35 0 1,0 2.7,0M121.53,285.52a1.35,1.35 0 1,0 -2.7,0a1.35,1.35 0 1,0 2.7,0M122.60,279.25a1.35,1.35 0 1,0 -2.7,0a1.35,1.35 0 1,0 2.7,0M123.84,288.13a1.35,1.35 0 1,0 -2.7,0a1.35,1.35 0 1,0 2.7,0M124.96,284.60a1.35,1.35 0 1,0 -2.7,0a1.35,1.35 0 1,0 2.7,0M126.53,282.17a1.35,1.35 0 1,0 -2.7,0a1.35,1.35 0 1,0 2.7,0M127.15,278.99a1.35,1.35 0 1,0 -2.7,0a1.35,1.35 0 1,0 2.7,0M128.73,285.74a1.35,1.35 0 1,0 -2.7,0a1.35,1.35 0 1,0 2.7,0M129.83,285.97a1.35,1.35 0 1,0 -2.7,0a1.35,1.35 0 1,0 2.7,0M130.63,283.57a1.35,1.35 0 1,0 -2.7,0a1.35,1.35 0 1,0 2.7,0M132.04,281.36a1.35,1.35 0 1,0 -2.7,0a1.35,1.35 0 1,0 2.7,0M133.75,289.20a1.35,1.35 0 1,0 -2.7,0a1.35,1.35 0 1,0 2.7,0M134.85,285.64a1.35,1.35 0 1,0 -2.7,0a1.35,1.35 0 1,0 2.7,0M135.44,286.21a1.35,1.35 0 1,0 -2.7,0a1.35,1.35 0 1,0 2.7,0M136.87,294.89a1.35,1.35 0 1,0 -2.7,0a1.35,1.35 0 1,0 2.7,0M137.85,293.64a1.35,1.35 0 1,0 -2.7,0a1.35,1.35 0 1,0 2.7,0M139.71,291.70a1.35,1.35 0 1,0 -2.7,0a1.35,1.35 0 1,0 2.7,0M140.35,288.60a1.35,1.35 0 1,0 -2.7,0a1.35,1.35 0 1,0 2.7,0M141.51,291.76a1.35,1.35 0 1,0 -2.7,0a1.35,1.35 0 1,0 2.7,0M143.46,285.51a1.35,1.35 0 1,0 -2.7,0a1.35,1.35 0 1,0 2.7,0M144.24,291.52a1.35,1.35 0 1,0 -2.7,0a1.35,1.35 0 1,0 2.7,0M145.35,289.82a1.35,1.35 0 1,0 -2.7,0a1.35,1.35 0 1,0 2.7,0M146.34,288.88a1.35,1.35 0 1,0 -2.7,0a1.35,1.35 0 1,0 2.7,0M147.82,288.59a1.35,1.35 0 1,0 -2.7,0a1.35,1.35 0 1,0 2.7,0M149.01,293.94a1.35,1.35 0 1,0 -2.7,0a1.35,1.35 0 1,0 2.7,0M150.34,293.19a1.35,1.35 0 1,0 -2.7,0a1.35,1.35 0 1,0 2.7,0M151.14,293.51a1.35,1.35 0 1,0 -2.7,0a1.35,1.35 0 1,0 2.7,0M152.46,295.36a1.35,1.35 0 1,0 -2.7,0a1.35,1.35 0 1,0 2.7,0M153.72,291.48a1.35,1.35 0 1,0 -2.7,0a1.35,1.35 0 1,0 2.7,0M155.11,290.70a1.35,1.35 0 1,0 -2.7,0a1.35,1.35 0 1,0 2.7,0M156.21,289.49a1.35,1.35 0 1,0 -2.7,0a1.35,1.35 0 1,0 2.7,0M157.66,293.04a1.35,1.35 0 1,0 -2.7,0a1.35,1.35 0 1,0 2.7,0M158.61,295.71a1.35,1.35 0 1,0 -2.7,0a1.35,1.35 0 1,0 2.7,0M160.32,293.57a1.35,1.35 0 1,0 -2.7,0a1.35,1.35 0 1,0 2.7,0M161.57,295.47a1.35,1.35 0 1,0 -2.7,0a1.35,1.35 0 1,0 2.7,0M162.05,291.09a1.35,1.35 0 1,0 -2.7,0a1.35,1.35 0 1,0 2.7,0M163.38,292.78a1.35,1.35 0 1,0 -2.7,0a1.35,1.35 0 1,0 2.7,0M164.87,292.03a1.35,1.35 0 1,0 -2.7,0a1.35,1.35 0 1,0 2.7,0M166.24,290.82a1.35,1.35 0 1,0 -2.7,0a1.35,1.35 0 1,0 2.7,0M166.89,298.25a1.35,1.35 0 1,0 -2.7,0a1.35,1.35 0 1,0 2.7,0M168.19,295.76a1.35,1.35 0 1,0 -2.7,0a1.35,1.35 0 1,0 2.7,0M169.62,291.81a1.35,1.35 0 1,0 -2.7,0a1.35,1.35 0 1,0 2.7,0M171.00,291.71a1.35,1.35 0 1,0 -2.7,0a1.35,1.35 0 1,0 2.7,0M172.39,293.32a1.35,1.35 0 1,0 -2.7,0a1.35,1.35 0 1,0 2.7,0M173.57,289.92a1.35,1.35 0 1,0 -2.7,0a1.35,1.35 0 1,0 2.7,0M174.72,294.34a1.35,1.35 0 1,0 -2.7,0a1.35,1.35 0 1,0 2.7,0M175.33,290.15a1.35,1.35 0 1,0 -2.7,0a1.35,1.35 0 1,0 2.7,0M177.28,292.22a1.35,1.35 0 1,0 -2.7,0a1.35,1.35 0 1,0 2.7,0M178.20,290.58a1.35,1.35 0 1,0 -2.7,0a1.35,1.35 0 1,0 2.7,0M178.99,291.83a1.35,1.35 0 1,0 -2.7,0a1.35,1.35 0 1,0 2.7,0M180.33,289.68a1.35,1.35 0 1,0 -2.7,0a1.35,1.35 0 1,0 2.7,0M181.83,288.98a1.35,1.35 0 1,0 -2.7,0a1.35,1.35 0 1,0 2.7,0M182.85,290.36a1.35,1.35 0 1,0 -2.7,0a1.35,1.35 0 1,0 2.7,0M184.11,290.95a1.35,1.35 0 1,0 -2.7,0a1.35,1.35 0 1,0 2.7,0M185.60,291.76a1.35,1.35 0 1,0 -2.7,0a1.35,1.35 0 1,0 2.7,0M186.82,292.54a1.35,1.35 0 1,0 -2.7,0a1.35,1.35 0 1,0 2.7,0M187.81,295.96a1.35,1.35 0 1,0 -2.7,0a1.35,1.35 0 1,0 2.7,0M189.21,294.14a1.35,1.35 0 1,0 -2.7,0a1.35,1.35 0 1,0 2.7,0M190.11,291.52a1.35,1.35 0 1,0 -2.7,0a1.35,1.35 0 1,0 2.7,0M191.78,293.74a1.35,1.35 0 1,0 -2.7,0a1.35,1.35 0 1,0 2.7,0M192.69,290.28a1.35,1.35 0 1,0 -2.7,0a1.35,1.35 0 1,0 2.7,0M194.19,295.30a1.35,1.35 0 1,0 -2.7,0a1.35,1.35 0 1,0 2.7,0M194.66,293.11a1.35,1.35 0 1,0 -2.7,0a1.35,1.35 0 1,0 2.7,0M196.54,288.40a1.35,1.35 0 1,0 -2.7,0a1.35,1.35 0 1,0 2.7,0M197.48,293.40a1.35,1.35 0 1,0 -2.7,0a1.35,1.35 0 1,0 2.7,0M198.82,293.45a1.35,1.35 0 1,0 -2.7,0a1.35,1.35 0 1,0 2.7,0M199.61,284.98a1.35,1.35 0 1,0 -2.7,0a1.35,1.35 0 1,0 2.7,0M201.10,289.53a1.35,1.35 0 1,0 -2.7,0a1.35,1.35 0 1,0 2.7,0M202.10,290.12a1.35,1.35 0 1,0 -2.7,0a1.35,1.35 0 1,0 2.7,0M203.16,286.55a1.35,1.35 0 1,0 -2.7,0a1.35,1.35 0 1,0 2.7,0M204.29,288.54a1.35,1.35 0 1,0 -2.7,0a1.35,1.35 0 1,0 2.7,0M206.22,288.69a1.35,1.35 0 1,0 -2.7,0a1.35,1.35 0 1,0 2.7,0M207.24,292.12a1.35,1.35 0 1,0 -2.7,0a1.35,1.35 0 1,0 2.7,0M208.07,291.57a1.35,1.35 0 1,0 -2.7,0a1.35,1.35 0 1,0 2.7,0M209.32,297.06a1.35,1.35 0 1,0 -2.7,0a1.35,1.35 0 1,0 2.7,0M210.70,289.72a1.35,1.35 0 1,0 -2.7,0a1.35,1.35 0 1,0 2.7,0M212.19,293.34a1.35,1.35 0 1,0 -2.7,0a1.35,1.35 0 1,0 2.7,0M212.84,290.72a1.35,1.35 0 1,0 -2.7,0a1.35,1.35 0 1,0 2.7,0M214.72,291.06a1.35,1.35 0 1,0 -2.7,0a1.35,1.35 0 1,0 2.7,0" fill="none" stroke="#ff8a8a" stroke-width="0.5" clip-path="url(#cdu)"/>
<path d="M34.02,308.15a1.35,1.35 0 1,0 -2.7,0a1.35,1.35 0 1,0 2.7,0M35.35,308.68a1.35,1.35 0 1,0 -2.7,0a1.35,1.35 0 1,0 2.7,0M37.01,306.36a1.35,1.35 0 1,0 -2.7,0a1.35,1.35 0 1,0 2.7,0M38.04,306.94a1.35,1.35 0 1,0 -2.7,0a1.35,1.35 0 1,0 2.7,0M38.86,306.27a1.35,1.35 0 1,0 -2.7,0a1.35,1.35 0 1,0 2.7,0M40.34,306.05a1.35,1.35 0 1,0 -2.7,0a1.35,1.35 0 1,0 2.7,0M41.58,301.83a1.35,1.35 0 1,0 -2.7,0a1.35,1.35 0 1,0 2.7,0M42.53,304.22a1.35,1.35 0 1,0 -2.7,0a1.35,1.35 0 1,0 2.7,0M44.20,305.28a1.35,1.35 0 1,0 -2.7,0a1.35,1.35 0 1,0 2.7,0M44.91,303.01a1.35,1.35 0 1,0 -2.7,0a1.35,1.35 0 1,0 2.7,0M46.34,303.48a1.35,1.35 0 1,0 -2.7,0a1.35,1.35 0 1,0 2.7,0M47.65,302.42a1.35,1.35 0 1,0 -2.7,0a1.35,1.35 0 1,0 2.7,0M48.79,303.39a1.35,1.35 0 1,0 -2.7,0a1.35,1.35 0 1,0 2.7,0M50.12,305.99a1.35,1.35 0 1,0 -2.7,0a1.35,1.35 0 1,0 2.7,0M51.45,302.73a1.35,1.35 0 1,0 -2.7,0a1.35,1.35 0 1,0 2.7,0M52.84,303.09a1.35,1.35 0 1,0 -2.7,0a1.35,1.35 0 1,0 2.7,0M53.51,305.30a1.35,1.35 0 1,0 -2.7,0a1.35,1.35 0 1,0 2.7,0M55.01,304.62a1.35,1.35 0 1,0 -2.7,0a1.35,1.35 0 1,0 2.7,0M56.25,306.92a1.35,1.35 0 1,0 -2.7,0a1.35,1.35 0 1,0 2.7,0M57.14,297.68a1.35,1.35 0 1,0 -2.7,0a1.35,1.35 0 1,0 2.7,0M58.11,304.58a1.35,1.35 0 1,0 -2.7,0a1.35,1.35 0 1,0 2.7,0M60.10,301.01a1.35,1.35 0 1,0 -2.7,0a1.35,1.35 0 1,0 2.7,0M60.77,302.37a1.35,1.35 0 1,0 -2.7,0a1.35,1.35 0 1,0 2.7,0M61.99,303.84a1.35,1.35 0 1,0 -2.7,0a1.35,1.35 0 1,0 2.7,0M63.66,304.12a1.35,1.35 0 1,0 -2.7,0a1.35,1.35 0 1,0 2.7,0M64.62,303.83a1.35,1.35 0 1,0 -2.7,0a1.35,1.35 0 1,0 2.7,0M65.74,301.50a1.35,1.35 0 1,0 -2.7,0a1.35,1.35 0 1,0 2.7,0M67.19,304.71a1.35,1.35 0 1,0 -2.7,0a1.35,1.35 0 1,0 2.7,0M67.80,300.04a1.35,1.35 0 1,0 -2.7,0a1.35,1.35 0 1,0 2.7,0M69.55,300.02a1.35,1.35 0 1,0 -2.7,0a1.35,1.35 0 1,0 2.7,0M70.49,302.07a1.35,1.35 0 1,0 -2.7,0a1.35,1.35 0 1,0 2.7,0M71.47,298.61a1.35,1.35 0 1,0 -2.7,0a1.35,1.35 0 1,0 2.7,0M73.14,304.72a1.35,1.35 0 1,0 -2.7,0a1.35,1.35 0 1,0 2.7,0M74.56,301.61a1.35,1.35 0 1,0 -2.7,0a1.35,1.35 0 1,0 2.7,0M75.19,304.21a1.35,1.35 0 1,0 -2.7,0a1.35,1.35 0 1,0 2.7,0M76.74,298.47a1.35,1.35 0 1,0 -2.7,0a1.35,1.35 0 1,0 2.7,0M77.68,297.31a1.35,1.35 0 1,0 -2.7,0a1.35,1.35 0 1,0 2.7,0M79.24,298.07a1.35,1.35 0 1,0 -2.7,0a1.35,1.35 0 1,0 2.7,0M80.43,298.96a1.35,1.35 0 1,0 -2.7,0a1.35,1.35 0 1,0 2.7,0M81.24,295.45a1.35,1.35 0 1,0 -2.7,0a1.35,1.35 0 1,0 2.7,0M82.94,296.97a1.35,1.35 0 1,0 -2.7,0a1.35,1.35 0 1,0 2.7,0M84.01,295.45a1.35,1.35 0 1,0 -2.7,0a1.35,1.35 0 1,0 2.7,0M85.23,298.66a1.35,1.35 0 1,0 -2.7,0a1.35,1.35 0 1,0 2.7,0M86.55,292.35a1.35,1.35 0 1,0 -2.7,0a1.35,1.35 0 1,0 2.7,0M87.45,295.83a1.35,1.35 0 1,0 -2.7,0a1.35,1.35 0 1,0 2.7,0M88.92,290.64a1.35,1.35 0 1,0 -2.7,0a1.35,1.35 0 1,0 2.7,0M90.22,288.78a1.35,1.35 0 1,0 -2.7,0a1.35,1.35 0 1,0 2.7,0M90.81,288.85a1.35,1.35 0 1,0 -2.7,0a1.35,1.35 0 1,0 2.7,0M92.62,285.92a1.35,1.35 0 1,0 -2.7,0a1.35,1.35 0 1,0 2.7,0M93.46,288.23a1.35,1.35 0 1,0 -2.7,0a1.35,1.35 0 1,0 2.7,0M94.74,288.90a1.35,1.35 0 1,0 -2.7,0a1.35,1.35 0 1,0 2.7,0M95.68,285.68a1.35,1.35 0 1,0 -2.7,0a1.35,1.35 0 1,0 2.7,0M97.33,284.66a1.35,1.35 0 1,0 -2.7,0a1.35,1.35 0 1,0 2.7,0M98.21,285.87a1.35,1.35 0 1,0 -2.7,0a1.35,1.35 0 1,0 2.7,0M99.88,280.21a1.35,1.35 0 1,0 -2.7,0a1.35,1.35 0 1,0 2.7,0M100.61,278.94a1.35,1.35 0 1,0 -2.7,0a1.35,1.35 0 1,0 2.7,0M102.05,275.61a1.35,1.35 0 1,0 -2.7,0a1.35,1.35 0 1,0 2.7,0M103.13,270.71a1.35,1.35 0 1,0 -2.7,0a1.35,1.35 0 1,0 2.7,0M104.51,274.19a1.35,1.35 0 1,0 -2.7,0a1.35,1.35 0 1,0 2.7,0M105.38,266.75a1.35,1.35 0 1,0 -2.7,0a1.35,1.35 0 1,0 2.7,0M106.58,270.62a1.35,1.35 0 1,0 -2.7,0a1.35,1.35 0 1,0 2.7,0M108.24,266.42a1.35,1.35 0 1,0 -2.7,0a1.35,1.35 0 1,0 2.7,0M109.45,267.33a1.35,1.35 0 1,0 -2.7,0a1.35,1.35 0 1,0 2.7,0M110.51,262.95a1.35,1.35 0 1,0 -2.7,0a1.35,1.35 0 1,0 2.7,0M112.00,259.15a1.35,1.35 0 1,0 -2.7,0a1.35,1.35 0 1,0 2.7,0M112.64,261.20a1.35,1.35 0 1,0 -2.7,0a1.35,1.35 0 1,0 2.7,0M114.36,257.13a1.35,1.35 0 1,0 -2.7,0a1.35,1.35 0 1,0 2.7,0M115.02,257.42a1.35,1.35 0 1,0 -2.7,0a1.35,1.35 0 1,0 2.7,0M116.87,256.58a1.35,1.35 0 1,0 -2.7,0a1.35,1.35 0 1,0 2.7,0M117.80,255.66a1.35,1.35 0 1,0 -2.7,0a1.35,1.35 0 1,0 2.7,0M119.00,255.12a1.35,1.35 0 1,0 -2.7,0a1.35,1.35 0 1,0 2.7,0M120.50,253.41a1.35,1.35 0 1,0 -2.7,0a1.35,1.35 0 1,0 2.7,0M121.56,255.08a1.35,1.35 0 1,0 -2.7,0a1.35,1.35 0 1,0 2.7,0M122.77,250.77a1.35,1.35 0 1,0 -2.7,0a1.35,1.35 0 1,0 2.7,0M123.39,255.81a1.35,1.35 0 1,0 -2.7,0a1.35,1.35 0 1,0 2.7,0M124.85,254.23a1.35,1.35 0 1,0 -2.7,0a1.35,1.35 0 1,0 2.7,0M125.83,260.58a1.35,1.35 0 1,0 -2.7,0a1.35,1.35 0 1,0 2.7,0M127.12,262.16a1.35,1.35 0 1,0 -2.7,0a1.35,1.35 0 1,0 2.7,0M128.35,255.77a1.35,1.35 0 1,0 -2.7,0a1.35,1.35 0 1,0 2.7,0M130.07,262.90a1.35,1.35 0 1,0 -2.7,0a1.35,1.35 0 1,0 2.7,0M130.70,263.05a1.35,1.35 0 1,0 -2.7,0a1.35,1.35 0 1,0 2.7,0M132.04,262.65a1.35,1.35 0 1,0 -2.7,0a1.35,1.35 0 1,0 2.7,0M133.40,268.31a1.35,1.35 0 1,0 -2.7,0a1.35,1.35 0 1,0 2.7,0M134.90,268.00a1.35,1.35 0 1,0 -2.7,0a1.35,1.35 0 1,0 2.7,0M136.20,266.64a1.35,1.35 0 1,0 -2.7,0a1.35,1.35 0 1,0 2.7,0M137.20,271.58a1.35,1.35 0 1,0 -2.7,0a1.35,1.35 0 1,0 2.7,0M138.01,272.92a1.35,1.35 0 1,0 -2.7,0a1.35,1.35 0 1,0 2.7,0M139.49,275.35a1.35,1.35 0 1,0 -2.7,0a1.35,1.35 0 1,0 2.7,0M140.82,273.69a1.35,1.35 0 1,0 -2.7,0a1.35,1.35 0 1,0 2.7,0M141.51,278.87a1.35,1.35 0 1,0 -2.7,0a1.35,1.35 0 1,0 2.7,0M143.22,280.89a1.35,1.35 0 1,0 -2.7,0a1.35,1.35 0 1,0 2.7,0M144.18,277.25a1.35,1.35 0 1,0 -2.7,0a1.35,1.35 0 1,0 2.7,0M145.56,279.57a1.35,1.35 0 1,0 -2.7,0a1.35,1.35 0 1,0 2.7,0M146.83,281.90a1.35,1.35 0 1,0 -2.7,0a1.35,1.35 0 1,0 2.7,0M148.04,281.53a1.35,1.35 0 1,0 -2.7,0a1.35,1.35 0 1,0 2.7,0M149.13,287.70a1.35,1.35 0 1,0 -2.7,0a1.35,1.35 0 1,0 2.7,0M150.37,284.64a1.35,1.35 0 1,0 -2.7,0a1.35,1.35 0 1,0 2.7,0M151.29,282.12a1.35,1.35 0 1,0 -2.7,0a1.35,1.35 0 1,0 2.7,0M152.74,283.19a1.35,1.35 0 1,0 -2.7,0a1.35,1.35 0 1,0 2.7,0M153.65,285.23a1.35,1.35 0 1,0 -2.7,0a1.35,1.35 0 1,0 2.7,0M155.14,291.26a1.35,1.35 0 1,0 -2.7,0a1.35,1.35 0 1,0 2.7,0M156.39,285.57a1.35,1.35 0 1,0 -2.7,0a1.35,1.35 0 1,0 2.7,0M157.79,286.51a1.35,1.35 0 1,0 -2.7,0a1.35,1.35 0 1,0 2.7,0M158.69,287.54a1.35,1.35 0 1,0 -2.7,0a1.35,1.35 0 1,0 2.7,0M159.60,286.29a1.35,1.35 0 1,0 -2.7,0a1.35,1.35 0 1,0 2.7,0M161.22,291.94a1.35,1.35 0 1,0 -2.7,0a1.35,1.35 0 1,0 2.7,0M162.17,285.21a1.35,1.35 0 1,0 -2.7,0a1.35,1.35 0 1,0 2.7,0M163.80,288.27a1.35,1.35 0 1,0 -2.7,0a1.35,1.35 0 1,0 2.7,0M164.73,286.84a1.35,1.35 0 1,0 -2.7,0a1.35,1.35 0 1,0 2.7,0M165.93,287.90a1.35,1.35 0 1,0 -2.7,0a1.35,1.35 0 1,0 2.7,0M167.56,283.50a1.35,1.35 0 1,0 -2.7,0a1.35,1.35 0 1,0 2.7,0M168.36,290.51a1.35,1.35 0 1,0 -2.7,0a1.35,1.35 0 1,0 2.7,0M169.53,285.89a1.35,1.35 0 1,0 -2.7,0a1.35,1.35 0 1,0 2.7,0M170.74,286.16a1.35,1.35 0 1,0 -2.7,0a1.35,1.35 0 1,0 2.7,0M172.05,283.72a1.35,1.35 0 1,0 -2.7,0a1.35,1.35 0 1,0 2.7,0M172.95,284.13a1.35,1.35 0 1,0 -2.7,0a1.35,1.35 0 1,0 2.7,0M174.52,287.08a1.35,1.35 0 1,0 -2.7,0a1.35,1.35 0 1,0 2.7,0M176.03,287.94a1.35,1.35 0 1,0 -2.7,0a1.35,1.35 0 1,0 2.7,0M176.95,287.29a1.35,1.35 0 1,0 -2.7,0a1.35,1.35 0 1,0 2.7,0M178.30,288.24a1.35,1.35 0 1,0 -2.7,0a1.35,1.35 0 1,0 2.7,0M179.67,286.91a1.35,1.35 0 1,0 -2.7,0a1.35,1.35 0 1,0 2.7,0M180.80,285.14a1.35,1.35 0 1,0 -2.7,0a1.35,1.35 0 1,0 2.7,0M181.93,286.96a1.35,1.35 0 1,0 -2.7,0a1.35,1.35 0 1,0 2.7,0M183.19,286.24a1.35,1.35 0 1,0 -2.7,0a1.35,1.35 0 1,0 2.7,0M184.40,284.45a1.35,1.35 0 1,0 -2.7,0a1.35,1.35 0 1,0 2.7,0M185.16,286.35a1.35,1.35 0 1,0 -2.7,0a1.35,1.35 0 1,0 2.7,0M186.55,287.54a1.35,1.35 0 1,0 -2.7,0a1.35,1.35 0 1,0 2.7,0M187.65,284.90a1.35,1.35 0 1,0 -2.7,0a1.35,1.35 0 1,0 2.7,0M188.79,283.37a1.35,1.35 0 1,0 -2.7,0a1.35,1.35 0 1,0 2.7,0M190.25,285.79a1.35,1.35 0 1,0 -2.7,0a1.35,1.35 0 1,0 2.7,0M191.25,288.52a1.35,1.35 0 1,0 -2.7,0a1.35,1.35 0 1,0 2.7,0M192.70,283.30a1.35,1.35 0 1,0 -2.7,0a1.35,1.35 0 1,0 2.7,0M193.88,283.47a1.35,1.35 0 1,0 -2.7,0a1.35,1.35 0 1,0 2.7,0M194.70,283.28a1.35,1.35 0 1,0 -2.7,0a1.35,1.35 0 1,0 2.7,0M196.18,286.39a1.35,1.35 0 1,0 -2.7,0a1.35,1.35 0 1,0 2.7,0M197.35,278.92a1.35,1.35 0 1,0 -2.7,0a1.35,1.35 0 1,0 2.7,0M198.81,284.06a1.35,1.35 0 1,0 -2.7,0a1.35,1.35 0 1,0 2.7,0M199.52,285.97a1.35,1.35 0 1,0 -2.7,0a1.35,1.35 0 1,0 2.7,0M200.80,281.03a1.35,1.35 0 1,0 -2.7,0a1.35,1.35 0 1,0 2.7,0M202.28,286.41a1.35,1.35 0 1,0 -2.7,0a1.35,1.35 0 1,0 2.7,0M203.40,284.01a1.35,1.35 0 1,0 -2.7,0a1.35,1.35 0 1,0 2.7,0M204.82,281.27a1.35,1.35 0 1,0 -2.7,0a1.35,1.35 0 1,0 2.7,0M205.76,282.99a1.35,1.35 0 1,0 -2.7,0a1.35,1.35 0 1,0 2.7,0M206.86,278.71a1.35,1.35 0 1,0 -2.7,0a1.35,1.35 0 1,0 2.7,0M208.66,280.86a1.35,1.35 0 1,0 -2.7,0a1.35,1.35 0 1,0 2.7,0M209.31,286.54a1.35,1.35 0 1,0 -2.7,0a1.35,1.35 0 1,0 2.7,0M210.44,279.90a1.35,1.35 0 1,0 -2.7,0a1.35,1.35 0 1,0 2.7,0M211.76,286.35a1.35,1.35 0 1,0 -2.7,0a1.35,1.35 0 1,0 2.7,0M213.01,281.61a1.35,1.35 0 1,0 -2.7,0a1.35,1.35 0 1,0 2.7,0M214.13,284.09a1.35,1.35 0 1,0 -2.7,0a1.35,1.35 0 1,0 2.7,0" fill="none" stroke="#8a8aff" stroke-width="0.5" clip-path="url(#cdu)"/>
<path d="M32.20,320.07 L33.11,319.97 L34.02,319.87 L34.93,319.77 L35.84,319.67 L36.75,319.57 L37.66,319.47 L38.57,319.37 L39.48,319.28 L40.39,319.18 L41.30,319.08 L42.21,318.98 L43.11,318.88 L44.02,318.79 L44.93,318.69 L45.84,318.59 L46.75,318.50 L47.66,318.40 L48.57,318.31 L49.48,318.21 L50.39,318.11 L51.30,318.02 L52.21,317.92 L53.12,317.83 L54.03,317.74 L54.94,317.64 L55.85,317.55 L56.76,317.45 L57.67,317.36 L58.58,317.27 L59.49,317.17 L60.40,317.08 L61.31,316.99 L62.22,316.90 L63.12,316.81 L64.03,316.71 L64.94,316.62 L65.85,316.53 L66.76,316.44 L67.67,316.35 L68.58,316.26 L69.49,316.17 L70.40,316.08 L71.31,315.99 L72.22,315.90 L73.13,315.81 L74.04,315.72 L74.95,315.64 L75.86,315.55 L76.77,315.46 L77.68,315.37 L78.59,315.28 L79.50,315.20 L80.41,315.11 L81.32,315.02 L82.23,314.94 L83.13,314.85 L84.04,314.77 L84.95,314.68 L85.86,314.59 L86.77,314.51 L87.68,314.42 L88.59,314.34 L89.50,314.26 L90.41,314.17 L91.32,314.09 L92.23,314.00 L93.14,313.92 L94.05,313.84 L94.96,313.75 L95.87,313.67 L96.78,313.59 L97.69,313.51 L98.60,313.43 L99.51,313.34 L100.42,313.26 L101.33,313.18 L102.24,313.10 L103.14,313.02 L104.05,312.94 L104.96,312.86 L105.87,312.78 L106.78,312.70 L107.69,312.62 L108.60,312.54 L109.51,312.46 L110.42,312.38 L111.33,312.31 L112.24,312.23 L113.15,312.15 L114.06,312.07 L114.97,312.00 L115.88,311.92 L116.79,311.84 L117.70,311.77 L118.61,311.69 L119.52,311.61 L120.43,311.54 L121.34,311.46 L122.25,311.39 L123.15,311.31 L124.06,311.24 L124.97,311.16 L125.88,311.09 L126.79,311.02 L127.70,310.94 L128.61,310.87 L129.52,310.79 L130.43,310.72 L131.34,310.65 L132.25,310.58 L133.16,310.50 L134.07,310.43 L134.98,310.36 L135.89,310.29 L136.80,310.22 L137.71,310.15 L138.62,310.08 L139.53,310.01 L140.44,309.94 L141.35,309.87 L142.26,309.80 L143.16,309.73 L144.07,309.66 L144.98,309.59 L145.89,309.52 L146.80,309.45 L147.71,309.39 L148.62,309.32 L149.53,309.25 L150.44,309.18 L151.35,309.12 L152.26,309.05 L153.17,308.98 L154.08,308.92 L154.99,308.85 L155.90,308.78 L156.81,308.72 L157.72,308.65 L158.63,308.59 L159.54,308.52 L160.45,308.46 L161.36,308.40 L162.27,308.33 L163.17,308.27 L164.08,308.20 L164.99,308.14 L165.90,308.08 L166.81,308.02 L167.72,307.95 L168.63,307.89 L169.54,307.83 L170.45,307.77 L171.36,307.71 L172.27,307.64 L173.18,307.58 L174.09,307.52 L175.00,307.46 L175.91,307.40 L176.82,307.34 L177.73,307.28 L178.64,307.22 L179.55,307.16 L180.46,307.11 L181.37,307.05 L182.28,306.99 L183.18,306.93 L184.09,306.87 L185.00,306.82 L185.91,306.76 L186.82,306.70 L187.73,306.64 L188.64,306.59 L189.55,306.53 L190.46,306.48 L191.37,306.42 L192.28,306.36 L193.19,306.31 L194.10,306.25 L195.01,306.20 L195.92,306.14 L196.83,306.09 L197.74,306.04 L198.65,305.98 L199.56,305.93 L200.47,305.88 L201.38,305.82 L202.29,305.77 L203.19,305.72 L204.10,305.67 L205.01,305.61 L205.92,305.56 L206.83,305.51 L207.74,305.46 L208.65,305.41 L209.56,305.36 L210.47,305.31 L211.38,305.26 L212.29,305.21 L213.20,305.16" fill="none" stroke="#111" stroke-width="1.4" stroke-linejoin="round" />
<path d="M32.20,309.68 L33.11,309.55 L34.02,309.41 L34.93,309.28 L35.84,309.14 L36.75,309.01 L37.66,308.88 L38.57,308.75 L39.48,308.61 L40.39,308.48 L41.30,308.35 L42.21,308.22 L43.11,308.09 L44.02,307.96 L44.93,307.83 L45.84,307.70 L46.75,307.57 L47.66,307.44 L48.57,307.31 L49.48,307.18 L50.39,307.05 L51.30,306.92 L52.21,306.79 L53.12,306.66 L54.03,306.54 L54.94,306.41 L55.85,306.28 L56.76,306.15 L57.67,306.02 L58.58,305.89 L59.49,305.76 L60.40,305.63 L61.31,305.49 L62.22,305.36 L63.12,305.22 L64.03,305.08 L64.94,304.94 L65.85,304.80 L66.76,304.65 L67.67,304.50 L68.58,304.34 L69.49,304.18 L70.40,304.01 L71.31,303.84 L72.22,303.66 L73.13,303.47 L74.04,303.27 L74.95,303.07 L75.86,302.85 L76.77,302.62 L77.68,302.38 L78.59,302.12 L79.50,301.85 L80.41,301.57 L81.32,301.27 L82.23,300.95 L83.13,300.61 L84.04,300.25 L84.95,299.87 L85.86,299.48 L86.77,299.06 L87.68,298.62 L88.59,298.15 L89.50,297.67 L90.41,297.16 L91.32,296.64 L92.23,296.09 L93.14,295.53 L94.05,294.94 L94.96,294.34 L95.87,293.73 L96.78,293.10 L97.69,292.46 L98.60,291.81 L99.51,291.16 L100.42,290.51 L101.33,289.86 L102.24,289.21 L103.14,288.57 L104.05,287.94 L104.96,287.33 L105.87,286.73 L106.78,286.16 L107.69,285.62 L108.60,285.10 L109.51,284.62 L110.42,284.18 L111.33,283.77 L112.24,283.41 L113.15,283.09 L114.06,282.82 L114.97,282.59 L115.88,282.41 L116.79,282.29 L117.70,282.21 L118.61,282.18 L119.52,282.21 L120.43,282.27 L121.34,282.39 L122.25,282.55 L123.15,282.75 L124.06,283.00 L124.97,283.28 L125.88,283.59 L126.79,283.93 L127.70,284.30 L128.61,284.69 L129.52,285.11 L130.43,285.54 L131.34,285.98 L132.25,286.43 L133.16,286.88 L134.07,287.33 L134.98,287.79 L135.89,288.24 L136.80,288.68 L137.71,289.11 L138.62,289.53 L139.53,289.93 L140.44,290.32 L141.35,290.69 L142.26,291.04 L143.16,291.36 L144.07,291.67 L144.98,291.96 L145.89,292.23 L146.80,292.47 L147.71,292.69 L148.62,292.90 L149.53,293.08 L150.44,293.24 L151.35,293.38 L152.26,293.50 L153.17,293.61 L154.08,293.70 L154.99,293.77 L155.90,293.83 L156.81,293.87 L157.72,293.90 L158.63,293.92 L159.54,293.93 L160.45,293.93 L161.36,293.92 L162.27,293.90 L163.17,293.88 L164.08,293.85 L164.99,293.81 L165.90,293.77 L166.81,293.72 L167.72,293.67 L168.63,293.62 L169.54,293.56 L170.45,293.50 L171.36,293.44 L172.27,293.37 L173.18,293.31 L174.09,293.24 L175.00,293.18 L175.91,293.11 L176.82,293.04 L177.73,292.97 L178.64,292.90 L179.55,292.83 L180.46,292.76 L181.37,292.69 L182.28,292.62 L183.18,292.55 L184.09,292.48 L185.00,292.41 L185.91,292.34 L186.82,292.27 L187.73,292.20 L188.64,292.13 L189.55,292.07 L190.46,292.00 L191.37,291.93 L192.28,291.86 L193.19,291.80 L194.10,291.73 L195.01,291.66 L195.92,291.60 L196.83,291.53 L197.74,291.47 L198.65,291.40 L199.56,291.34 L200.47,291.27 L201.38,291.21 L202.29,291.15 L203.19,291.08 L204.10,291.02 L205.01,290.96 L205.92,290.90 L206.83,290.84 L207.74,290.78 L208.65,290.72 L209.56,290.66 L210.47,290.60 L211.38,290.54 L212.29,290.48 L213.20,290.42" fill="none" stroke="#ee1c1c" stroke-width="1.5" stroke-linejoin="round" />
<path d="M32.20,306.98 L33.11,306.81 L34.02,306.64 L34.93,306.47 L35.84,306.30 L36.75,306.13 L37.66,305.96 L38.57,305.80 L39.48,305.63 L40.39,305.46 L41.30,305.30 L42.21,305.13 L43.11,304.97 L44.02,304.80 L44.93,304.64 L45.84,304.47 L46.75,304.31 L47.66,304.15 L48.57,303.98 L49.48,303.82 L50.39,303.66 L51.30,303.50 L52.21,303.33 L53.12,303.17 L54.03,303.01 L54.94,302.85 L55.85,302.69 L56.76,302.52 L57.67,302.36 L58.58,302.20 L59.49,302.04 L60.40,301.87 L61.31,301.70 L62.22,301.54 L63.12,301.37 L64.03,301.20 L64.94,301.02 L65.85,300.84 L66.76,300.66 L67.67,300.47 L68.58,300.28 L69.49,300.08 L70.40,299.87 L71.31,299.65 L72.22,299.43 L73.13,299.19 L74.04,298.93 L74.95,298.67 L75.86,298.38 L76.77,298.08 L77.68,297.75 L78.59,297.40 L79.50,297.03 L80.41,296.63 L81.32,296.20 L82.23,295.73 L83.13,295.23 L84.04,294.69 L84.95,294.11 L85.86,293.49 L86.77,292.83 L87.68,292.12 L88.59,291.36 L89.50,290.55 L90.41,289.69 L91.32,288.79 L92.23,287.83 L93.14,286.82 L94.05,285.77 L94.96,284.67 L95.87,283.53 L96.78,282.34 L97.69,281.12 L98.60,279.87 L99.51,278.59 L100.42,277.30 L101.33,275.98 L102.24,274.67 L103.14,273.35 L104.05,272.05 L104.96,270.76 L105.87,269.51 L106.78,268.28 L107.69,267.11 L108.60,265.99 L109.51,264.93 L110.42,263.95 L111.33,263.04 L112.24,262.22 L113.15,261.50 L114.06,260.88 L114.97,260.36 L115.88,259.95 L116.79,259.65 L117.70,259.46 L118.61,259.39 L119.52,259.43 L120.43,259.58 L121.34,259.84 L122.25,260.20 L123.15,260.67 L124.06,261.22 L124.97,261.87 L125.88,262.59 L126.79,263.39 L127.70,264.25 L128.61,265.17 L129.52,266.13 L130.43,267.13 L131.34,268.15 L132.25,269.20 L133.16,270.25 L134.07,271.31 L134.98,272.36 L135.89,273.40 L136.80,274.42 L137.71,275.41 L138.62,276.37 L139.53,277.30 L140.44,278.18 L141.35,279.02 L142.26,279.82 L143.16,280.57 L144.07,281.27 L144.98,281.91 L145.89,282.51 L146.80,283.06 L147.71,283.56 L148.62,284.01 L149.53,284.42 L150.44,284.78 L151.35,285.10 L152.26,285.38 L153.17,285.62 L154.08,285.83 L154.99,286.00 L155.90,286.14 L156.81,286.26 L157.72,286.35 L158.63,286.41 L159.54,286.46 L160.45,286.48 L161.36,286.49 L162.27,286.49 L163.17,286.47 L164.08,286.43 L164.99,286.39 L165.90,286.34 L166.81,286.28 L167.72,286.22 L168.63,286.14 L169.54,286.07 L170.45,285.99 L171.36,285.90 L172.27,285.82 L173.18,285.73 L174.09,285.64 L175.00,285.54 L175.91,285.45 L176.82,285.35 L177.73,285.26 L178.64,285.16 L179.55,285.06 L180.46,284.97 L181.37,284.87 L182.28,284.77 L183.18,284.67 L184.09,284.58 L185.00,284.48 L185.91,284.38 L186.82,284.29 L187.73,284.19 L188.64,284.09 L189.55,284.00 L190.46,283.90 L191.37,283.81 L192.28,283.71 L193.19,283.62 L194.10,283.53 L195.01,283.43 L195.92,283.34 L196.83,283.25 L197.74,283.16 L198.65,283.06 L199.56,282.97 L200.47,282.88 L201.38,282.79 L202.29,282.70 L203.19,282.61 L204.10,282.53 L205.01,282.44 L205.92,282.35 L206.83,282.26 L207.74,282.17 L208.65,282.09 L209.56,282.00 L210.47,281.92 L211.38,281.83 L212.29,281.74 L213.20,281.66" fill="none" stroke="#1c1cee" stroke-width="1.5" stroke-linejoin="round" />
<path d="M34.70,412.47a1.35,1.35 0 1,0 -2.7,0a1.35,1.35 0 1,0 2.7,0M35.57,409.80a1.35,1.35 0 1,0 -2.7,0a1.35,1.35 0 1,0 2.7,0M37.15,411.15a1.35,1.35 0 1,0 -2.7,0a1.35,1.35 0 1,0 2.7,0M37.64,411.71a1.35,1.35 0 1,0 -2.7,0a1.35,1.35 0 1,0 2.7,0M39.27,413.27a1.35,1.35 0 1,0 -2.7,0a1.35,1.35 0 1,0 2.7,0M40.29,413.61a1.35,1.35 0 1,0 -2.7,0a1.35,1.35 0 1,0 2.7,0M41.84,409.26a1.35,1.35 0 1,0 -2.7,0a1.35,1.35 0 1,0 2.7,0M42.55,413.40a1.35,1.35 0 1,0 -2.7,0a1.35,1.35 0 1,0 2.7,0M44.31,408.83a1.35,1.35 0 1,0 -2.7,0a1.35,1.35 0 1,0 2.7,0M45.26,410.35a1.35,1.35 0 1,0 -2.7,0a1.35,1.35 0 1,0 2.7,0M46.75,411.60a1.35,1.35 0 1,0 -2.7,0a1.35,1.35 0 1,0 2.7,0M47.62,410.43a1.35,1.35 0 1,0 -2.7,0a1.35,1.35 0 1,0 2.7,0M48.79,410.00a1.35,1.35 0 1,0 -2.7,0a1.35,1.35 0 1,0 2.7,0M50.29,410.87a1.35,1.35 0 1,0 -2.7,0a1.35,1.35 0 1,0 2.7,0M51.65,408.47a1.35,1.35 0 1,0 -2.7,0a1.35,1.35 0 1,0 2.7,0M52.37,408.11a1.35,1.35 0 1,0 -2.7,0a1.35,1.35 0 1,0 2.7,0M54.05,409.11a1.35,1.35 0 1,0 -2.7,0a1.35,1.35 0 1,0 2.7,0M55.23,412.10a1.35,1.35 0 1,0 -2.7,0a1.35,1.35 0 1,0 2.7,0M55.84,409.15a1.35,1.35 0 1,0 -2.7,0a1.35,1.35 0 1,0 2.7,0M57.39,414.38a1.35,1.35 0 1,0 -2.7,0a1.35,1.35 0 1,0 2.7,0M58.67,409.65a1.35,1.35 0 1,0 -2.7,0a1.35,1.35 0 1,0 2.7,0M60.07,400.87a1.35,1.35 0 1,0 -2.7,0a1.35,1.35 0 1,0 2.7,0M61.06,407.59a1.35,1.35 0 1,0 -2.7,0a1.35,1.35 0 1,0 2.7,0M61.84,413.18a1.35,1.35 0 1,0 -2.7,0a1.35,1.35 0 1,0 2.7,0M63.34,408.51a1.35,1.35 0 1,0 -2.7,0a1.35,1.35 0 1,0 2.7,0M64.55,407.17a1.35,1.35 0 1,0 -2.7,0a1.35,1.35 0 1,0 2.7,0M65.76,405.84a1.35,1.35 0 1,0 -2.7,0a1.35,1.35 0 1,0 2.7,0M67.33,411.59a1.35,1.35 0 1,0 -2.7,0a1.35,1.35 0 1,0 2.7,0M68.06,410.64a1.35,1.35 0 1,0 -2.7,0a1.35,1.35 0 1,0 2.7,0M69.16,409.61a1.35,1.35 0 1,0 -2.7,0a1.35,1.35 0 1,0 2.7,0M70.61,408.78a1.35,1.35 0 1,0 -2.7,0a1.35,1.35 0 1,0 2.7,0M71.91,411.36a1.35,1.35 0 1,0 -2.7,0a1.35,1.35 0 1,0 2.7,0M73.36,409.52a1.35,1.35 0 1,0 -2.7,0a1.35,1.35 0 1,0 2.7,0M74.28,403.88a1.35,1.35 0 1,0 -2.7,0a1.35,1.35 0 1,0 2.7,0M75.24,409.16a1.35,1.35 0 1,0 -2.7,0a1.35,1.35 0 1,0 2.7,0M76.98,407.35a1.35,1.35 0 1,0 -2.7,0a1.35,1.35 0 1,0 2.7,0M77.83,406.50a1.35,1.35 0 1,0 -2.7,0a1.35,1.35 0 1,0 2.7,0M79.19,408.70a1.35,1.35 0 1,0 -2.7,0a1.35,1.35 0 1,0 2.7,0M80.24,406.60a1.35,1.35 0 1,0 -2.7,0a1.35,1.35 0 1,0 2.7,0M81.24,398.49a1.35,1.35 0 1,0 -2.7,0a1.35,1.35 0 1,0 2.7,0M82.83,410.44a1.35,1.35 0 1,0 -2.7,0a1.35,1.35 0 1,0 2.7,0M84.10,408.90a1.35,1.35 0 1,0 -2.7,0a1.35,1.35 0 1,0 2.7,0M84.84,405.69a1.35,1.35 0 1,0 -2.7,0a1.35,1.35 0 1,0 2.7,0M86.26,404.86a1.35,1.35 0 1,0 -2.7,0a1.35,1.35 0 1,0 2.7,0M87.39,406.35a1.35,1.35 0 1,0 -2.7,0a1.35,1.35 0 1,0 2.7,0M88.45,402.16a1.35,1.35 0 1,0 -2.7,0a1.35,1.35 0 1,0 2.7,0M89.70,406.33a1.35,1.35 0 1,0 -2.7,0a1.35,1.35 0 1,0 2.7,0M91.50,404.69a1.35,1.35 0 1,0 -2.7,0a1.35,1.35 0 1,0 2.7,0M92.64,404.24a1.35,1.35 0 1,0 -2.7,0a1.35,1.35 0 1,0 2.7,0M93.45,402.61a1.35,1.35 0 1,0 -2.7,0a1.35,1.35 0 1,0 2.7,0M94.94,403.12a1.35,1.35 0 1,0 -2.7,0a1.35,1.35 0 1,0 2.7,0M95.59,407.87a1.35,1.35 0 1,0 -2.7,0a1.35,1.35 0 1,0 2.7,0M97.50,408.30a1.35,1.35 0 1,0 -2.7,0a1.35,1.35 0 1,0 2.7,0M98.41,405.96a1.35,1.35 0 1,0 -2.7,0a1.35,1.35 0 1,0 2.7,0M99.84,404.34a1.35,1.35 0 1,0 -2.7,0a1.35,1.35 0 1,0 2.7,0M100.61,402.01a1.35,1.35 0 1,0 -2.7,0a1.35,1.35 0 1,0 2.7,0M101.90,406.20a1.35,1.35 0 1,0 -2.7,0a1.35,1.35 0 1,0 2.7,0M103.09,408.49a1.35,1.35 0 1,0 -2.7,0a1.35,1.35 0 1,0 2.7,0M104.80,399.62a1.35,1.35 0 1,0 -2.7,0a1.35,1.35 0 1,0 2.7,0M105.57,407.07a1.35,1.35 0 1,0 -2.7,0a1.35,1.35 0 1,0 2.7,0M106.83,397.94a1.35,1.35 0 1,0 -2.7,0a1.35,1.35 0 1,0 2.7,0M108.41,402.72a1.35,1.35 0 1,0 -2.7,0a1.35,1.35 0 1,0 2.7,0M109.57,404.57a1.35,1.35 0 1,0 -2.7,0a1.35,1.35 0 1,0 2.7,0M110.37,399.77a1.35,1.35 0 1,0 -2.7,0a1.35,1.35 0 1,0 2.7,0M111.51,399.25a1.35,1.35 0 1,0 -2.7,0a1.35,1.35 0 1,0 2.7,0M113.12,403.70a1.35,1.35 0 1,0 -2.7,0a1.35,1.35 0 1,0 2.7,0M113.77,405.51a1.35,1.35 0 1,0 -2.7,0a1.35,1.35 0 1,0 2.7,0M115.20,401.73a1.35,1.35 0 1,0 -2.7,0a1.35,1.35 0 1,0 2.7,0M116.80,406.50a1.35,1.35 0 1,0 -2.7,0a1.35,1.35 0 1,0 2.7,0M118.04,400.66a1.35,1.35 0 1,0 -2.7,0a1.35,1.35 0 1,0 2.7,0M118.70,407.44a1.35,1.35 0 1,0 -2.7,0a1.35,1.35 0 1,0 2.7,0M119.78,402.94a1.35,1.35 0 1,0 -2.7,0a1.35,1.35 0 1,0 2.7,0M121.56,403.09a1.35,1.35 0 1,0 -2.7,0a1.35,1.35 0 1,0 2.7,0M122.64,404.03a1.35,1.35 0 1,0 -2.7,0a1.35,1.35 0 1,0 2.7,0M123.54,403.16a1.35,1.35 0 1,0 -2.7,0a1.35,1.35 0 1,0 2.7,0M124.96,407.15a1.35,1.35 0 1,0 -2.7,0a1.35,1.35 0 1,0 2.7,0M125.82,408.06a1.35,1.35 0 1,0 -2.7,0a1.35,1.35 0 1,0 2.7,0M127.53,403.43a1.35,1.35 0 1,0 -2.7,0a1.35,1.35 0 1,0 2.7,0M128.60,401.42a1.35,1.35 0 1,0 -2.7,0a1.35,1.35 0 1,0 2.7,0M129.95,398.59a1.35,1.35 0 1,0 -2.7,0a1.35,1.35 0 1,0 2.7,0M130.66,399.67a1.35,1.35 0 1,0 -2.7,0a1.35,1.35 0 1,0 2.7,0M132.32,401.60a1.35,1.35 0 1,0 -2.7,0a1.35,1.35 0 1,0 2.7,0M133.31,401.22a1.35,1.35 0 1,0 -2.7,0a1.35,1.35 0 1,0 2.7,0M134.62,401.28a1.35,1.35 0 1,0 -2.7,0a1.35,1.35 0 1,0 2.7,0M135.69,401.33a1.35,1.35 0 1,0 -2.7,0a1.35,1.35 0 1,0 2.7,0M137.14,402.54a1.35,1.35 0 1,0 -2.7,0a1.35,1.35 0 1,0 2.7,0M138.30,397.47a1.35,1.35 0 1,0 -2.7,0a1.35,1.35 0 1,0 2.7,0M139.54,398.25a1.35,1.35 0 1,0 -2.7,0a1.35,1.35 0 1,0 2.7,0M140.31,404.00a1.35,1.35 0 1,0 -2.7,0a1.35,1.35 0 1,0 2.7,0M141.65,403.13a1.35,1.35 0 1,0 -2.7,0a1.35,1.35 0 1,0 2.7,0M142.73,399.34a1.35,1.35 0 1,0 -2.7,0a1.35,1.35 0 1,0 2.7,0M144.19,404.18a1.35,1.35 0 1,0 -2.7,0a1.35,1.35 0 1,0 2.7,0M145.48,398.77a1.35,1.35 0 1,0 -2.7,0a1.35,1.35 0 1,0 2.7,0M146.39,399.85a1.35,1.35 0 1,0 -2.7,0a1.35,1.35 0 1,0 2.7,0M148.04,395.49a1.35,1.35 0 1,0 -2.7,0a1.35,1.35 0 1,0 2.7,0M149.10,402.63a1.35,1.35 0 1,0 -2.7,0a1.35,1.35 0 1,0 2.7,0M150.32,400.24a1.35,1.35 0 1,0 -2.7,0a1.35,1.35 0 1,0 2.7,0M151.61,403.06a1.35,1.35 0 1,0 -2.7,0a1.35,1.35 0 1,0 2.7,0M153.09,401.99a1.35,1.35 0 1,0 -2.7,0a1.35,1.35 0 1,0 2.7,0M154.02,400.28a1.35,1.35 0 1,0 -2.7,0a1.35,1.35 0 1,0 2.7,0M154.83,400.41a1.35,1.35 0 1,0 -2.7,0a1.35,1.35 0 1,0 2.7,0M156.08,403.13a1.35,1.35 0 1,0 -2.7,0a1.35,1.35 0 1,0 2.7,0M157.73,399.36a1.35,1.35 0 1,0 -2.7,0a1.35,1.35 0 1,0 2.7,0M158.64,399.34a1.35,1.35 0 1,0 -2.7,0a1.35,1.35 0 1,0 2.7,0M160.19,399.84a1.35,1.35 0 1,0 -2.7,0a1.35,1.35 0 1,0 2.7,0M161.20,401.78a1.35,1.35 0 1,0 -2.7,0a1.35,1.35 0 1,0 2.7,0M162.31,402.03a1.35,1.35 0 1,0 -2.7,0a1.35,1.35 0 1,0 2.7,0M163.80,404.63a1.35,1.35 0 1,0 -2.7,0a1.35,1.35 0 1,0 2.7,0M164.57,399.21a1.35,1.35 0 1,0 -2.7,0a1.35,1.35 0 1,0 2.7,0M165.86,402.77a1.35,1.35 0 1,0 -2.7,0a1.35,1.35 0 1,0 2.7,0M167.07,397.53a1.35,1.35 0 1,0 -2.7,0a1.35,1.35 0 1,0 2.7,0M168.38,400.86a1.35,1.35 0 1,0 -2.7,0a1.35,1.35 0 1,0 2.7,0M169.98,399.49a1.35,1.35 0 1,0 -2.7,0a1.35,1.35 0 1,0 2.7,0M171.11,403.78a1.35,1.35 0 1,0 -2.7,0a1.35,1.35 0 1,0 2.7,0M172.33,400.68a1.35,1.35 0 1,0 -2.7,0a1.35,1.35 0 1,0 2.7,0M173.38,397.78a1.35,1.35 0 1,0 -2.7,0a1.35,1.35 0 1,0 2.7,0M174.09,400.51a1.35,1.35 0 1,0 -2.7,0a1.35,1.35 0 1,0 2.7,0M175.52,399.82a1.35,1.35 0 1,0 -2.7,0a1.35,1.35 0 1,0 2.7,0M176.90,397.96a1.35,1.35 0 1,0 -2.7,0a1.35,1.35 0 1,0 2.7,0M178.43,397.94a1.35,1.35 0 1,0 -2.7,0a1.35,1.35 0 1,0 2.7,0M179.21,396.15a1.35,1.35 0 1,0 -2.7,0a1.35,1.35 0 1,0 2.7,0M180.56,406.08a1.35,1.35 0 1,0 -2.7,0a1.35,1.35 0 1,0 2.7,0M182.01,398.94a1.35,1.35 0 1,0 -2.7,0a1.35,1.35 0 1,0 2.7,0M182.81,401.17a1.35,1.35 0 1,0 -2.7,0a1.35,1.35 0 1,0 2.7,0M184.35,395.32a1.35,1.35 0 1,0 -2.7,0a1.35,1.35 0 1,0 2.7,0M185.43,395.48a1.35,1.35 0 1,0 -2.7,0a1.35,1.35 0 1,0 2.7,0M186.59,397.95a1.35,1.35 0 1,0 -2.7,0a1.35,1.35 0 1,0 2.7,0M187.88,397.91a1.35,1.35 0 1,0 -2.7,0a1.35,1.35 0 1,0 2.7,0M188.97,400.43a1.35,1.35 0 1,0 -2.7,0a1.35,1.35 0 1,0 2.7,0M189.88,395.51a1.35,1.35 0 1,0 -2.7,0a1.35,1.35 0 1,0 2.7,0M191.71,399.61a1.35,1.35 0 1,0 -2.7,0a1.35,1.35 0 1,0 2.7,0M192.98,402.19a1.35,1.35 0 1,0 -2.7,0a1.35,1.35 0 1,0 2.7,0M194.08,395.58a1.35,1.35 0 1,0 -2.7,0a1.35,1.35 0 1,0 2.7,0M194.90,400.48a1.35,1.35 0 1,0 -2.7,0a1.35,1.35 0 1,0 2.7,0M196.34,395.37a1.35,1.35 0 1,0 -2.7,0a1.35,1.35 0 1,0 2.7,0M197.65,398.85a1.35,1.35 0 1,0 -2.7,0a1.35,1.35 0 1,0 2.7,0M198.30,398.87a1.35,1.35 0 1,0 -2.7,0a1.35,1.35 0 1,0 2.7,0M200.08,402.52a1.35,1.35 0 1,0 -2.7,0a1.35,1.35 0 1,0 2.7,0M200.73,395.94a1.35,1.35 0 1,0 -2.7,0a1.35,1.35 0 1,0 2.7,0M202.62,398.19a1.35,1.35 0 1,0 -2.7,0a1.35,1.35 0 1,0 2.7,0M203.27,400.53a1.35,1.35 0 1,0 -2.7,0a1.35,1.35 0 1,0 2.7,0M205.06,394.49a1.35,1.35 0 1,0 -2.7,0a1.35,1.35 0 1,0 2.7,0M205.68,397.61a1.35,1.35 0 1,0 -2.7,0a1.35,1.35 0 1,0 2.7,0M207.13,395.24a1.35,1.35 0 1,0 -2.7,0a1.35,1.35 0 1,0 2.7,0M208.57,395.65a1.35,1.35 0 1,0 -2.7,0a1.35,1.35 0 1,0 2.7,0M209.91,399.34a1.35,1.35 0 1,0 -2.7,0a1.35,1.35 0 1,0 2.7,0M210.89,399.36a1.35,1.35 0 1,0 -2.7,0a1.35,1.35 0 1,0 2.7,0M212.20,404.39a1.35,1.35 0 1,0 -2.7,0a1.35,1.35 0 1,0 2.7,0M213.06,401.13a1.35,1.35 0 1,0 -2.7,0a1.35,1.35 0 1,0 2.7,0M214.55,400.85a1.35,1.35 0 1,0 -2.7,0a1.35,1.35 0 1,0 2.7,0" fill="none" stroke="#8c8c8c" stroke-width="0.5" clip-path="url(#cdl)"/>
<path d="M34.59,411.28a1.35,1.35 0 1,0 -2.7,0a1.35,1.35 0 1,0 2.7,0M35.80,406.71a1.35,1.35 0 1,0 -2.7,0a1.35,1.35 0 1,0 2.7,0M36.78,409.94a1.35,1.35 0 1,0 -2.7,0a1.35,1.35 0 1,0 2.7,0M37.80,409.61a1.35,1.35 0 1,0 -2.7,0a1.35,1.35 0 1,0 2.7,0M38.83,414.53a1.35,1.35 0 1,0 -2.7,0a1.35,1.35 0 1,0 2.7,0M40.30,408.64a1.35,1.35 0 1,0 -2.7,0a1.35,1.35 0 1,0 2.7,0M41.53,409.79a1.35,1.35 0 1,0 -2.7,0a1.35,1.35 0 1,0 2.7,0M42.44,409.63a1.35,1.35 0 1,0 -2.7,0a1.35,1.35 0 1,0 2.7,0M43.65,409.24a1.35,1.35 0 1,0 -2.7,0a1.35,1.35 0 1,0 2.7,0M45.62,407.73a1.35,1.35 0 1,0 -2.7,0a1.35,1.35 0 1,0 2.7,0M46.55,410.34a1.35,1.35 0 1,0 -2.7,0a1.35,1.35 0 1,0 2.7,0M47.43,412.30a1.35,1.35 0 1,0 -2.7,0a1.35,1.35 0 1,0 2.7,0M48.79,411.05a1.35,1.35 0 1,0 -2.7,0a1.35,1.35 0 1,0 2.7,0M50.43,407.14a1.35,1.35 0 1,0 -2.7,0a1.35,1.35 0 1,0 2.7,0M51.58,406.47a1.35,1.35 0 1,0 -2.7,0a1.35,1.35 0 1,0 2.7,0M52.75,409.38a1.35,1.35 0 1,0 -2.7,0a1.35,1.35 0 1,0 2.7,0M53.59,407.30a1.35,1.35 0 1,0 -2.7,0a1.35,1.35 0 1,0 2.7,0M54.88,407.33a1.35,1.35 0 1,0 -2.7,0a1.35,1.35 0 1,0 2.7,0M56.24,404.65a1.35,1.35 0 1,0 -2.7,0a1.35,1.35 0 1,0 2.7,0M56.95,413.27a1.35,1.35 0 1,0 -2.7,0a1.35,1.35 0 1,0 2.7,0M58.56,410.60a1.35,1.35 0 1,0 -2.7,0a1.35,1.35 0 1,0 2.7,0M59.54,405.94a1.35,1.35 0 1,0 -2.7,0a1.35,1.35 0 1,0 2.7,0M61.23,410.25a1.35,1.35 0 1,0 -2.7,0a1.35,1.35 0 1,0 2.7,0M61.79,411.22a1.35,1.35 0 1,0 -2.7,0a1.35,1.35 0 1,0 2.7,0M63.49,402.05a1.35,1.35 0 1,0 -2.7,0a1.35,1.35 0 1,0 2.7,0M64.85,406.29a1.35,1.35 0 1,0 -2.7,0a1.35,1.35 0 1,0 2.7,0M65.54,406.58a1.35,1.35 0 1,0 -2.7,0a1.35,1.35 0 1,0 2.7,0M67.28,408.83a1.35,1.35 0 1,0 -2.7,0a1.35,1.35 0 1,0 2.7,0M68.47,406.81a1.35,1.35 0 1,0 -2.7,0a1.35,1.35 0 1,0 2.7,0M69.00,406.47a1.35,1.35 0 1,0 -2.7,0a1.35,1.35 0 1,0 2.7,0M70.76,406.62a1.35,1.35 0 1,0 -2.7,0a1.35,1.35 0 1,0 2.7,0M71.40,411.11a1.35,1.35 0 1,0 -2.7,0a1.35,1.35 0 1,0 2.7,0M73.01,411.58a1.35,1.35 0 1,0 -2.7,0a1.35,1.35 0 1,0 2.7,0M74.17,404.93a1.35,1.35 0 1,0 -2.7,0a1.35,1.35 0 1,0 2.7,0M75.19,403.78a1.35,1.35 0 1,0 -2.7,0a1.35,1.35 0 1,0 2.7,0M76.49,412.22a1.35,1.35 0 1,0 -2.7,0a1.35,1.35 0 1,0 2.7,0M78.08,403.08a1.35,1.35 0 1,0 -2.7,0a1.35,1.35 0 1,0 2.7,0M78.90,403.87a1.35,1.35 0 1,0 -2.7,0a1.35,1.35 0 1,0 2.7,0M79.98,405.09a1.35,1.35 0 1,0 -2.7,0a1.35,1.35 0 1,0 2.7,0M81.62,405.76a1.35,1.35 0 1,0 -2.7,0a1.35,1.35 0 1,0 2.7,0M82.63,406.80a1.35,1.35 0 1,0 -2.7,0a1.35,1.35 0 1,0 2.7,0M84.12,404.85a1.35,1.35 0 1,0 -2.7,0a1.35,1.35 0 1,0 2.7,0M84.88,401.60a1.35,1.35 0 1,0 -2.7,0a1.35,1.35 0 1,0 2.7,0M86.15,404.51a1.35,1.35 0 1,0 -2.7,0a1.35,1.35 0 1,0 2.7,0M87.74,403.36a1.35,1.35 0 1,0 -2.7,0a1.35,1.35 0 1,0 2.7,0M88.72,406.92a1.35,1.35 0 1,0 -2.7,0a1.35,1.35 0 1,0 2.7,0M89.93,401.93a1.35,1.35 0 1,0 -2.7,0a1.35,1.35 0 1,0 2.7,0M90.92,398.38a1.35,1.35 0 1,0 -2.7,0a1.35,1.35 0 1,0 2.7,0M91.95,398.66a1.35,1.35 0 1,0 -2.7,0a1.35,1.35 0 1,0 2.7,0M93.89,403.82a1.35,1.35 0 1,0 -2.7,0a1.35,1.35 0 1,0 2.7,0M94.42,398.81a1.35,1.35 0 1,0 -2.7,0a1.35,1.35 0 1,0 2.7,0M96.24,394.23a1.35,1.35 0 1,0 -2.7,0a1.35,1.35 0 1,0 2.7,0M97.06,397.50a1.35,1.35 0 1,0 -2.7,0a1.35,1.35 0 1,0 2.7,0M98.74,398.09a1.35,1.35 0 1,0 -2.7,0a1.35,1.35 0 1,0 2.7,0M99.50,400.57a1.35,1.35 0 1,0 -2.7,0a1.35,1.35 0 1,0 2.7,0M101.14,394.48a1.35,1.35 0 1,0 -2.7,0a1.35,1.35 0 1,0 2.7,0M102.05,398.07a1.35,1.35 0 1,0 -2.7,0a1.35,1.35 0 1,0 2.7,0M103.00,397.91a1.35,1.35 0 1,0 -2.7,0a1.35,1.35 0 1,0 2.7,0M104.61,393.55a1.35,1.35 0 1,0 -2.7,0a1.35,1.35 0 1,0 2.7,0M105.76,394.24a1.35,1.35 0 1,0 -2.7,0a1.35,1.35 0 1,0 2.7,0M106.98,398.39a1.35,1.35 0 1,0 -2.7,0a1.35,1.35 0 1,0 2.7,0M108.01,397.83a1.35,1.35 0 1,0 -2.7,0a1.35,1.35 0 1,0 2.7,0M109.03,395.35a1.35,1.35 0 1,0 -2.7,0a1.35,1.35 0 1,0 2.7,0M110.57,393.53a1.35,1.35 0 1,0 -2.7,0a1.35,1.35 0 1,0 2.7,0M111.35,395.20a1.35,1.35 0 1,0 -2.7,0a1.35,1.35 0 1,0 2.7,0M113.03,391.65a1.35,1.35 0 1,0 -2.7,0a1.35,1.35 0 1,0 2.7,0M114.19,391.49a1.35,1.35 0 1,0 -2.7,0a1.35,1.35 0 1,0 2.7,0M115.19,389.47a1.35,1.35 0 1,0 -2.7,0a1.35,1.35 0 1,0 2.7,0M116.74,391.34a1.35,1.35 0 1,0 -2.7,0a1.35,1.35 0 1,0 2.7,0M117.46,391.07a1.35,1.35 0 1,0 -2.7,0a1.35,1.35 0 1,0 2.7,0M118.83,397.88a1.35,1.35 0 1,0 -2.7,0a1.35,1.35 0 1,0 2.7,0M120.36,390.81a1.35,1.35 0 1,0 -2.7,0a1.35,1.35 0 1,0 2.7,0M121.23,394.39a1.35,1.35 0 1,0 -2.7,0a1.35,1.35 0 1,0 2.7,0M122.71,394.68a1.35,1.35 0 1,0 -2.7,0a1.35,1.35 0 1,0 2.7,0M123.84,391.25a1.35,1.35 0 1,0 -2.7,0a1.35,1.35 0 1,0 2.7,0M125.31,394.81a1.35,1.35 0 1,0 -2.7,0a1.35,1.35 0 1,0 2.7,0M126.56,387.07a1.35,1.35 0 1,0 -2.7,0a1.35,1.35 0 1,0 2.7,0M127.55,392.78a1.35,1.35 0 1,0 -2.7,0a1.35,1.35 0 1,0 2.7,0M128.83,394.97a1.35,1.35 0 1,0 -2.7,0a1.35,1.35 0 1,0 2.7,0M129.51,387.35a1.35,1.35 0 1,0 -2.7,0a1.35,1.35 0 1,0 2.7,0M131.16,390.82a1.35,1.35 0 1,0 -2.7,0a1.35,1.35 0 1,0 2.7,0M132.48,396.54a1.35,1.35 0 1,0 -2.7,0a1.35,1.35 0 1,0 2.7,0M133.33,393.65a1.35,1.35 0 1,0 -2.7,0a1.35,1.35 0 1,0 2.7,0M134.66,392.04a1.35,1.35 0 1,0 -2.7,0a1.35,1.35 0 1,0 2.7,0M135.81,394.13a1.35,1.35 0 1,0 -2.7,0a1.35,1.35 0 1,0 2.7,0M137.40,394.18a1.35,1.35 0 1,0 -2.7,0a1.35,1.35 0 1,0 2.7,0M138.10,397.42a1.35,1.35 0 1,0 -2.7,0a1.35,1.35 0 1,0 2.7,0M139.37,397.11a1.35,1.35 0 1,0 -2.7,0a1.35,1.35 0 1,0 2.7,0M140.26,395.57a1.35,1.35 0 1,0 -2.7,0a1.35,1.35 0 1,0 2.7,0M141.80,395.02a1.35,1.35 0 1,0 -2.7,0a1.35,1.35 0 1,0 2.7,0M143.18,396.78a1.35,1.35 0 1,0 -2.7,0a1.35,1.35 0 1,0 2.7,0M144.63,400.38a1.35,1.35 0 1,0 -2.7,0a1.35,1.35 0 1,0 2.7,0M145.83,398.24a1.35,1.35 0 1,0 -2.7,0a1.35,1.35 0 1,0 2.7,0M146.56,399.06a1.35,1.35 0 1,0 -2.7,0a1.35,1.35 0 1,0 2.7,0M148.30,397.40a1.35,1.35 0 1,0 -2.7,0a1.35,1.35 0 1,0 2.7,0M148.87,394.73a1.35,1.35 0 1,0 -2.7,0a1.35,1.35 0 1,0 2.7,0M150.58,396.31a1.35,1.35 0 1,0 -2.7,0a1.35,1.35 0 1,0 2.7,0M151.26,399.64a1.35,1.35 0 1,0 -2.7,0a1.35,1.35 0 1,0 2.7,0M152.66,398.43a1.35,1.35 0 1,0 -2.7,0a1.35,1.35 0 1,0 2.7,0M153.61,396.07a1.35,1.35 0 1,0 -2.7,0a1.35,1.35 0 1,0 2.7,0M155.44,394.43a1.35,1.35 0 1,0 -2.7,0a1.35,1.35 0 1,0 2.7,0M156.63,398.61a1.35,1.35 0 1,0 -2.7,0a1.35,1.35 0 1,0 2.7,0M157.28,397.54a1.35,1.35 0 1,0 -2.7,0a1.35,1.35 0 1,0 2.7,0M158.80,397.53a1.35,1.35 0 1,0 -2.7,0a1.35,1.35 0 1,0 2.7,0M159.79,397.57a1.35,1.35 0 1,0 -2.7,0a1.35,1.35 0 1,0 2.7,0M161.19,399.03a1.35,1.35 0 1,0 -2.7,0a1.35,1.35 0 1,0 2.7,0M162.45,399.03a1.35,1.35 0 1,0 -2.7,0a1.35,1.35 0 1,0 2.7,0M163.30,400.61a1.35,1.35 0 1,0 -2.7,0a1.35,1.35 0 1,0 2.7,0M165.11,400.47a1.35,1.35 0 1,0 -2.7,0a1.35,1.35 0 1,0 2.7,0M165.85,401.41a1.35,1.35 0 1,0 -2.7,0a1.35,1.35 0 1,0 2.7,0M167.19,400.09a1.35,1.35 0 1,0 -2.7,0a1.35,1.35 0 1,0 2.7,0M168.09,397.30a1.35,1.35 0 1,0 -2.7,0a1.35,1.35 0 1,0 2.7,0M169.25,397.92a1.35,1.35 0 1,0 -2.7,0a1.35,1.35 0 1,0 2.7,0M170.62,399.16a1.35,1.35 0 1,0 -2.7,0a1.35,1.35 0 1,0 2.7,0M171.94,397.16a1.35,1.35 0 1,0 -2.7,0a1.35,1.35 0 1,0 2.7,0M173.62,399.12a1.35,1.35 0 1,0 -2.7,0a1.35,1.35 0 1,0 2.7,0M174.80,400.50a1.35,1.35 0 1,0 -2.7,0a1.35,1.35 0 1,0 2.7,0M175.68,395.75a1.35,1.35 0 1,0 -2.7,0a1.35,1.35 0 1,0 2.7,0M176.86,393.35a1.35,1.35 0 1,0 -2.7,0a1.35,1.35 0 1,0 2.7,0M178.24,400.38a1.35,1.35 0 1,0 -2.7,0a1.35,1.35 0 1,0 2.7,0M179.60,397.47a1.35,1.35 0 1,0 -2.7,0a1.35,1.35 0 1,0 2.7,0M180.39,399.07a1.35,1.35 0 1,0 -2.7,0a1.35,1.35 0 1,0 2.7,0M181.97,394.07a1.35,1.35 0 1,0 -2.7,0a1.35,1.35 0 1,0 2.7,0M182.86,401.37a1.35,1.35 0 1,0 -2.7,0a1.35,1.35 0 1,0 2.7,0M184.22,398.89a1.35,1.35 0 1,0 -2.7,0a1.35,1.35 0 1,0 2.7,0M185.55,396.73a1.35,1.35 0 1,0 -2.7,0a1.35,1.35 0 1,0 2.7,0M186.57,396.12a1.35,1.35 0 1,0 -2.7,0a1.35,1.35 0 1,0 2.7,0M187.93,397.14a1.35,1.35 0 1,0 -2.7,0a1.35,1.35 0 1,0 2.7,0M189.14,396.39a1.35,1.35 0 1,0 -2.7,0a1.35,1.35 0 1,0 2.7,0M189.79,396.07a1.35,1.35 0 1,0 -2.7,0a1.35,1.35 0 1,0 2.7,0M191.03,393.97a1.35,1.35 0 1,0 -2.7,0a1.35,1.35 0 1,0 2.7,0M192.32,399.60a1.35,1.35 0 1,0 -2.7,0a1.35,1.35 0 1,0 2.7,0M193.58,396.39a1.35,1.35 0 1,0 -2.7,0a1.35,1.35 0 1,0 2.7,0M194.78,396.59a1.35,1.35 0 1,0 -2.7,0a1.35,1.35 0 1,0 2.7,0M195.87,396.56a1.35,1.35 0 1,0 -2.7,0a1.35,1.35 0 1,0 2.7,0M197.21,390.59a1.35,1.35 0 1,0 -2.7,0a1.35,1.35 0 1,0 2.7,0M198.73,397.41a1.35,1.35 0 1,0 -2.7,0a1.35,1.35 0 1,0 2.7,0M200.16,395.26a1.35,1.35 0 1,0 -2.7,0a1.35,1.35 0 1,0 2.7,0M200.94,395.31a1.35,1.35 0 1,0 -2.7,0a1.35,1.35 0 1,0 2.7,0M202.16,396.09a1.35,1.35 0 1,0 -2.7,0a1.35,1.35 0 1,0 2.7,0M203.41,393.50a1.35,1.35 0 1,0 -2.7,0a1.35,1.35 0 1,0 2.7,0M204.83,397.77a1.35,1.35 0 1,0 -2.7,0a1.35,1.35 0 1,0 2.7,0M206.12,393.99a1.35,1.35 0 1,0 -2.7,0a1.35,1.35 0 1,0 2.7,0M207.45,393.41a1.35,1.35 0 1,0 -2.7,0a1.35,1.35 0 1,0 2.7,0M208.21,393.46a1.35,1.35 0 1,0 -2.7,0a1.35,1.35 0 1,0 2.7,0M209.68,395.81a1.35,1.35 0 1,0 -2.7,0a1.35,1.35 0 1,0 2.7,0M210.60,397.16a1.35,1.35 0 1,0 -2.7,0a1.35,1.35 0 1,0 2.7,0M212.19,393.84a1.35,1.35 0 1,0 -2.7,0a1.35,1.35 0 1,0 2.7,0M212.93,391.60a1.35,1.35 0 1,0 -2.7,0a1.35,1.35 0 1,0 2.7,0M214.65,397.66a1.35,1.35 0 1,0 -2.7,0a1.35,1.35 0 1,0 2.7,0" fill="none" stroke="#ff8a8a" stroke-width="0.5" clip-path="url(#cdl)"/>
<path d="M34.38,408.47a1.35,1.35 0 1,0 -2.7,0a1.35,1.35 0 1,0 2.7,0M35.43,408.09a1.35,1.35 0 1,0 -2.7,0a1.35,1.35 0 1,0 2.7,0M36.66,405.84a1.35,1.35 0 1,0 -2.7,0a1.35,1.35 0 1,0 2.7,0M37.87,405.96a1.35,1.35 0 1,0 -2.7,0a1.35,1.35 0 1,0 2.7,0M39.57,406.69a1.35,1.35 0 1,0 -2.7,0a1.35,1.35 0 1,0 2.7,0M40.50,406.60a1.35,1.35 0 1,0 -2.7,0a1.35,1.35 0 1,0 2.7,0M41.74,404.31a1.35,1.35 0 1,0 -2.7,0a1.35,1.35 0 1,0 2.7,0M42.67,412.16a1.35,1.35 0 1,0 -2.7,0a1.35,1.35 0 1,0 2.7,0M44.16,403.90a1.35,1.35 0 1,0 -2.7,0a1.35,1.35 0 1,0 2.7,0M44.92,405.39a1.35,1.35 0 1,0 -2.7,0a1.35,1.35 0 1,0 2.7,0M46.07,411.80a1.35,1.35 0 1,0 -2.7,0a1.35,1.35 0 1,0 2.7,0M47.92,404.03a1.35,1.35 0 1,0 -2.7,0a1.35,1.35 0 1,0 2.7,0M48.45,407.37a1.35,1.35 0 1,0 -2.7,0a1.35,1.35 0 1,0 2.7,0M50.44,406.78a1.35,1.35 0 1,0 -2.7,0a1.35,1.35 0 1,0 2.7,0M51.52,404.52a1.35,1.35 0 1,0 -2.7,0a1.35,1.35 0 1,0 2.7,0M52.70,401.39a1.35,1.35 0 1,0 -2.7,0a1.35,1.35 0 1,0 2.7,0M53.32,400.99a1.35,1.35 0 1,0 -2.7,0a1.35,1.35 0 1,0 2.7,0M54.65,404.48a1.35,1.35 0 1,0 -2.7,0a1.35,1.35 0 1,0 2.7,0M56.37,405.23a1.35,1.35 0 1,0 -2.7,0a1.35,1.35 0 1,0 2.7,0M57.25,398.91a1.35,1.35 0 1,0 -2.7,0a1.35,1.35 0 1,0 2.7,0M58.61,404.23a1.35,1.35 0 1,0 -2.7,0a1.35,1.35 0 1,0 2.7,0M59.42,402.16a1.35,1.35 0 1,0 -2.7,0a1.35,1.35 0 1,0 2.7,0M60.68,405.68a1.35,1.35 0 1,0 -2.7,0a1.35,1.35 0 1,0 2.7,0M62.13,403.72a1.35,1.35 0 1,0 -2.7,0a1.35,1.35 0 1,0 2.7,0M63.55,401.14a1.35,1.35 0 1,0 -2.7,0a1.35,1.35 0 1,0 2.7,0M64.58,401.89a1.35,1.35 0 1,0 -2.7,0a1.35,1.35 0 1,0 2.7,0M65.44,402.88a1.35,1.35 0 1,0 -2.7,0a1.35,1.35 0 1,0 2.7,0M67.26,405.71a1.35,1.35 0 1,0 -2.7,0a1.35,1.35 0 1,0 2.7,0M67.89,409.69a1.35,1.35 0 1,0 -2.7,0a1.35,1.35 0 1,0 2.7,0M69.34,403.02a1.35,1.35 0 1,0 -2.7,0a1.35,1.35 0 1,0 2.7,0M70.66,402.23a1.35,1.35 0 1,0 -2.7,0a1.35,1.35 0 1,0 2.7,0M71.65,403.46a1.35,1.35 0 1,0 -2.7,0a1.35,1.35 0 1,0 2.7,0M72.94,401.64a1.35,1.35 0 1,0 -2.7,0a1.35,1.35 0 1,0 2.7,0M74.53,402.96a1.35,1.35 0 1,0 -2.7,0a1.35,1.35 0 1,0 2.7,0M75.39,402.22a1.35,1.35 0 1,0 -2.7,0a1.35,1.35 0 1,0 2.7,0M76.66,401.07a1.35,1.35 0 1,0 -2.7,0a1.35,1.35 0 1,0 2.7,0M78.22,398.85a1.35,1.35 0 1,0 -2.7,0a1.35,1.35 0 1,0 2.7,0M78.87,401.01a1.35,1.35 0 1,0 -2.7,0a1.35,1.35 0 1,0 2.7,0M80.57,402.41a1.35,1.35 0 1,0 -2.7,0a1.35,1.35 0 1,0 2.7,0M81.35,400.24a1.35,1.35 0 1,0 -2.7,0a1.35,1.35 0 1,0 2.7,0M82.52,403.39a1.35,1.35 0 1,0 -2.7,0a1.35,1.35 0 1,0 2.7,0M84.19,401.55a1.35,1.35 0 1,0 -2.7,0a1.35,1.35 0 1,0 2.7,0M84.74,398.81a1.35,1.35 0 1,0 -2.7,0a1.35,1.35 0 1,0 2.7,0M86.59,402.68a1.35,1.35 0 1,0 -2.7,0a1.35,1.35 0 1,0 2.7,0M87.77,395.38a1.35,1.35 0 1,0 -2.7,0a1.35,1.35 0 1,0 2.7,0M89.03,400.37a1.35,1.35 0 1,0 -2.7,0a1.35,1.35 0 1,0 2.7,0M89.57,401.79a1.35,1.35 0 1,0 -2.7,0a1.35,1.35 0 1,0 2.7,0M90.92,396.10a1.35,1.35 0 1,0 -2.7,0a1.35,1.35 0 1,0 2.7,0M92.56,395.62a1.35,1.35 0 1,0 -2.7,0a1.35,1.35 0 1,0 2.7,0M93.49,397.60a1.35,1.35 0 1,0 -2.7,0a1.35,1.35 0 1,0 2.7,0M94.36,398.28a1.35,1.35 0 1,0 -2.7,0a1.35,1.35 0 1,0 2.7,0M96.11,394.80a1.35,1.35 0 1,0 -2.7,0a1.35,1.35 0 1,0 2.7,0M97.41,393.45a1.35,1.35 0 1,0 -2.7,0a1.35,1.35 0 1,0 2.7,0M98.76,394.12a1.35,1.35 0 1,0 -2.7,0a1.35,1.35 0 1,0 2.7,0M99.31,392.14a1.35,1.35 0 1,0 -2.7,0a1.35,1.35 0 1,0 2.7,0M100.59,387.66a1.35,1.35 0 1,0 -2.7,0a1.35,1.35 0 1,0 2.7,0M102.27,388.82a1.35,1.35 0 1,0 -2.7,0a1.35,1.35 0 1,0 2.7,0M102.88,388.77a1.35,1.35 0 1,0 -2.7,0a1.35,1.35 0 1,0 2.7,0M104.24,384.17a1.35,1.35 0 1,0 -2.7,0a1.35,1.35 0 1,0 2.7,0M105.59,387.73a1.35,1.35 0 1,0 -2.7,0a1.35,1.35 0 1,0 2.7,0M106.77,384.14a1.35,1.35 0 1,0 -2.7,0a1.35,1.35 0 1,0 2.7,0M108.08,386.82a1.35,1.35 0 1,0 -2.7,0a1.35,1.35 0 1,0 2.7,0M109.54,380.57a1.35,1.35 0 1,0 -2.7,0a1.35,1.35 0 1,0 2.7,0M110.56,381.40a1.35,1.35 0 1,0 -2.7,0a1.35,1.35 0 1,0 2.7,0M111.79,379.50a1.35,1.35 0 1,0 -2.7,0a1.35,1.35 0 1,0 2.7,0M112.95,385.62a1.35,1.35 0 1,0 -2.7,0a1.35,1.35 0 1,0 2.7,0M113.85,385.30a1.35,1.35 0 1,0 -2.7,0a1.35,1.35 0 1,0 2.7,0M115.25,385.44a1.35,1.35 0 1,0 -2.7,0a1.35,1.35 0 1,0 2.7,0M116.89,385.26a1.35,1.35 0 1,0 -2.7,0a1.35,1.35 0 1,0 2.7,0M118.03,383.88a1.35,1.35 0 1,0 -2.7,0a1.35,1.35 0 1,0 2.7,0M119.13,383.94a1.35,1.35 0 1,0 -2.7,0a1.35,1.35 0 1,0 2.7,0M120.15,377.88a1.35,1.35 0 1,0 -2.7,0a1.35,1.35 0 1,0 2.7,0M121.62,383.09a1.35,1.35 0 1,0 -2.7,0a1.35,1.35 0 1,0 2.7,0M122.64,381.42a1.35,1.35 0 1,0 -2.7,0a1.35,1.35 0 1,0 2.7,0M123.66,382.22a1.35,1.35 0 1,0 -2.7,0a1.35,1.35 0 1,0 2.7,0M124.98,380.59a1.35,1.35 0 1,0 -2.7,0a1.35,1.35 0 1,0 2.7,0M125.92,387.13a1.35,1.35 0 1,0 -2.7,0a1.35,1.35 0 1,0 2.7,0M127.43,385.10a1.35,1.35 0 1,0 -2.7,0a1.35,1.35 0 1,0 2.7,0M128.43,381.66a1.35,1.35 0 1,0 -2.7,0a1.35,1.35 0 1,0 2.7,0M130.01,387.27a1.35,1.35 0 1,0 -2.7,0a1.35,1.35 0 1,0 2.7,0M131.26,386.48a1.35,1.35 0 1,0 -2.7,0a1.35,1.35 0 1,0 2.7,0M132.60,384.81a1.35,1.35 0 1,0 -2.7,0a1.35,1.35 0 1,0 2.7,0M133.68,387.09a1.35,1.35 0 1,0 -2.7,0a1.35,1.35 0 1,0 2.7,0M134.27,386.19a1.35,1.35 0 1,0 -2.7,0a1.35,1.35 0 1,0 2.7,0M136.01,383.27a1.35,1.35 0 1,0 -2.7,0a1.35,1.35 0 1,0 2.7,0M137.28,385.59a1.35,1.35 0 1,0 -2.7,0a1.35,1.35 0 1,0 2.7,0M138.54,390.87a1.35,1.35 0 1,0 -2.7,0a1.35,1.35 0 1,0 2.7,0M139.44,390.73a1.35,1.35 0 1,0 -2.7,0a1.35,1.35 0 1,0 2.7,0M140.64,390.86a1.35,1.35 0 1,0 -2.7,0a1.35,1.35 0 1,0 2.7,0M141.89,387.66a1.35,1.35 0 1,0 -2.7,0a1.35,1.35 0 1,0 2.7,0M142.80,389.21a1.35,1.35 0 1,0 -2.7,0a1.35,1.35 0 1,0 2.7,0M144.65,391.09a1.35,1.35 0 1,0 -2.7,0a1.35,1.35 0 1,0 2.7,0M145.88,392.73a1.35,1.35 0 1,0 -2.7,0a1.35,1.35 0 1,0 2.7,0M146.51,389.10a1.35,1.35 0 1,0 -2.7,0a1.35,1.35 0 1,0 2.7,0M148.27,388.69a1.35,1.35 0 1,0 -2.7,0a1.35,1.35 0 1,0 2.7,0M148.88,393.99a1.35,1.35 0 1,0 -2.7,0a1.35,1.35 0 1,0 2.7,0M149.99,391.44a1.35,1.35 0 1,0 -2.7,0a1.35,1.35 0 1,0 2.7,0M151.72,390.36a1.35,1.35 0 1,0 -2.7,0a1.35,1.35 0 1,0 2.7,0M152.99,389.47a1.35,1.35 0 1,0 -2.7,0a1.35,1.35 0 1,0 2.7,0M153.71,389.64a1.35,1.35 0 1,0 -2.7,0a1.35,1.35 0 1,0 2.7,0M155.52,394.94a1.35,1.35 0 1,0 -2.7,0a1.35,1.35 0 1,0 2.7,0M156.28,393.42a1.35,1.35 0 1,0 -2.7,0a1.35,1.35 0 1,0 2.7,0M157.32,390.02a1.35,1.35 0 1,0 -2.7,0a1.35,1.35 0 1,0 2.7,0M158.62,387.92a1.35,1.35 0 1,0 -2.7,0a1.35,1.35 0 1,0 2.7,0M159.68,394.87a1.35,1.35 0 1,0 -2.7,0a1.35,1.35 0 1,0 2.7,0M161.41,394.49a1.35,1.35 0 1,0 -2.7,0a1.35,1.35 0 1,0 2.7,0M162.23,393.54a1.35,1.35 0 1,0 -2.7,0a1.35,1.35 0 1,0 2.7,0M163.77,392.54a1.35,1.35 0 1,0 -2.7,0a1.35,1.35 0 1,0 2.7,0M164.79,385.91a1.35,1.35 0 1,0 -2.7,0a1.35,1.35 0 1,0 2.7,0M165.73,387.26a1.35,1.35 0 1,0 -2.7,0a1.35,1.35 0 1,0 2.7,0M167.31,391.57a1.35,1.35 0 1,0 -2.7,0a1.35,1.35 0 1,0 2.7,0M168.82,389.40a1.35,1.35 0 1,0 -2.7,0a1.35,1.35 0 1,0 2.7,0M169.40,390.65a1.35,1.35 0 1,0 -2.7,0a1.35,1.35 0 1,0 2.7,0M171.23,388.61a1.35,1.35 0 1,0 -2.7,0a1.35,1.35 0 1,0 2.7,0M171.76,388.25a1.35,1.35 0 1,0 -2.7,0a1.35,1.35 0 1,0 2.7,0M173.34,391.02a1.35,1.35 0 1,0 -2.7,0a1.35,1.35 0 1,0 2.7,0M174.22,388.66a1.35,1.35 0 1,0 -2.7,0a1.35,1.35 0 1,0 2.7,0M176.09,389.45a1.35,1.35 0 1,0 -2.7,0a1.35,1.35 0 1,0 2.7,0M176.94,390.00a1.35,1.35 0 1,0 -2.7,0a1.35,1.35 0 1,0 2.7,0M178.41,389.82a1.35,1.35 0 1,0 -2.7,0a1.35,1.35 0 1,0 2.7,0M179.48,391.96a1.35,1.35 0 1,0 -2.7,0a1.35,1.35 0 1,0 2.7,0M180.48,392.38a1.35,1.35 0 1,0 -2.7,0a1.35,1.35 0 1,0 2.7,0M181.54,385.73a1.35,1.35 0 1,0 -2.7,0a1.35,1.35 0 1,0 2.7,0M183.24,388.23a1.35,1.35 0 1,0 -2.7,0a1.35,1.35 0 1,0 2.7,0M184.46,387.22a1.35,1.35 0 1,0 -2.7,0a1.35,1.35 0 1,0 2.7,0M185.58,390.50a1.35,1.35 0 1,0 -2.7,0a1.35,1.35 0 1,0 2.7,0M186.81,386.02a1.35,1.35 0 1,0 -2.7,0a1.35,1.35 0 1,0 2.7,0M187.41,390.40a1.35,1.35 0 1,0 -2.7,0a1.35,1.35 0 1,0 2.7,0M188.76,390.12a1.35,1.35 0 1,0 -2.7,0a1.35,1.35 0 1,0 2.7,0M190.23,389.71a1.35,1.35 0 1,0 -2.7,0a1.35,1.35 0 1,0 2.7,0M191.06,385.93a1.35,1.35 0 1,0 -2.7,0a1.35,1.35 0 1,0 2.7,0M192.68,387.63a1.35,1.35 0 1,0 -2.7,0a1.35,1.35 0 1,0 2.7,0M194.17,385.44a1.35,1.35 0 1,0 -2.7,0a1.35,1.35 0 1,0 2.7,0M194.90,388.93a1.35,1.35 0 1,0 -2.7,0a1.35,1.35 0 1,0 2.7,0M196.38,390.16a1.35,1.35 0 1,0 -2.7,0a1.35,1.35 0 1,0 2.7,0M197.20,384.16a1.35,1.35 0 1,0 -2.7,0a1.35,1.35 0 1,0 2.7,0M198.88,385.71a1.35,1.35 0 1,0 -2.7,0a1.35,1.35 0 1,0 2.7,0M200.17,387.21a1.35,1.35 0 1,0 -2.7,0a1.35,1.35 0 1,0 2.7,0M201.31,386.25a1.35,1.35 0 1,0 -2.7,0a1.35,1.35 0 1,0 2.7,0M202.22,391.05a1.35,1.35 0 1,0 -2.7,0a1.35,1.35 0 1,0 2.7,0M203.36,387.04a1.35,1.35 0 1,0 -2.7,0a1.35,1.35 0 1,0 2.7,0M204.35,387.93a1.35,1.35 0 1,0 -2.7,0a1.35,1.35 0 1,0 2.7,0M206.17,384.53a1.35,1.35 0 1,0 -2.7,0a1.35,1.35 0 1,0 2.7,0M207.42,390.82a1.35,1.35 0 1,0 -2.7,0a1.35,1.35 0 1,0 2.7,0M208.36,387.46a1.35,1.35 0 1,0 -2.7,0a1.35,1.35 0 1,0 2.7,0M209.73,388.83a1.35,1.35 0 1,0 -2.7,0a1.35,1.35 0 1,0 2.7,0M210.51,387.13a1.35,1.35 0 1,0 -2.7,0a1.35,1.35 0 1,0 2.7,0M212.14,381.74a1.35,1.35 0 1,0 -2.7,0a1.35,1.35 0 1,0 2.7,0M212.94,382.94a1.35,1.35 0 1,0 -2.7,0a1.35,1.35 0 1,0 2.7,0M214.53,383.59a1.35,1.35 0 1,0 -2.7,0a1.35,1.35 0 1,0 2.7,0" fill="none" stroke="#8a8aff" stroke-width="0.5" clip-path="url(#cdl)"/>
<path d="M32.20,412.41 L33.11,412.28 L34.02,412.16 L34.93,412.03 L35.84,411.90 L36.75,411.78 L37.66,411.65 L38.57,411.53 L39.48,411.40 L40.39,411.28 L41.30,411.16 L42.21,411.03 L43.11,410.91 L44.02,410.79 L44.93,410.67 L45.84,410.55 L46.75,410.43 L47.66,410.31 L48.57,410.19 L49.48,410.07 L50.39,409.95 L51.30,409.84 L52.21,409.72 L53.12,409.60 L54.03,409.49 L54.94,409.37 L55.85,409.26 L56.76,409.14 L57.67,409.03 L58.58,408.92 L59.49,408.80 L60.40,408.69 L61.31,408.58 L62.22,408.47 L63.12,408.36 L64.03,408.25 L64.94,408.14 L65.85,408.03 L66.76,407.92 L67.67,407.81 L68.58,407.71 L69.49,407.60 L70.40,407.49 L71.31,407.39 L72.22,407.28 L73.13,407.18 L74.04,407.07 L74.95,406.97 L75.86,406.86 L76.77,406.76 L77.68,406.66 L78.59,406.56 L79.50,406.46 L80.41,406.36 L81.32,406.26 L82.23,406.16 L83.13,406.06 L84.04,405.96 L84.95,405.86 L85.86,405.76 L86.77,405.67 L87.68,405.57 L88.59,405.47 L89.50,405.38 L90.41,405.28 L91.32,405.19 L92.23,405.09 L93.14,405.00 L94.05,404.91 L94.96,404.81 L95.87,404.72 L96.78,404.63 L97.69,404.54 L98.60,404.45 L99.51,404.36 L100.42,404.27 L101.33,404.18 L102.24,404.09 L103.14,404.01 L104.05,403.92 L104.96,403.83 L105.87,403.75 L106.78,403.66 L107.69,403.58 L108.60,403.49 L109.51,403.41 L110.42,403.32 L111.33,403.24 L112.24,403.16 L113.15,403.08 L114.06,402.99 L114.97,402.91 L115.88,402.83 L116.79,402.75 L117.70,402.67 L118.61,402.60 L119.52,402.52 L120.43,402.44 L121.34,402.36 L122.25,402.28 L123.15,402.21 L124.06,402.13 L124.97,402.06 L125.88,401.98 L126.79,401.91 L127.70,401.84 L128.61,401.76 L129.52,401.69 L130.43,401.62 L131.34,401.55 L132.25,401.47 L133.16,401.40 L134.07,401.33 L134.98,401.26 L135.89,401.20 L136.80,401.13 L137.71,401.06 L138.62,400.99 L139.53,400.92 L140.44,400.86 L141.35,400.79 L142.26,400.73 L143.16,400.66 L144.07,400.60 L144.98,400.53 L145.89,400.47 L146.80,400.41 L147.71,400.35 L148.62,400.28 L149.53,400.22 L150.44,400.16 L151.35,400.10 L152.26,400.04 L153.17,399.98 L154.08,399.93 L154.99,399.87 L155.90,399.81 L156.81,399.75 L157.72,399.70 L158.63,399.64 L159.54,399.58 L160.45,399.53 L161.36,399.48 L162.27,399.42 L163.17,399.37 L164.08,399.31 L164.99,399.26 L165.90,399.21 L166.81,399.16 L167.72,399.11 L168.63,399.06 L169.54,399.01 L170.45,398.96 L171.36,398.91 L172.27,398.86 L173.18,398.81 L174.09,398.77 L175.00,398.72 L175.91,398.68 L176.82,398.63 L177.73,398.58 L178.64,398.54 L179.55,398.50 L180.46,398.45 L181.37,398.41 L182.28,398.37 L183.18,398.32 L184.09,398.28 L185.00,398.24 L185.91,398.20 L186.82,398.16 L187.73,398.12 L188.64,398.08 L189.55,398.05 L190.46,398.01 L191.37,397.97 L192.28,397.93 L193.19,397.90 L194.10,397.86 L195.01,397.83 L195.92,397.79 L196.83,397.76 L197.74,397.72 L198.65,397.69 L199.56,397.66 L200.47,397.63 L201.38,397.60 L202.29,397.56 L203.19,397.53 L204.10,397.50 L205.01,397.47 L205.92,397.45 L206.83,397.42 L207.74,397.39 L208.65,397.36 L209.56,397.33 L210.47,397.31 L211.38,397.28 L212.29,397.26 L213.20,397.23" fill="none" stroke="#111" stroke-width="1.4" stroke-linejoin="round" />
<path d="M32.20,411.33 L33.11,411.22 L34.02,411.12 L34.93,411.01 L35.84,410.90 L36.75,410.80 L37.66,410.69 L38.57,410.59 L39.48,410.48 L40.39,410.37 L41.30,410.27 L42.21,410.16 L43.11,410.06 L44.02,409.95 L44.93,409.84 L45.84,409.74 L46.75,409.63 L47.66,409.53 L48.57,409.42 L49.48,409.31 L50.39,409.21 L51.30,409.10 L52.21,408.99 L53.12,408.89 L54.03,408.78 L54.94,408.67 L55.85,408.56 L56.76,408.45 L57.67,408.34 L58.58,408.23 L59.49,408.12 L60.40,408.01 L61.31,407.89 L62.22,407.77 L63.12,407.66 L64.03,407.53 L64.94,407.41 L65.85,407.29 L66.76,407.16 L67.67,407.02 L68.58,406.89 L69.49,406.75 L70.40,406.60 L71.31,406.45 L72.22,406.30 L73.13,406.14 L74.04,405.97 L74.95,405.79 L75.86,405.61 L76.77,405.42 L77.68,405.22 L78.59,405.01 L79.50,404.79 L80.41,404.56 L81.32,404.32 L82.23,404.07 L83.13,403.81 L84.04,403.53 L84.95,403.25 L85.86,402.94 L86.77,402.63 L87.68,402.30 L88.59,401.96 L89.50,401.61 L90.41,401.24 L91.32,400.87 L92.23,400.48 L93.14,400.08 L94.05,399.67 L94.96,399.25 L95.87,398.82 L96.78,398.38 L97.69,397.94 L98.60,397.50 L99.51,397.05 L100.42,396.60 L101.33,396.16 L102.24,395.72 L103.14,395.28 L104.05,394.86 L104.96,394.44 L105.87,394.04 L106.78,393.66 L107.69,393.29 L108.60,392.95 L109.51,392.63 L110.42,392.34 L111.33,392.08 L112.24,391.85 L113.15,391.66 L114.06,391.50 L114.97,391.37 L115.88,391.29 L116.79,391.24 L117.70,391.22 L118.61,391.25 L119.52,391.30 L120.43,391.39 L121.34,391.51 L122.25,391.66 L123.15,391.83 L124.06,392.02 L124.97,392.24 L125.88,392.47 L126.79,392.72 L127.70,392.97 L128.61,393.24 L129.52,393.52 L130.43,393.79 L131.34,394.07 L132.25,394.35 L133.16,394.63 L134.07,394.91 L134.98,395.18 L135.89,395.44 L136.80,395.69 L137.71,395.94 L138.62,396.17 L139.53,396.40 L140.44,396.61 L141.35,396.81 L142.26,397.00 L143.16,397.18 L144.07,397.34 L144.98,397.49 L145.89,397.62 L146.80,397.75 L147.71,397.86 L148.62,397.96 L149.53,398.04 L150.44,398.12 L151.35,398.18 L152.26,398.24 L153.17,398.28 L154.08,398.31 L154.99,398.34 L155.90,398.36 L156.81,398.37 L157.72,398.37 L158.63,398.36 L159.54,398.35 L160.45,398.34 L161.36,398.32 L162.27,398.29 L163.17,398.26 L164.08,398.22 L164.99,398.19 L165.90,398.15 L166.81,398.10 L167.72,398.06 L168.63,398.01 L169.54,397.96 L170.45,397.91 L171.36,397.86 L172.27,397.80 L173.18,397.75 L174.09,397.69 L175.00,397.63 L175.91,397.58 L176.82,397.52 L177.73,397.46 L178.64,397.40 L179.55,397.34 L180.46,397.28 L181.37,397.22 L182.28,397.16 L183.18,397.10 L184.09,397.04 L185.00,396.97 L185.91,396.91 L186.82,396.85 L187.73,396.79 L188.64,396.73 L189.55,396.67 L190.46,396.61 L191.37,396.55 L192.28,396.49 L193.19,396.43 L194.10,396.37 L195.01,396.30 L195.92,396.24 L196.83,396.18 L197.74,396.12 L198.65,396.06 L199.56,396.00 L200.47,395.94 L201.38,395.88 L202.29,395.82 L203.19,395.76 L204.10,395.70 L205.01,395.64 L205.92,395.59 L206.83,395.53 L207.74,395.47 L208.65,395.41 L209.56,395.35 L210.47,395.29 L211.38,395.23 L212.29,395.18 L213.20,395.12" fill="none" stroke="#ee1c1c" stroke-width="1.5" stroke-linejoin="round" />
<path d="M32.20,408.09 L33.11,407.93 L34.02,407.77 L34.93,407.61 L35.84,407.45 L36.75,407.29 L37.66,407.14 L38.57,406.98 L39.48,406.82 L40.39,406.67 L41.30,406.51 L42.21,406.35 L43.11,406.20 L44.02,406.05 L44.93,405.89 L45.84,405.74 L46.75,405.59 L47.66,405.43 L48.57,405.28 L49.48,405.13 L50.39,404.98 L51.30,404.83 L52.21,404.68 L53.12,404.53 L54.03,404.38 L54.94,404.24 L55.85,404.09 L56.76,403.94 L57.67,403.80 L58.58,403.65 L59.49,403.50 L60.40,403.36 L61.31,403.21 L62.22,403.07 L63.12,402.92 L64.03,402.77 L64.94,402.63 L65.85,402.48 L66.76,402.34 L67.67,402.19 L68.58,402.04 L69.49,401.89 L70.40,401.74 L71.31,401.58 L72.22,401.42 L73.13,401.26 L74.04,401.10 L74.95,400.93 L75.86,400.75 L76.77,400.56 L77.68,400.37 L78.59,400.17 L79.50,399.96 L80.41,399.73 L81.32,399.50 L82.23,399.24 L83.13,398.97 L84.04,398.69 L84.95,398.38 L85.86,398.05 L86.77,397.70 L87.68,397.32 L88.59,396.92 L89.50,396.49 L90.41,396.04 L91.32,395.55 L92.23,395.04 L93.14,394.50 L94.05,393.94 L94.96,393.35 L95.87,392.73 L96.78,392.09 L97.69,391.43 L98.60,390.76 L99.51,390.07 L100.42,389.38 L101.33,388.68 L102.24,387.98 L103.14,387.29 L104.05,386.62 L104.96,385.96 L105.87,385.32 L106.78,384.72 L107.69,384.15 L108.60,383.63 L109.51,383.15 L110.42,382.72 L111.33,382.35 L112.24,382.04 L113.15,381.79 L114.06,381.60 L114.97,381.48 L115.88,381.43 L116.79,381.44 L117.70,381.51 L118.61,381.64 L119.52,381.82 L120.43,382.06 L121.34,382.35 L122.25,382.69 L123.15,383.06 L124.06,383.46 L124.97,383.88 L125.88,384.33 L126.79,384.80 L127.70,385.27 L128.61,385.74 L129.52,386.21 L130.43,386.68 L131.34,387.13 L132.25,387.57 L133.16,387.99 L134.07,388.38 L134.98,388.76 L135.89,389.11 L136.80,389.43 L137.71,389.72 L138.62,389.99 L139.53,390.23 L140.44,390.44 L141.35,390.62 L142.26,390.78 L143.16,390.91 L144.07,391.02 L144.98,391.11 L145.89,391.18 L146.80,391.23 L147.71,391.26 L148.62,391.28 L149.53,391.28 L150.44,391.27 L151.35,391.25 L152.26,391.22 L153.17,391.18 L154.08,391.14 L154.99,391.09 L155.90,391.03 L156.81,390.97 L157.72,390.90 L158.63,390.83 L159.54,390.76 L160.45,390.69 L161.36,390.61 L162.27,390.54 L163.17,390.46 L164.08,390.38 L164.99,390.30 L165.90,390.22 L166.81,390.14 L167.72,390.06 L168.63,389.98 L169.54,389.91 L170.45,389.83 L171.36,389.75 L172.27,389.67 L173.18,389.59 L174.09,389.52 L175.00,389.44 L175.91,389.36 L176.82,389.29 L177.73,389.21 L178.64,389.14 L179.55,389.06 L180.46,388.99 L181.37,388.92 L182.28,388.84 L183.18,388.77 L184.09,388.70 L185.00,388.63 L185.91,388.56 L186.82,388.49 L187.73,388.42 L188.64,388.35 L189.55,388.28 L190.46,388.21 L191.37,388.15 L192.28,388.08 L193.19,388.01 L194.10,387.95 L195.01,387.88 L195.92,387.82 L196.83,387.75 L197.74,387.69 L198.65,387.62 L199.56,387.56 L200.47,387.50 L201.38,387.44 L202.29,387.38 L203.19,387.32 L204.10,387.26 L205.01,387.20 L205.92,387.14 L206.83,387.08 L207.74,387.02 L208.65,386.96 L209.56,386.91 L210.47,386.85 L211.38,386.80 L212.29,386.74 L213.20,386.69" fill="none" stroke="#1c1cee" stroke-width="1.5" stroke-linejoin="round" />
<rect x="40.5" y="337.4" width="81.3" height="35.8" fill="#fff" stroke="#c8c8c8" stroke-width="0.8"/>
<circle cx="51.1" cy="344.80" r="1.45" fill="none" stroke="#8a8aff" stroke-width="0.6"/>
<text x="56.40" y="347.80" font-size="8.5" text-anchor="start" fill="#231f20" >10 K;</text>
<line x1="86.50" y1="344.80" x2="104.90" y2="344.80" stroke="#9a66ee" stroke-width="1.0" />
<text x="108.00" y="347.80" font-size="8.5" text-anchor="start" fill="#231f20" >Fit</text>
<circle cx="51.1" cy="355.65" r="1.45" fill="none" stroke="#ff8a8a" stroke-width="0.6"/>
<text x="56.40" y="358.65" font-size="8.5" text-anchor="start" fill="#231f20" >130 K;</text>
<line x1="86.50" y1="355.65" x2="104.90" y2="355.65" stroke="#ee2a2a" stroke-width="1.0" />
<text x="108.00" y="358.65" font-size="8.5" text-anchor="start" fill="#231f20" >Fit</text>
<circle cx="51.1" cy="366.50" r="1.45" fill="none" stroke="#8c8c8c" stroke-width="0.6"/>
<text x="56.40" y="369.50" font-size="8.5" text-anchor="start" fill="#231f20" >225 K;</text>
<line x1="86.50" y1="366.50" x2="104.90" y2="366.50" stroke="#333" stroke-width="1.0" />
<text x="108.00" y="369.50" font-size="8.5" text-anchor="start" fill="#231f20" >Fit</text>
<line x1="32.20" y1="240.30" x2="213.20" y2="240.30" stroke="#4a4a4a" stroke-width="1.0" />
<line x1="32.20" y1="330.80" x2="213.20" y2="330.80" stroke="#4a4a4a" stroke-width="1.0" />
<line x1="213.20" y1="240.30" x2="213.20" y2="420.40" stroke="#4a4a4a" stroke-width="1.0" />
<line x1="31.70" y1="420.40" x2="213.70" y2="420.40" stroke="#4a4a4a" stroke-width="1.0" />
<line x1="33.00" y1="240.30" x2="33.00" y2="420.40" stroke="#9a9a9a" stroke-width="1.9" />
<line x1="42.26" y1="420.40" x2="42.26" y2="422.40" stroke="#4a4a4a" stroke-width="0.8" />
<line x1="67.40" y1="420.40" x2="67.40" y2="422.40" stroke="#4a4a4a" stroke-width="0.8" />
<line x1="92.54" y1="420.40" x2="92.54" y2="422.40" stroke="#4a4a4a" stroke-width="0.8" />
<line x1="117.68" y1="420.40" x2="117.68" y2="422.40" stroke="#4a4a4a" stroke-width="0.8" />
<line x1="142.82" y1="420.40" x2="142.82" y2="422.40" stroke="#4a4a4a" stroke-width="0.8" />
<line x1="167.96" y1="420.40" x2="167.96" y2="422.40" stroke="#4a4a4a" stroke-width="0.8" />
<line x1="193.10" y1="420.40" x2="193.10" y2="422.40" stroke="#4a4a4a" stroke-width="0.8" />
<line x1="42.26" y1="240.30" x2="42.26" y2="242.10" stroke="#4a4a4a" stroke-width="0.8" />
<line x1="67.40" y1="240.30" x2="67.40" y2="242.10" stroke="#4a4a4a" stroke-width="0.8" />
<line x1="92.54" y1="240.30" x2="92.54" y2="242.10" stroke="#4a4a4a" stroke-width="0.8" />
<line x1="117.68" y1="240.30" x2="117.68" y2="242.10" stroke="#4a4a4a" stroke-width="0.8" />
<line x1="142.82" y1="240.30" x2="142.82" y2="242.10" stroke="#4a4a4a" stroke-width="0.8" />
<line x1="167.96" y1="240.30" x2="167.96" y2="242.10" stroke="#4a4a4a" stroke-width="0.8" />
<line x1="193.10" y1="240.30" x2="193.10" y2="242.10" stroke="#4a4a4a" stroke-width="0.8" />
<line x1="42.26" y1="330.80" x2="42.26" y2="332.30" stroke="#4a4a4a" stroke-width="0.8" />
<line x1="67.40" y1="330.80" x2="67.40" y2="332.30" stroke="#4a4a4a" stroke-width="0.8" />
<line x1="92.54" y1="330.80" x2="92.54" y2="332.30" stroke="#4a4a4a" stroke-width="0.8" />
<line x1="117.68" y1="330.80" x2="117.68" y2="332.30" stroke="#4a4a4a" stroke-width="0.8" />
<line x1="142.82" y1="330.80" x2="142.82" y2="332.30" stroke="#4a4a4a" stroke-width="0.8" />
<line x1="167.96" y1="330.80" x2="167.96" y2="332.30" stroke="#4a4a4a" stroke-width="0.8" />
<line x1="193.10" y1="330.80" x2="193.10" y2="332.30" stroke="#4a4a4a" stroke-width="0.8" />
<line x1="31.30" y1="318.60" x2="29.70" y2="318.60" stroke="#4a4a4a" stroke-width="0.8" />
<line x1="213.20" y1="318.60" x2="211.20" y2="318.60" stroke="#4a4a4a" stroke-width="0.8" />
<line x1="31.30" y1="305.55" x2="29.70" y2="305.55" stroke="#4a4a4a" stroke-width="0.8" />
<line x1="213.20" y1="305.55" x2="211.20" y2="305.55" stroke="#4a4a4a" stroke-width="0.8" />
<line x1="31.30" y1="292.50" x2="29.70" y2="292.50" stroke="#4a4a4a" stroke-width="0.8" />
<line x1="213.20" y1="292.50" x2="211.20" y2="292.50" stroke="#4a4a4a" stroke-width="0.8" />
<line x1="31.30" y1="279.45" x2="29.70" y2="279.45" stroke="#4a4a4a" stroke-width="0.8" />
<line x1="213.20" y1="279.45" x2="211.20" y2="279.45" stroke="#4a4a4a" stroke-width="0.8" />
<line x1="31.30" y1="266.40" x2="29.70" y2="266.40" stroke="#4a4a4a" stroke-width="0.8" />
<line x1="213.20" y1="266.40" x2="211.20" y2="266.40" stroke="#4a4a4a" stroke-width="0.8" />
<line x1="31.30" y1="253.35" x2="29.70" y2="253.35" stroke="#4a4a4a" stroke-width="0.8" />
<line x1="213.20" y1="253.35" x2="211.20" y2="253.35" stroke="#4a4a4a" stroke-width="0.8" />
<line x1="31.30" y1="240.30" x2="29.70" y2="240.30" stroke="#4a4a4a" stroke-width="0.8" />
<line x1="213.20" y1="240.30" x2="211.20" y2="240.30" stroke="#4a4a4a" stroke-width="0.8" />
<line x1="31.30" y1="407.88" x2="29.70" y2="407.88" stroke="#4a4a4a" stroke-width="0.8" />
<line x1="213.20" y1="407.88" x2="211.20" y2="407.88" stroke="#4a4a4a" stroke-width="0.8" />
<line x1="31.30" y1="395.00" x2="29.70" y2="395.00" stroke="#4a4a4a" stroke-width="0.8" />
<line x1="213.20" y1="395.00" x2="211.20" y2="395.00" stroke="#4a4a4a" stroke-width="0.8" />
<line x1="31.30" y1="382.12" x2="29.70" y2="382.12" stroke="#4a4a4a" stroke-width="0.8" />
<line x1="213.20" y1="382.12" x2="211.20" y2="382.12" stroke="#4a4a4a" stroke-width="0.8" />
<line x1="31.30" y1="369.24" x2="29.70" y2="369.24" stroke="#4a4a4a" stroke-width="0.8" />
<line x1="213.20" y1="369.24" x2="211.20" y2="369.24" stroke="#4a4a4a" stroke-width="0.8" />
<line x1="31.30" y1="356.36" x2="29.70" y2="356.36" stroke="#4a4a4a" stroke-width="0.8" />
<line x1="213.20" y1="356.36" x2="211.20" y2="356.36" stroke="#4a4a4a" stroke-width="0.8" />
<line x1="31.30" y1="343.48" x2="29.70" y2="343.48" stroke="#4a4a4a" stroke-width="0.8" />
<line x1="213.20" y1="343.48" x2="211.20" y2="343.48" stroke="#4a4a4a" stroke-width="0.8" />
<text x="42.26" y="433.00" font-size="8.5" text-anchor="middle" fill="#231f20" >150</text>
<text x="92.54" y="433.00" font-size="8.5" text-anchor="middle" fill="#231f20" >200</text>
<text x="142.82" y="433.00" font-size="8.5" text-anchor="middle" fill="#231f20" >250</text>
<text x="193.10" y="433.00" font-size="8.5" text-anchor="middle" fill="#231f20" >300</text>
<text x="26.60" y="243.30" font-size="8.5" text-anchor="end" fill="#231f20" >10</text>
<text x="26.60" y="269.40" font-size="8.5" text-anchor="end" fill="#231f20" >0.8</text>
<text x="26.60" y="295.50" font-size="8.5" text-anchor="end" fill="#231f20" >0.6</text>
<text x="26.60" y="321.60" font-size="8.5" text-anchor="end" fill="#231f20" >0.4</text>
<text x="26.60" y="333.60" font-size="8.5" text-anchor="end" fill="#231f20" >1.0</text>
<text x="26.60" y="359.36" font-size="8.5" text-anchor="end" fill="#231f20" >0.8</text>
<text x="26.60" y="385.12" font-size="8.5" text-anchor="end" fill="#231f20" >0.6</text>
<text x="26.60" y="410.88" font-size="8.5" text-anchor="end" fill="#231f20" >0.4</text>
<text x="123.5" y="448" font-size="8.5" text-anchor="middle" fill="#231f20">Raman shift (cm<tspan dy="-3.4" font-size="5.6">−1</tspan><tspan dy="3.4">)</tspan></text>
<text x="0" y="0" font-size="8.5" text-anchor="middle" fill="#231f20" transform="translate(6.50,330.20) rotate(-90)">Intensity (a.u.)</text>
<text x="174.7" y="261" font-size="8.5" fill="#231f20"><tspan font-style="italic">y</tspan> = 0.2</text>
<text x="174.7" y="352.6" font-size="8.5" fill="#231f20"><tspan font-style="italic">y</tspan> = 0.4</text>
<text x="232.3" y="240.8" font-size="14" font-weight="bold" fill="#000">e</text>
<path d="M287.70,254.90 L391.50,418.50" fill="none" stroke="#333" stroke-width="0.85" stroke-linejoin="round" stroke-dasharray="1.6,2.2"/>
<path d="M300.30,344.00 L377.70,418.50" fill="none" stroke="#333" stroke-width="0.85" stroke-linejoin="round" stroke-dasharray="1.6,2.2"/>
<line x1="266.10" y1="251.10" x2="266.10" y2="262.30" stroke="#88ee88" stroke-width="0.7" />
<line x1="264.30" y1="251.10" x2="267.90" y2="251.10" stroke="#88ee88" stroke-width="0.7" />
<line x1="264.30" y1="262.30" x2="267.90" y2="262.30" stroke="#88ee88" stroke-width="0.7" />
<circle cx="266.10" cy="256.90" r="2.5" fill="#22e622"/>
<line x1="284.00" y1="249.90" x2="284.00" y2="260.90" stroke="#88ee88" stroke-width="0.7" />
<line x1="282.20" y1="249.90" x2="285.80" y2="249.90" stroke="#88ee88" stroke-width="0.7" />
<line x1="282.20" y1="260.90" x2="285.80" y2="260.90" stroke="#88ee88" stroke-width="0.7" />
<circle cx="284.00" cy="255.40" r="2.5" fill="#22e622"/>
<line x1="302.20" y1="271.00" x2="302.20" y2="278.60" stroke="#88ee88" stroke-width="0.7" />
<line x1="300.40" y1="271.00" x2="304.00" y2="271.00" stroke="#88ee88" stroke-width="0.7" />
<line x1="300.40" y1="278.60" x2="304.00" y2="278.60" stroke="#88ee88" stroke-width="0.7" />
<circle cx="302.20" cy="274.80" r="2.5" fill="#22e622"/>
<line x1="314.10" y1="281.50" x2="314.10" y2="289.90" stroke="#88ee88" stroke-width="0.7" />
<line x1="312.30" y1="281.50" x2="315.90" y2="281.50" stroke="#88ee88" stroke-width="0.7" />
<line x1="312.30" y1="289.90" x2="315.90" y2="289.90" stroke="#88ee88" stroke-width="0.7" />
<circle cx="314.10" cy="285.70" r="2.5" fill="#22e622"/>
<line x1="325.80" y1="320.00" x2="325.80" y2="327.60" stroke="#88ee88" stroke-width="0.7" />
<line x1="324.00" y1="320.00" x2="327.60" y2="320.00" stroke="#88ee88" stroke-width="0.7" />
<line x1="324.00" y1="327.60" x2="327.60" y2="327.60" stroke="#88ee88" stroke-width="0.7" />
<circle cx="325.80" cy="323.80" r="2.5" fill="#22e622"/>
<line x1="338.10" y1="342.00" x2="338.10" y2="348.00" stroke="#88ee88" stroke-width="0.7" />
<line x1="336.30" y1="342.00" x2="339.90" y2="342.00" stroke="#88ee88" stroke-width="0.7" />
<line x1="336.30" y1="348.00" x2="339.90" y2="348.00" stroke="#88ee88" stroke-width="0.7" />
<circle cx="338.10" cy="345.00" r="2.5" fill="#22e622"/>
<line x1="350.00" y1="358.00" x2="350.00" y2="364.60" stroke="#88ee88" stroke-width="0.7" />
<line x1="348.20" y1="358.00" x2="351.80" y2="358.00" stroke="#88ee88" stroke-width="0.7" />
<line x1="348.20" y1="364.60" x2="351.80" y2="364.60" stroke="#88ee88" stroke-width="0.7" />
<circle cx="350.00" cy="361.40" r="2.5" fill="#22e622"/>
<line x1="365.10" y1="374.20" x2="365.10" y2="380.00" stroke="#88ee88" stroke-width="0.7" />
<line x1="363.30" y1="374.20" x2="366.90" y2="374.20" stroke="#88ee88" stroke-width="0.7" />
<line x1="363.30" y1="380.00" x2="366.90" y2="380.00" stroke="#88ee88" stroke-width="0.7" />
<circle cx="365.10" cy="377.20" r="2.5" fill="#22e622"/>
<line x1="380.20" y1="394.50" x2="380.20" y2="399.80" stroke="#88ee88" stroke-width="0.7" />
<line x1="378.40" y1="394.50" x2="382.00" y2="394.50" stroke="#88ee88" stroke-width="0.7" />
<line x1="378.40" y1="399.80" x2="382.00" y2="399.80" stroke="#88ee88" stroke-width="0.7" />
<circle cx="380.20" cy="397.30" r="2.5" fill="#22e622"/>
<line x1="265.90" y1="350.80" x2="265.90" y2="361.40" stroke="#ff7070" stroke-width="0.7" />
<line x1="264.10" y1="350.80" x2="267.70" y2="350.80" stroke="#ff7070" stroke-width="0.7" />
<line x1="264.10" y1="361.40" x2="267.70" y2="361.40" stroke="#ff7070" stroke-width="0.7" />
<path d="M263.00,354.00 L268.80,354.00 L265.90,359.00 Z" fill="#ee1c1c"/>
<line x1="284.00" y1="337.00" x2="284.00" y2="350.10" stroke="#ff7070" stroke-width="0.7" />
<line x1="282.20" y1="337.00" x2="285.80" y2="337.00" stroke="#ff7070" stroke-width="0.7" />
<line x1="282.20" y1="350.10" x2="285.80" y2="350.10" stroke="#ff7070" stroke-width="0.7" />
<path d="M281.10,342.20 L286.90,342.20 L284.00,347.20 Z" fill="#ee1c1c"/>
<line x1="301.60" y1="344.00" x2="301.60" y2="351.00" stroke="#ff7070" stroke-width="0.7" />
<line x1="299.80" y1="344.00" x2="303.40" y2="344.00" stroke="#ff7070" stroke-width="0.7" />
<line x1="299.80" y1="351.00" x2="303.40" y2="351.00" stroke="#ff7070" stroke-width="0.7" />
<path d="M298.70,345.20 L304.50,345.20 L301.60,350.20 Z" fill="#ee1c1c"/>
<line x1="313.40" y1="358.50" x2="313.40" y2="365.50" stroke="#ff7070" stroke-width="0.7" />
<line x1="311.60" y1="358.50" x2="315.20" y2="358.50" stroke="#ff7070" stroke-width="0.7" />
<line x1="311.60" y1="365.50" x2="315.20" y2="365.50" stroke="#ff7070" stroke-width="0.7" />
<path d="M310.50,359.80 L316.30,359.80 L313.40,364.80 Z" fill="#ee1c1c"/>
<line x1="325.40" y1="361.00" x2="325.40" y2="370.00" stroke="#ff7070" stroke-width="0.7" />
<line x1="323.60" y1="361.00" x2="327.20" y2="361.00" stroke="#ff7070" stroke-width="0.7" />
<line x1="323.60" y1="370.00" x2="327.20" y2="370.00" stroke="#ff7070" stroke-width="0.7" />
<path d="M322.50,363.60 L328.30,363.60 L325.40,368.60 Z" fill="#ee1c1c"/>
<line x1="338.00" y1="371.00" x2="338.00" y2="378.30" stroke="#ff7070" stroke-width="0.7" />
<line x1="336.20" y1="371.00" x2="339.80" y2="371.00" stroke="#ff7070" stroke-width="0.7" />
<line x1="336.20" y1="378.30" x2="339.80" y2="378.30" stroke="#ff7070" stroke-width="0.7" />
<path d="M335.10,372.40 L340.90,372.40 L338.00,377.40 Z" fill="#ee1c1c"/>
<line x1="350.00" y1="386.50" x2="350.00" y2="393.80" stroke="#ff7070" stroke-width="0.7" />
<line x1="348.20" y1="386.50" x2="351.80" y2="386.50" stroke="#ff7070" stroke-width="0.7" />
<line x1="348.20" y1="393.80" x2="351.80" y2="393.80" stroke="#ff7070" stroke-width="0.7" />
<path d="M347.10,387.90 L352.90,387.90 L350.00,392.90 Z" fill="#ee1c1c"/>
<line x1="365.10" y1="397.20" x2="365.10" y2="404.50" stroke="#ff7070" stroke-width="0.7" />
<line x1="363.30" y1="397.20" x2="366.90" y2="397.20" stroke="#ff7070" stroke-width="0.7" />
<line x1="363.30" y1="404.50" x2="366.90" y2="404.50" stroke="#ff7070" stroke-width="0.7" />
<path d="M362.20,398.70 L368.00,398.70 L365.10,403.70 Z" fill="#ee1c1c"/>
<circle cx="394.70" cy="420.2" r="2.3" fill="#22e622"/>
<path d="M392.10,418.4 L397.30,418.4 L394.70,421.8 Z" fill="#ee1c1c"/>
<circle cx="409.80" cy="420.2" r="2.3" fill="#22e622"/>
<path d="M407.20,418.4 L412.40,418.4 L409.80,421.8 Z" fill="#ee1c1c"/>
<circle cx="439.80" cy="420.2" r="2.3" fill="#22e622"/>
<path d="M437.20,418.4 L442.40,418.4 L439.80,421.8 Z" fill="#ee1c1c"/>
<line x1="378.40" y1="361.60" x2="378.40" y2="385.00" stroke="#ee1c1c" stroke-width="1.1" />
<path d="M376.4,384.5 L380.4,384.5 L378.4,391 Z" fill="#ee1c1c"/>
<line x1="391.50" y1="375.90" x2="391.50" y2="398.50" stroke="#22e622" stroke-width="1.1" />
<path d="M389.5,398 L393.5,398 L391.5,404.8 Z" fill="#22e622"/>
<text x="365.6" y="292.2" font-size="8.5" fill="#231f20">230 cm<tspan dy="-3.4" font-size="5.6">−1</tspan><tspan dy="3.4"> mode</tspan></text>
<circle cx="368.4" cy="302.7" r="2.4" fill="#22e622"/>
<text x="374.9" y="305.9" font-size="8.5" fill="#231f20"><tspan font-style="italic">y</tspan> = 0.2</text>
<path d="M365.5,314.3 L370.9,314.3 L368.2,319.7 Z" fill="#ee1c1c"/>
<text x="374.9" y="320" font-size="8.5" fill="#231f20"><tspan font-style="italic">y</tspan> = 0.4</text>
<line x1="259.90" y1="240.60" x2="440.30" y2="240.60" stroke="#4a4a4a" stroke-width="1.0" />
<line x1="440.30" y1="240.60" x2="440.30" y2="420.40" stroke="#4a4a4a" stroke-width="1.0" />
<line x1="259.40" y1="420.40" x2="440.80" y2="420.40" stroke="#4a4a4a" stroke-width="1.0" />
<line x1="259.90" y1="240.60" x2="259.90" y2="420.40" stroke="#9a9a9a" stroke-width="1.8" />
<line x1="259.80" y1="420.40" x2="259.80" y2="422.40" stroke="#4a4a4a" stroke-width="0.8" />
<line x1="274.85" y1="420.40" x2="274.85" y2="422.40" stroke="#4a4a4a" stroke-width="0.8" />
<line x1="289.90" y1="420.40" x2="289.90" y2="422.40" stroke="#4a4a4a" stroke-width="0.8" />
<line x1="304.95" y1="420.40" x2="304.95" y2="422.40" stroke="#4a4a4a" stroke-width="0.8" />
<line x1="320.00" y1="420.40" x2="320.00" y2="422.40" stroke="#4a4a4a" stroke-width="0.8" />
<line x1="335.05" y1="420.40" x2="335.05" y2="422.40" stroke="#4a4a4a" stroke-width="0.8" />
<line x1="350.10" y1="420.40" x2="350.10" y2="422.40" stroke="#4a4a4a" stroke-width="0.8" />
<line x1="365.15" y1="420.40" x2="365.15" y2="422.40" stroke="#4a4a4a" stroke-width="0.8" />
<line x1="380.20" y1="420.40" x2="380.20" y2="422.40" stroke="#4a4a4a" stroke-width="0.8" />
<line x1="395.25" y1="420.40" x2="395.25" y2="422.40" stroke="#4a4a4a" stroke-width="0.8" />
<line x1="410.30" y1="420.40" x2="410.30" y2="422.40" stroke="#4a4a4a" stroke-width="0.8" />
<line x1="425.35" y1="420.40" x2="425.35" y2="422.40" stroke="#4a4a4a" stroke-width="0.8" />
<line x1="440.40" y1="420.40" x2="440.40" y2="422.40" stroke="#4a4a4a" stroke-width="0.8" />
<line x1="274.85" y1="240.60" x2="274.85" y2="242.60" stroke="#4a4a4a" stroke-width="0.8" />
<line x1="289.90" y1="240.60" x2="289.90" y2="242.60" stroke="#4a4a4a" stroke-width="0.8" />
<line x1="304.95" y1="240.60" x2="304.95" y2="242.60" stroke="#4a4a4a" stroke-width="0.8" />
<line x1="320.00" y1="240.60" x2="320.00" y2="242.60" stroke="#4a4a4a" stroke-width="0.8" />
<line x1="335.05" y1="240.60" x2="335.05" y2="242.60" stroke="#4a4a4a" stroke-width="0.8" />
<line x1="350.10" y1="240.60" x2="350.10" y2="242.60" stroke="#4a4a4a" stroke-width="0.8" />
<line x1="365.15" y1="240.60" x2="365.15" y2="242.60" stroke="#4a4a4a" stroke-width="0.8" />
<line x1="380.20" y1="240.60" x2="380.20" y2="242.60" stroke="#4a4a4a" stroke-width="0.8" />
<line x1="395.25" y1="240.60" x2="395.25" y2="242.60" stroke="#4a4a4a" stroke-width="0.8" />
<line x1="410.30" y1="240.60" x2="410.30" y2="242.60" stroke="#4a4a4a" stroke-width="0.8" />
<line x1="425.35" y1="240.60" x2="425.35" y2="242.60" stroke="#4a4a4a" stroke-width="0.8" />
<line x1="440.40" y1="240.60" x2="440.40" y2="242.60" stroke="#4a4a4a" stroke-width="0.8" />
<line x1="259.00" y1="420.40" x2="257.40" y2="420.40" stroke="#4a4a4a" stroke-width="0.8" />
<line x1="440.30" y1="420.40" x2="438.30" y2="420.40" stroke="#4a4a4a" stroke-width="0.8" />
<line x1="259.00" y1="402.42" x2="257.40" y2="402.42" stroke="#4a4a4a" stroke-width="0.8" />
<line x1="440.30" y1="402.42" x2="438.30" y2="402.42" stroke="#4a4a4a" stroke-width="0.8" />
<line x1="259.00" y1="384.44" x2="257.40" y2="384.44" stroke="#4a4a4a" stroke-width="0.8" />
<line x1="440.30" y1="384.44" x2="438.30" y2="384.44" stroke="#4a4a4a" stroke-width="0.8" />
<line x1="259.00" y1="366.46" x2="257.40" y2="366.46" stroke="#4a4a4a" stroke-width="0.8" />
<line x1="440.30" y1="366.46" x2="438.30" y2="366.46" stroke="#4a4a4a" stroke-width="0.8" />
<line x1="259.00" y1="348.48" x2="257.40" y2="348.48" stroke="#4a4a4a" stroke-width="0.8" />
<line x1="440.30" y1="348.48" x2="438.30" y2="348.48" stroke="#4a4a4a" stroke-width="0.8" />
<line x1="259.00" y1="330.50" x2="257.40" y2="330.50" stroke="#4a4a4a" stroke-width="0.8" />
<line x1="440.30" y1="330.50" x2="438.30" y2="330.50" stroke="#4a4a4a" stroke-width="0.8" />
<line x1="259.00" y1="312.52" x2="257.40" y2="312.52" stroke="#4a4a4a" stroke-width="0.8" />
<line x1="440.30" y1="312.52" x2="438.30" y2="312.52" stroke="#4a4a4a" stroke-width="0.8" />
<line x1="259.00" y1="294.54" x2="257.40" y2="294.54" stroke="#4a4a4a" stroke-width="0.8" />
<line x1="440.30" y1="294.54" x2="438.30" y2="294.54" stroke="#4a4a4a" stroke-width="0.8" />
<line x1="259.00" y1="276.56" x2="257.40" y2="276.56" stroke="#4a4a4a" stroke-width="0.8" />
<line x1="440.30" y1="276.56" x2="438.30" y2="276.56" stroke="#4a4a4a" stroke-width="0.8" />
<line x1="259.00" y1="258.58" x2="257.40" y2="258.58" stroke="#4a4a4a" stroke-width="0.8" />
<line x1="440.30" y1="258.58" x2="438.30" y2="258.58" stroke="#4a4a4a" stroke-width="0.8" />
<line x1="259.00" y1="240.60" x2="257.40" y2="240.60" stroke="#4a4a4a" stroke-width="0.8" />
<line x1="440.30" y1="240.60" x2="438.30" y2="240.60" stroke="#4a4a4a" stroke-width="0.8" />
<text x="259.80" y="433.00" font-size="8.5" text-anchor="middle" fill="#231f20" >0</text>
<text x="289.90" y="433.00" font-size="8.5" text-anchor="middle" fill="#231f20" >50</text>
<text x="320.00" y="433.00" font-size="8.5" text-anchor="middle" fill="#231f20" >100</text>
<text x="350.10" y="433.00" font-size="8.5" text-anchor="middle" fill="#231f20" >150</text>
<text x="380.20" y="433.00" font-size="8.5" text-anchor="middle" fill="#231f20" >200</text>
<text x="410.30" y="433.00" font-size="8.5" text-anchor="middle" fill="#231f20" >250</text>
<text x="440.40" y="433.00" font-size="8.5" text-anchor="middle" fill="#231f20" >300</text>
<text x="254.00" y="423.42" font-size="8.5" text-anchor="end" fill="#231f20" >0</text>
<text x="254.00" y="387.46" font-size="8.5" text-anchor="end" fill="#231f20" >2</text>
<text x="254.00" y="351.50" font-size="8.5" text-anchor="end" fill="#231f20" >4</text>
<text x="254.00" y="315.54" font-size="8.5" text-anchor="end" fill="#231f20" >6</text>
<text x="254.00" y="279.58" font-size="8.5" text-anchor="end" fill="#231f20" >8</text>
<text x="254.00" y="243.62" font-size="8.5" text-anchor="end" fill="#231f20" >10</text>
<text x="349" y="446" font-size="8.5" text-anchor="middle" fill="#231f20"><tspan font-style="italic">T</tspan> (K)</text>
<text x="0" y="0" font-size="8.5" text-anchor="middle" fill="#231f20" transform="translate(239.50,327.30) rotate(-90)">Peak area (a.u.)</text>
<text x="461.8" y="240.6" font-size="14" font-weight="bold" fill="#000">f</text>
<path d="M558.30,251.90 L632.20,282.80" fill="none" stroke="#333" stroke-width="0.85" stroke-linejoin="round" stroke-dasharray="1.6,2.2"/>
<path d="M623.50,269.30 L672.50,418.00" fill="none" stroke="#333" stroke-width="0.85" stroke-linejoin="round" stroke-dasharray="1.6,2.2"/>
<path d="M542.10,287.20 L621.80,306.70" fill="none" stroke="#333" stroke-width="0.85" stroke-linejoin="round" stroke-dasharray="1.6,2.2"/>
<path d="M611.80,298.40 L672.00,418.00" fill="none" stroke="#333" stroke-width="0.85" stroke-linejoin="round" stroke-dasharray="1.6,2.2"/>
<line x1="544.60" y1="276.80" x2="544.60" y2="289.20" stroke="#ff7070" stroke-width="0.7" />
<line x1="542.80" y1="276.80" x2="546.40" y2="276.80" stroke="#ff7070" stroke-width="0.7" />
<line x1="542.80" y1="289.20" x2="546.40" y2="289.20" stroke="#ff7070" stroke-width="0.7" />
<path d="M541.70,281.20 L547.50,281.20 L544.60,286.20 Z" fill="#ee1c1c"/>
<line x1="556.30" y1="302.20" x2="556.30" y2="317.60" stroke="#ff7070" stroke-width="0.7" />
<line x1="554.50" y1="302.20" x2="558.10" y2="302.20" stroke="#ff7070" stroke-width="0.7" />
<line x1="554.50" y1="317.60" x2="558.10" y2="317.60" stroke="#ff7070" stroke-width="0.7" />
<path d="M553.40,307.30 L559.20,307.30 L556.30,312.30 Z" fill="#ee1c1c"/>
<line x1="568.30" y1="280.30" x2="568.30" y2="294.70" stroke="#ff7070" stroke-width="0.7" />
<line x1="566.50" y1="280.30" x2="570.10" y2="280.30" stroke="#ff7070" stroke-width="0.7" />
<line x1="566.50" y1="294.70" x2="570.10" y2="294.70" stroke="#ff7070" stroke-width="0.7" />
<path d="M565.40,286.20 L571.20,286.20 L568.30,291.20 Z" fill="#ee1c1c"/>
<line x1="580.00" y1="278.50" x2="580.00" y2="294.70" stroke="#ff7070" stroke-width="0.7" />
<line x1="578.20" y1="278.50" x2="581.80" y2="278.50" stroke="#ff7070" stroke-width="0.7" />
<line x1="578.20" y1="294.70" x2="581.80" y2="294.70" stroke="#ff7070" stroke-width="0.7" />
<path d="M577.10,284.90 L582.90,284.90 L580.00,289.90 Z" fill="#ee1c1c"/>
<line x1="591.90" y1="298.40" x2="591.90" y2="313.40" stroke="#ff7070" stroke-width="0.7" />
<line x1="590.10" y1="298.40" x2="593.70" y2="298.40" stroke="#ff7070" stroke-width="0.7" />
<line x1="590.10" y1="313.40" x2="593.70" y2="313.40" stroke="#ff7070" stroke-width="0.7" />
<path d="M589.00,303.60 L594.80,303.60 L591.90,308.60 Z" fill="#ee1c1c"/>
<line x1="603.60" y1="296.00" x2="603.60" y2="311.00" stroke="#ff7070" stroke-width="0.7" />
<line x1="601.80" y1="296.00" x2="605.40" y2="296.00" stroke="#ff7070" stroke-width="0.7" />
<line x1="601.80" y1="311.00" x2="605.40" y2="311.00" stroke="#ff7070" stroke-width="0.7" />
<path d="M600.70,301.90 L606.50,301.90 L603.60,306.90 Z" fill="#ee1c1c"/>
<line x1="615.60" y1="309.60" x2="615.60" y2="323.30" stroke="#ff7070" stroke-width="0.7" />
<line x1="613.80" y1="309.60" x2="617.40" y2="309.60" stroke="#ff7070" stroke-width="0.7" />
<line x1="613.80" y1="323.30" x2="617.40" y2="323.30" stroke="#ff7070" stroke-width="0.7" />
<path d="M612.70,315.30 L618.50,315.30 L615.60,320.30 Z" fill="#ee1c1c"/>
<line x1="627.20" y1="337.00" x2="627.20" y2="349.60" stroke="#ff7070" stroke-width="0.7" />
<line x1="625.40" y1="337.00" x2="629.00" y2="337.00" stroke="#ff7070" stroke-width="0.7" />
<line x1="625.40" y1="349.60" x2="629.00" y2="349.60" stroke="#ff7070" stroke-width="0.7" />
<path d="M624.30,341.70 L630.10,341.70 L627.20,346.70 Z" fill="#ee1c1c"/>
<line x1="639.00" y1="352.00" x2="639.00" y2="360.90" stroke="#ff7070" stroke-width="0.7" />
<line x1="637.20" y1="352.00" x2="640.80" y2="352.00" stroke="#ff7070" stroke-width="0.7" />
<line x1="637.20" y1="360.90" x2="640.80" y2="360.90" stroke="#ff7070" stroke-width="0.7" />
<path d="M636.10,353.50 L641.90,353.50 L639.00,358.50 Z" fill="#ee1c1c"/>
<line x1="650.30" y1="368.40" x2="650.30" y2="381.70" stroke="#ff7070" stroke-width="0.7" />
<line x1="648.50" y1="368.40" x2="652.10" y2="368.40" stroke="#ff7070" stroke-width="0.7" />
<line x1="648.50" y1="381.70" x2="652.10" y2="381.70" stroke="#ff7070" stroke-width="0.7" />
<path d="M647.40,373.60 L653.20,373.60 L650.30,378.60 Z" fill="#ee1c1c"/>
<line x1="662.90" y1="389.70" x2="662.90" y2="402.30" stroke="#ff7070" stroke-width="0.7" />
<line x1="661.10" y1="389.70" x2="664.70" y2="389.70" stroke="#ff7070" stroke-width="0.7" />
<line x1="661.10" y1="402.30" x2="664.70" y2="402.30" stroke="#ff7070" stroke-width="0.7" />
<path d="M660.00,394.20 L665.80,394.20 L662.90,399.20 Z" fill="#ee1c1c"/>
<line x1="674.20" y1="412.00" x2="674.20" y2="421.00" stroke="#ff7070" stroke-width="0.7" />
<line x1="672.40" y1="412.00" x2="676.00" y2="412.00" stroke="#ff7070" stroke-width="0.7" />
<line x1="672.40" y1="421.00" x2="676.00" y2="421.00" stroke="#ff7070" stroke-width="0.7" />
<path d="M671.30,416.30 L677.10,416.30 L674.20,421.30 Z" fill="#ee1c1c"/>
<line x1="556.30" y1="248.30" x2="556.30" y2="255.50" stroke="#88ee88" stroke-width="0.7" />
<circle cx="556.30" cy="251.90" r="2.5" fill="#22e622"/>
<line x1="568.30" y1="254.50" x2="568.30" y2="261.70" stroke="#88ee88" stroke-width="0.7" />
<circle cx="568.30" cy="258.10" r="2.5" fill="#22e622"/>
<line x1="580.00" y1="257.00" x2="580.00" y2="264.20" stroke="#88ee88" stroke-width="0.7" />
<circle cx="580.00" cy="260.60" r="2.5" fill="#22e622"/>
<line x1="591.90" y1="262.50" x2="591.90" y2="269.70" stroke="#88ee88" stroke-width="0.7" />
<circle cx="591.90" cy="266.10" r="2.5" fill="#22e622"/>
<line x1="604.10" y1="272.40" x2="604.10" y2="279.60" stroke="#88ee88" stroke-width="0.7" />
<circle cx="604.10" cy="276.00" r="2.5" fill="#22e622"/>
<line x1="615.60" y1="280.60" x2="615.60" y2="287.80" stroke="#88ee88" stroke-width="0.7" />
<circle cx="615.60" cy="284.20" r="2.5" fill="#22e622"/>
<line x1="627.30" y1="297.80" x2="627.30" y2="305.00" stroke="#88ee88" stroke-width="0.7" />
<circle cx="627.30" cy="301.40" r="2.5" fill="#22e622"/>
<line x1="639.20" y1="311.50" x2="639.20" y2="318.70" stroke="#88ee88" stroke-width="0.7" />
<circle cx="639.20" cy="315.10" r="2.5" fill="#22e622"/>
<line x1="650.80" y1="351.00" x2="650.80" y2="358.20" stroke="#88ee88" stroke-width="0.7" />
<circle cx="650.80" cy="354.60" r="2.5" fill="#22e622"/>
<line x1="662.90" y1="381.10" x2="662.90" y2="388.30" stroke="#88ee88" stroke-width="0.7" />
<circle cx="662.90" cy="384.70" r="2.5" fill="#22e622"/>
<line x1="674.20" y1="416.30" x2="674.20" y2="423.50" stroke="#88ee88" stroke-width="0.7" />
<circle cx="674.20" cy="419.90" r="2.5" fill="#22e622"/>
<circle cx="674.2" cy="419.9" r="2.5" fill="#22e622"/>
<line x1="629.00" y1="247.90" x2="629.00" y2="267.00" stroke="#22e622" stroke-width="1.2" />
<path d="M626.9,266.5 L631.1,266.5 L629,273.5 Z" fill="#22e622"/>
<line x1="599.40" y1="328.30" x2="611.50" y2="311.50" stroke="#ee1c1c" stroke-width="1.2" />
<path d="M614.3,307.6 L609.1,310.9 L612.7,313.5 Z" fill="#ee1c1c"/>
<circle cx="520.4" cy="382.9" r="2.4" fill="#22e622"/>
<text x="527.3" y="385.4" font-size="8.5" fill="#231f20"><tspan font-style="italic">y</tspan> = 0.2</text>
<path d="M517.4,394.5 L523,394.5 L520.2,399.7 Z" fill="#ee1c1c"/>
<text x="527.3" y="399" font-size="8.5" fill="#231f20"><tspan font-style="italic">y</tspan> = 0.4</text>
<rect x="497.60" y="240.60" width="179.70" height="179.80" fill="none" stroke="#4a4a4a" stroke-width="1.0"/>
<line x1="497.20" y1="420.40" x2="497.20" y2="422.40" stroke="#4a4a4a" stroke-width="0.8" />
<line x1="511.94" y1="420.40" x2="511.94" y2="422.40" stroke="#4a4a4a" stroke-width="0.8" />
<line x1="526.68" y1="420.40" x2="526.68" y2="422.40" stroke="#4a4a4a" stroke-width="0.8" />
<line x1="541.43" y1="420.40" x2="541.43" y2="422.40" stroke="#4a4a4a" stroke-width="0.8" />
<line x1="556.17" y1="420.40" x2="556.17" y2="422.40" stroke="#4a4a4a" stroke-width="0.8" />
<line x1="570.91" y1="420.40" x2="570.91" y2="422.40" stroke="#4a4a4a" stroke-width="0.8" />
<line x1="585.65" y1="420.40" x2="585.65" y2="422.40" stroke="#4a4a4a" stroke-width="0.8" />
<line x1="600.40" y1="420.40" x2="600.40" y2="422.40" stroke="#4a4a4a" stroke-width="0.8" />
<line x1="615.14" y1="420.40" x2="615.14" y2="422.40" stroke="#4a4a4a" stroke-width="0.8" />
<line x1="629.88" y1="420.40" x2="629.88" y2="422.40" stroke="#4a4a4a" stroke-width="0.8" />
<line x1="644.62" y1="420.40" x2="644.62" y2="422.40" stroke="#4a4a4a" stroke-width="0.8" />
<line x1="659.37" y1="420.40" x2="659.37" y2="422.40" stroke="#4a4a4a" stroke-width="0.8" />
<line x1="674.11" y1="420.40" x2="674.11" y2="422.40" stroke="#4a4a4a" stroke-width="0.8" />
<line x1="511.94" y1="240.60" x2="511.94" y2="242.60" stroke="#4a4a4a" stroke-width="0.8" />
<line x1="526.68" y1="240.60" x2="526.68" y2="242.60" stroke="#4a4a4a" stroke-width="0.8" />
<line x1="541.43" y1="240.60" x2="541.43" y2="242.60" stroke="#4a4a4a" stroke-width="0.8" />
<line x1="556.17" y1="240.60" x2="556.17" y2="242.60" stroke="#4a4a4a" stroke-width="0.8" />
<line x1="570.91" y1="240.60" x2="570.91" y2="242.60" stroke="#4a4a4a" stroke-width="0.8" />
<line x1="585.65" y1="240.60" x2="585.65" y2="242.60" stroke="#4a4a4a" stroke-width="0.8" />
<line x1="600.40" y1="240.60" x2="600.40" y2="242.60" stroke="#4a4a4a" stroke-width="0.8" />
<line x1="615.14" y1="240.60" x2="615.14" y2="242.60" stroke="#4a4a4a" stroke-width="0.8" />
<line x1="629.88" y1="240.60" x2="629.88" y2="242.60" stroke="#4a4a4a" stroke-width="0.8" />
<line x1="644.62" y1="240.60" x2="644.62" y2="242.60" stroke="#4a4a4a" stroke-width="0.8" />
<line x1="659.37" y1="240.60" x2="659.37" y2="242.60" stroke="#4a4a4a" stroke-width="0.8" />
<line x1="674.11" y1="240.60" x2="674.11" y2="242.60" stroke="#4a4a4a" stroke-width="0.8" />
<line x1="497.10" y1="420.70" x2="495.10" y2="420.70" stroke="#4a4a4a" stroke-width="0.8" />
<line x1="677.30" y1="420.70" x2="675.30" y2="420.70" stroke="#4a4a4a" stroke-width="0.8" />
<line x1="497.10" y1="384.70" x2="495.10" y2="384.70" stroke="#4a4a4a" stroke-width="0.8" />
<line x1="677.30" y1="384.70" x2="675.30" y2="384.70" stroke="#4a4a4a" stroke-width="0.8" />
<line x1="497.10" y1="348.70" x2="495.10" y2="348.70" stroke="#4a4a4a" stroke-width="0.8" />
<line x1="677.30" y1="348.70" x2="675.30" y2="348.70" stroke="#4a4a4a" stroke-width="0.8" />
<line x1="497.10" y1="312.70" x2="495.10" y2="312.70" stroke="#4a4a4a" stroke-width="0.8" />
<line x1="677.30" y1="312.70" x2="675.30" y2="312.70" stroke="#4a4a4a" stroke-width="0.8" />
<line x1="497.10" y1="276.70" x2="495.10" y2="276.70" stroke="#4a4a4a" stroke-width="0.8" />
<line x1="677.30" y1="276.70" x2="675.30" y2="276.70" stroke="#4a4a4a" stroke-width="0.8" />
<line x1="497.10" y1="240.70" x2="495.10" y2="240.70" stroke="#4a4a4a" stroke-width="0.8" />
<line x1="677.30" y1="240.70" x2="675.30" y2="240.70" stroke="#4a4a4a" stroke-width="0.8" />
<text x="497.20" y="433.00" font-size="8.5" text-anchor="middle" fill="#231f20" >0</text>
<text x="526.68" y="433.00" font-size="8.5" text-anchor="middle" fill="#231f20" >50</text>
<text x="556.17" y="433.00" font-size="8.5" text-anchor="middle" fill="#231f20" >100</text>
<text x="585.65" y="433.00" font-size="8.5" text-anchor="middle" fill="#231f20" >150</text>
<text x="615.14" y="433.00" font-size="8.5" text-anchor="middle" fill="#231f20" >200</text>
<text x="644.62" y="433.00" font-size="8.5" text-anchor="middle" fill="#231f20" >250</text>
<text x="674.11" y="433.00" font-size="8.5" text-anchor="middle" fill="#231f20" >300</text>
<text x="491.50" y="423.70" font-size="8.5" text-anchor="end" fill="#231f20" >0.0</text>
<text x="491.50" y="351.70" font-size="8.5" text-anchor="end" fill="#231f20" >0.1</text>
<text x="491.50" y="279.70" font-size="8.5" text-anchor="end" fill="#231f20" >0.2</text>
<text x="585.6" y="446" font-size="8.5" text-anchor="middle" fill="#231f20"><tspan font-style="italic">T</tspan> (K)</text>
<text x="0" y="0" font-size="8.5" text-anchor="middle" fill="#231f20" textLength="61" lengthAdjust="spacingAndGlyphs" transform="translate(470.6,327.6) rotate(-90)">Δ<tspan font-style="italic">c</tspan>-Δ<tspan font-style="italic">c</tspan> (300 K) [pm]</text>
</svg></body></html>
